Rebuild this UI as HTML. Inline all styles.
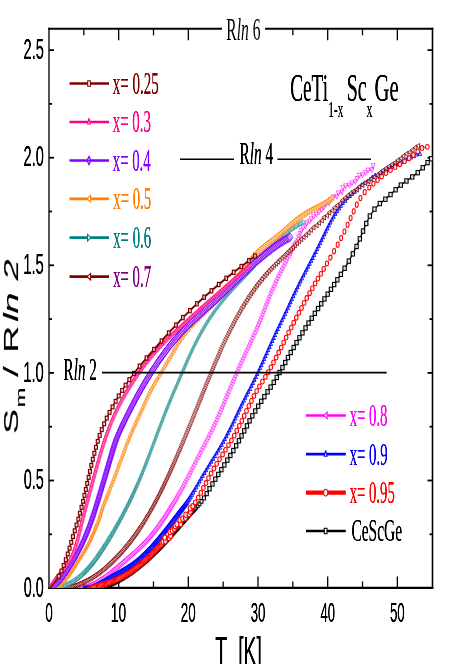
<!DOCTYPE html>
<html lang="en"><head><meta charset="utf-8"><title>Entropy of CeTi1-xScxGe</title><style>html,body{margin:0;padding:0;background:#fff;}body{width:450px;height:664px;overflow:hidden;}svg{display:block;}</style></head><body><svg width="450" height="664" viewBox="0 0 450 664"><rect x="0" y="0" width="450" height="664" fill="#fff"/><defs><filter id="bx" filterUnits="userSpaceOnUse" x="0" y="0" width="450" height="664" color-interpolation-filters="sRGB"><feGaussianBlur stdDeviation="0.3 0"/><feComponentTransfer><feFuncA type="linear" slope="1.45" intercept="-0.03"/></feComponentTransfer></filter></defs><defs><clipPath id="plotclip"><rect x="49.00" y="28.80" width="383.50" height="559.20"/></clipPath></defs>
<g id="frame"><line x1="49.00" y1="27.80" x2="49.00" y2="588.90" stroke="#2a2a2a" stroke-width="1.6"/><line x1="432.50" y1="27.80" x2="432.50" y2="588.90" stroke="#000" stroke-width="1.6"/><line x1="48.20" y1="587.90" x2="433.30" y2="587.90" stroke="#000" stroke-width="2.1"/><line x1="48.20" y1="28.80" x2="222.00" y2="28.80" stroke="#000" stroke-width="2"/><line x1="264.80" y1="28.80" x2="433.30" y2="28.80" stroke="#000" stroke-width="2"/><line x1="83.84" y1="587.90" x2="83.84" y2="581.40" stroke="#000" stroke-width="1.3"/><line x1="83.84" y1="28.80" x2="83.84" y2="35.30" stroke="#000" stroke-width="1.3"/><line x1="118.67" y1="587.90" x2="118.67" y2="576.40" stroke="#000" stroke-width="1.3"/><line x1="118.67" y1="28.80" x2="118.67" y2="40.30" stroke="#000" stroke-width="1.3"/><line x1="153.50" y1="587.90" x2="153.50" y2="581.40" stroke="#000" stroke-width="1.3"/><line x1="153.50" y1="28.80" x2="153.50" y2="35.30" stroke="#000" stroke-width="1.3"/><line x1="188.34" y1="587.90" x2="188.34" y2="576.40" stroke="#000" stroke-width="1.3"/><line x1="188.34" y1="28.80" x2="188.34" y2="40.30" stroke="#000" stroke-width="1.3"/><line x1="223.17" y1="587.90" x2="223.17" y2="581.40" stroke="#000" stroke-width="1.3"/><line x1="223.17" y1="28.80" x2="223.17" y2="35.30" stroke="#000" stroke-width="1.3"/><line x1="258.01" y1="587.90" x2="258.01" y2="576.40" stroke="#000" stroke-width="1.3"/><line x1="258.01" y1="28.80" x2="258.01" y2="40.30" stroke="#000" stroke-width="1.3"/><line x1="292.85" y1="587.90" x2="292.85" y2="581.40" stroke="#000" stroke-width="1.3"/><line x1="292.85" y1="28.80" x2="292.85" y2="35.30" stroke="#000" stroke-width="1.3"/><line x1="327.68" y1="587.90" x2="327.68" y2="576.40" stroke="#000" stroke-width="1.3"/><line x1="327.68" y1="28.80" x2="327.68" y2="40.30" stroke="#000" stroke-width="1.3"/><line x1="362.51" y1="587.90" x2="362.51" y2="581.40" stroke="#000" stroke-width="1.3"/><line x1="362.51" y1="28.80" x2="362.51" y2="35.30" stroke="#000" stroke-width="1.3"/><line x1="397.35" y1="587.90" x2="397.35" y2="576.40" stroke="#000" stroke-width="1.3"/><line x1="397.35" y1="28.80" x2="397.35" y2="40.30" stroke="#000" stroke-width="1.3"/><line x1="49.00" y1="534.30" x2="52.00" y2="534.30" stroke="#000" stroke-width="1.8"/><line x1="432.50" y1="534.30" x2="429.50" y2="534.30" stroke="#000" stroke-width="1.8"/><line x1="49.00" y1="480.50" x2="54.00" y2="480.50" stroke="#000" stroke-width="1.8"/><line x1="432.50" y1="480.50" x2="427.50" y2="480.50" stroke="#000" stroke-width="1.8"/><line x1="49.00" y1="426.70" x2="52.00" y2="426.70" stroke="#000" stroke-width="1.8"/><line x1="432.50" y1="426.70" x2="429.50" y2="426.70" stroke="#000" stroke-width="1.8"/><line x1="49.00" y1="372.90" x2="54.00" y2="372.90" stroke="#000" stroke-width="1.8"/><line x1="432.50" y1="372.90" x2="427.50" y2="372.90" stroke="#000" stroke-width="1.8"/><line x1="49.00" y1="319.10" x2="52.00" y2="319.10" stroke="#000" stroke-width="1.8"/><line x1="432.50" y1="319.10" x2="429.50" y2="319.10" stroke="#000" stroke-width="1.8"/><line x1="49.00" y1="265.30" x2="54.00" y2="265.30" stroke="#000" stroke-width="1.8"/><line x1="432.50" y1="265.30" x2="427.50" y2="265.30" stroke="#000" stroke-width="1.8"/><line x1="49.00" y1="211.50" x2="52.00" y2="211.50" stroke="#000" stroke-width="1.8"/><line x1="432.50" y1="211.50" x2="429.50" y2="211.50" stroke="#000" stroke-width="1.8"/><line x1="49.00" y1="157.70" x2="54.00" y2="157.70" stroke="#000" stroke-width="1.8"/><line x1="432.50" y1="157.70" x2="427.50" y2="157.70" stroke="#000" stroke-width="1.8"/><line x1="49.00" y1="103.90" x2="52.00" y2="103.90" stroke="#000" stroke-width="1.8"/><line x1="432.50" y1="103.90" x2="429.50" y2="103.90" stroke="#000" stroke-width="1.8"/><line x1="49.00" y1="50.10" x2="54.00" y2="50.10" stroke="#000" stroke-width="1.8"/><line x1="432.50" y1="50.10" x2="427.50" y2="50.10" stroke="#000" stroke-width="1.8"/></g>
<g id="curves" clip-path="url(#plotclip)"><g stroke="#000000" fill="none">
<path d="M100.0 588.3L102.9 587.5L105.7 586.5L108.5 585.5L111.3 584.4L114.1 583.2L116.8 581.8L119.4 580.4L122.0 578.9L124.6 577.3L127.1 575.7L129.6 574.1L132.0 572.3L134.5 570.6L136.8 568.8L139.2 566.9L141.5 565.0L143.8 563.1L146.1 561.1L148.3 559.1L150.5 557.1L152.7 555.0L154.9 552.9L157.0 550.8L159.1 548.7L161.2 546.5L163.3 544.4L165.3 542.2L167.4 540.0L169.4 537.7L171.4 535.5L173.4 533.3L175.3 531.0L177.3 528.7L179.3 526.5L181.2 524.2L183.2 521.9L185.2 519.7L187.2 517.4L189.2 515.2L191.2 513.0L193.2 510.8L195.2 508.6L197.7 505.9L199.4 503.9L201.5 501.3L203.9 498.0L206.7 493.6L209.5 488.8L212.4 484.0L215.3 479.2L218.3 474.4L221.3 469.7L224.4 464.9L227.4 460.2L230.4 455.4L233.3 450.6L236.1 445.7L238.9 440.8L241.6 435.8L244.2 430.8L246.9 425.8L249.6 420.8L252.4 415.9L255.2 411.0L258.2 406.2L261.3 401.4L264.4 396.6L267.5 391.9L270.6 387.1L273.7 382.3L276.7 377.5L279.6 372.5L282.4 367.6L285.2 362.6L288.0 357.6L290.8 352.6L293.6 347.6L296.5 342.6L299.5 337.7L302.5 332.8L305.5 327.9L308.6 323.1L311.7 318.2L314.9 313.4L318.0 308.6L321.2 303.8L324.5 299.0L327.7 294.2L330.9 289.4L334.1 284.6L337.4 279.7L340.8 274.4L344.7 268.2L348.9 261.1L352.8 253.8L356.5 246.4L359.9 238.8L363.0 231.2L366.2 223.5L369.9 216.0L374.5 209.1L379.8 203.6L385.3 199.2L390.6 194.6L395.6 189.8L400.8 185.0L406.4 180.9L412.2 177.0L417.7 172.6L422.8 167.8L427.5 162.6L431.0 158.7" stroke-width="1.35" stroke-linejoin="round"/>
<g fill="#fff" fill-opacity="0.85" stroke-width="1.00">
<rect x="98.7" y="586.6" width="2.7" height="3.3"/>
<rect x="100.1" y="586.3" width="2.7" height="3.3"/>
<rect x="101.5" y="585.8" width="2.7" height="3.3"/>
<rect x="103.0" y="585.4" width="2.7" height="3.3"/>
<rect x="104.4" y="584.9" width="2.7" height="3.3"/>
<rect x="105.8" y="584.4" width="2.7" height="3.3"/>
<rect x="107.2" y="583.9" width="2.7" height="3.3"/>
<rect x="108.6" y="583.3" width="2.7" height="3.3"/>
<rect x="110.0" y="582.7" width="2.7" height="3.3"/>
<rect x="111.4" y="582.1" width="2.7" height="3.3"/>
<rect x="112.7" y="581.5" width="2.7" height="3.3"/>
<rect x="114.1" y="580.9" width="2.7" height="3.3"/>
<rect x="115.4" y="580.2" width="2.7" height="3.3"/>
<rect x="116.7" y="579.5" width="2.7" height="3.3"/>
<rect x="118.0" y="578.7" width="2.7" height="3.3"/>
<rect x="119.3" y="578.0" width="2.7" height="3.3"/>
<rect x="120.6" y="577.2" width="2.7" height="3.3"/>
<rect x="121.9" y="576.5" width="2.7" height="3.3"/>
<rect x="123.2" y="575.7" width="2.7" height="3.3"/>
<rect x="124.5" y="574.9" width="2.7" height="3.3"/>
<rect x="125.7" y="574.1" width="2.7" height="3.3"/>
<rect x="127.0" y="573.3" width="2.7" height="3.3"/>
<rect x="128.2" y="572.4" width="2.7" height="3.3"/>
<rect x="129.5" y="571.6" width="2.7" height="3.3"/>
<rect x="130.7" y="570.7" width="2.7" height="3.3"/>
<rect x="131.9" y="569.8" width="2.7" height="3.3"/>
<rect x="133.1" y="568.9" width="2.7" height="3.3"/>
<rect x="134.3" y="568.0" width="2.7" height="3.3"/>
<rect x="135.5" y="567.1" width="2.7" height="3.3"/>
<rect x="136.7" y="566.2" width="2.7" height="3.3"/>
<rect x="137.8" y="565.2" width="2.7" height="3.3"/>
<rect x="139.0" y="564.3" width="2.7" height="3.3"/>
<rect x="140.2" y="563.3" width="2.7" height="3.3"/>
<rect x="141.3" y="562.4" width="2.7" height="3.3"/>
<rect x="142.5" y="561.4" width="2.7" height="3.3"/>
<rect x="143.6" y="560.4" width="2.7" height="3.3"/>
<rect x="144.7" y="559.4" width="2.7" height="3.3"/>
<rect x="145.9" y="558.5" width="2.7" height="3.3"/>
<rect x="147.0" y="557.4" width="2.7" height="3.3"/>
<rect x="148.1" y="556.4" width="2.7" height="3.3"/>
<rect x="149.2" y="555.4" width="2.7" height="3.3"/>
<rect x="150.3" y="554.4" width="2.7" height="3.3"/>
<rect x="151.4" y="553.4" width="2.7" height="3.3"/>
<rect x="152.4" y="552.3" width="2.7" height="3.3"/>
<rect x="153.5" y="551.3" width="2.7" height="3.3"/>
<rect x="154.6" y="550.2" width="2.7" height="3.3"/>
<rect x="155.7" y="549.2" width="2.7" height="3.3"/>
<rect x="156.7" y="548.1" width="2.7" height="3.3"/>
<rect x="157.8" y="547.0" width="2.7" height="3.3"/>
<rect x="158.8" y="546.0" width="2.7" height="3.3"/>
<rect x="159.9" y="544.9" width="2.7" height="3.3"/>
<rect x="160.9" y="543.8" width="2.7" height="3.3"/>
<rect x="161.9" y="542.7" width="2.7" height="3.3"/>
<rect x="163.0" y="541.6" width="2.7" height="3.3"/>
<rect x="164.0" y="540.5" width="2.7" height="3.3"/>
<rect x="165.0" y="539.4" width="2.7" height="3.3"/>
<rect x="166.0" y="538.3" width="2.7" height="3.3"/>
<rect x="167.0" y="537.2" width="2.7" height="3.3"/>
<rect x="168.0" y="536.1" width="2.7" height="3.3"/>
<rect x="169.0" y="535.0" width="2.7" height="3.3"/>
<rect x="170.0" y="533.9" width="2.7" height="3.3"/>
<rect x="171.0" y="532.7" width="2.7" height="3.3"/>
<rect x="172.0" y="531.6" width="2.7" height="3.3"/>
<rect x="173.0" y="530.5" width="2.7" height="3.3"/>
<rect x="174.0" y="529.3" width="2.7" height="3.3"/>
<rect x="175.0" y="528.2" width="2.7" height="3.3"/>
<rect x="176.0" y="527.1" width="2.7" height="3.3"/>
<rect x="176.9" y="526.0" width="2.7" height="3.3"/>
<rect x="177.9" y="524.8" width="2.7" height="3.3"/>
<rect x="178.9" y="523.7" width="2.7" height="3.3"/>
<rect x="179.9" y="522.6" width="2.7" height="3.3"/>
<rect x="180.9" y="521.4" width="2.7" height="3.3"/>
<rect x="181.9" y="520.3" width="2.7" height="3.3"/>
<rect x="182.8" y="519.2" width="2.7" height="3.3"/>
<rect x="183.8" y="518.0" width="2.7" height="3.3"/>
<rect x="184.8" y="516.9" width="2.7" height="3.3"/>
<rect x="185.8" y="515.8" width="2.7" height="3.3"/>
<rect x="186.8" y="514.7" width="2.7" height="3.3"/>
<rect x="187.8" y="513.6" width="2.7" height="3.3"/>
<rect x="188.8" y="512.4" width="2.7" height="3.3"/>
<rect x="189.8" y="511.3" width="2.7" height="3.3"/>
<rect x="190.9" y="510.2" width="2.7" height="3.3"/>
<rect x="191.9" y="509.1" width="2.7" height="3.3"/>
<rect x="192.9" y="508.0" width="2.7" height="3.3"/>
<rect x="193.9" y="506.9" width="2.7" height="3.3"/>
<rect x="194.9" y="505.7" width="2.8" height="3.4"/>
<rect x="196.3" y="504.1" width="2.8" height="3.5"/>
<rect x="198.0" y="502.1" width="2.9" height="3.6"/>
<rect x="200.0" y="499.5" width="3.0" height="3.7" stroke-width="1.04"/>
<rect x="202.4" y="496.0" width="3.1" height="3.9" stroke-width="1.06"/>
<rect x="205.1" y="491.6" width="3.2" height="4.1" stroke-width="1.08"/>
<rect x="207.9" y="486.6" width="3.3" height="4.3" stroke-width="1.10"/>
<rect x="210.8" y="481.8" width="3.3" height="4.3" stroke-width="1.10"/>
<rect x="213.7" y="477.0" width="3.3" height="4.3" stroke-width="1.10"/>
<rect x="216.6" y="472.3" width="3.3" height="4.3" stroke-width="1.10"/>
<rect x="219.7" y="467.5" width="3.3" height="4.3" stroke-width="1.10"/>
<rect x="222.7" y="462.8" width="3.3" height="4.3" stroke-width="1.10"/>
<rect x="225.7" y="458.0" width="3.3" height="4.3" stroke-width="1.10"/>
<rect x="228.7" y="453.3" width="3.3" height="4.3" stroke-width="1.10"/>
<rect x="231.7" y="448.4" width="3.3" height="4.3" stroke-width="1.10"/>
<rect x="234.5" y="443.6" width="3.3" height="4.3" stroke-width="1.10"/>
<rect x="237.3" y="438.6" width="3.3" height="4.3" stroke-width="1.10"/>
<rect x="239.9" y="433.7" width="3.3" height="4.3" stroke-width="1.10"/>
<rect x="242.6" y="428.7" width="3.3" height="4.3" stroke-width="1.10"/>
<rect x="245.3" y="423.7" width="3.3" height="4.3" stroke-width="1.10"/>
<rect x="247.9" y="418.7" width="3.3" height="4.3" stroke-width="1.10"/>
<rect x="250.7" y="413.7" width="3.3" height="4.3" stroke-width="1.10"/>
<rect x="253.6" y="408.9" width="3.3" height="4.3" stroke-width="1.10"/>
<rect x="256.5" y="404.0" width="3.3" height="4.3" stroke-width="1.10"/>
<rect x="259.6" y="399.2" width="3.3" height="4.3" stroke-width="1.10"/>
<rect x="262.7" y="394.5" width="3.3" height="4.3" stroke-width="1.10"/>
<rect x="265.9" y="389.7" width="3.3" height="4.3" stroke-width="1.10"/>
<rect x="269.0" y="385.0" width="3.3" height="4.3" stroke-width="1.10"/>
<rect x="272.1" y="380.2" width="3.3" height="4.3" stroke-width="1.10"/>
<rect x="275.1" y="375.3" width="3.3" height="4.3" stroke-width="1.10"/>
<rect x="277.9" y="370.4" width="3.3" height="4.3" stroke-width="1.10"/>
<rect x="280.8" y="365.4" width="3.3" height="4.3" stroke-width="1.10"/>
<rect x="283.6" y="360.4" width="3.3" height="4.3" stroke-width="1.10"/>
<rect x="286.3" y="355.4" width="3.3" height="4.3" stroke-width="1.10"/>
<rect x="289.1" y="350.4" width="3.3" height="4.3" stroke-width="1.10"/>
<rect x="292.0" y="345.4" width="3.3" height="4.3" stroke-width="1.10"/>
<rect x="294.9" y="340.5" width="3.3" height="4.3" stroke-width="1.10"/>
<rect x="297.8" y="335.6" width="3.3" height="4.3" stroke-width="1.10"/>
<rect x="300.8" y="330.7" width="3.3" height="4.3" stroke-width="1.10"/>
<rect x="303.9" y="325.8" width="3.3" height="4.3" stroke-width="1.10"/>
<rect x="306.9" y="320.9" width="3.3" height="4.3" stroke-width="1.10"/>
<rect x="310.1" y="316.1" width="3.3" height="4.3" stroke-width="1.10"/>
<rect x="313.2" y="311.2" width="3.3" height="4.3" stroke-width="1.10"/>
<rect x="316.4" y="306.4" width="3.3" height="4.3" stroke-width="1.10"/>
<rect x="319.6" y="301.6" width="3.3" height="4.3" stroke-width="1.10"/>
<rect x="322.8" y="296.8" width="3.3" height="4.3" stroke-width="1.10"/>
<rect x="326.0" y="292.0" width="3.3" height="4.3" stroke-width="1.10"/>
<rect x="329.3" y="287.2" width="3.3" height="4.3" stroke-width="1.10"/>
<rect x="332.5" y="282.4" width="3.3" height="4.3" stroke-width="1.10"/>
<rect x="335.7" y="277.6" width="3.3" height="4.3" stroke-width="1.10"/>
<rect x="339.2" y="272.2" width="3.3" height="4.3" stroke-width="1.10"/>
<rect x="343.0" y="266.1" width="3.3" height="4.3" stroke-width="1.10"/>
<rect x="347.2" y="259.0" width="3.3" height="4.3" stroke-width="1.10"/>
<rect x="351.2" y="251.7" width="3.3" height="4.3" stroke-width="1.10"/>
<rect x="354.9" y="244.3" width="3.3" height="4.3" stroke-width="1.10"/>
<rect x="358.2" y="236.7" width="3.3" height="4.3" stroke-width="1.10"/>
<rect x="361.4" y="229.0" width="3.3" height="4.3" stroke-width="1.10"/>
<rect x="364.6" y="221.3" width="3.3" height="4.3" stroke-width="1.10"/>
<rect x="368.2" y="213.9" width="3.3" height="4.3" stroke-width="1.10"/>
<rect x="372.8" y="207.0" width="3.3" height="4.3" stroke-width="1.10"/>
<rect x="378.2" y="201.4" width="3.3" height="4.3" stroke-width="1.10"/>
<rect x="383.7" y="197.1" width="3.3" height="4.3" stroke-width="1.10"/>
<rect x="388.9" y="192.4" width="3.3" height="4.3" stroke-width="1.10"/>
<rect x="394.0" y="187.6" width="3.3" height="4.3" stroke-width="1.10"/>
<rect x="399.2" y="182.9" width="3.3" height="4.3" stroke-width="1.10"/>
<rect x="404.8" y="178.8" width="3.3" height="4.3" stroke-width="1.10"/>
<rect x="410.6" y="174.8" width="3.3" height="4.3" stroke-width="1.10"/>
<rect x="416.1" y="170.5" width="3.3" height="4.3" stroke-width="1.10"/>
<rect x="421.1" y="165.6" width="3.3" height="4.3" stroke-width="1.10"/>
<rect x="425.9" y="160.5" width="3.3" height="4.3" stroke-width="1.10"/>
<rect x="429.4" y="156.6" width="3.3" height="4.3" stroke-width="1.10"/>
</g></g>
<g stroke="#ff00ff" fill="none">
<path d="M78.0 588.2L81.0 587.8L83.9 587.2L86.9 586.3L89.8 585.1L92.8 583.8L95.8 582.2L98.7 580.5L101.7 578.6L104.6 576.6L107.6 574.4L110.6 572.1L113.5 569.7L116.5 567.3L119.5 564.8L122.4 562.3L125.4 559.8L128.3 557.2L131.3 554.7L134.3 552.1L137.2 549.4L140.2 546.6L143.1 543.7L146.1 540.6L149.1 537.3L152.0 533.8" stroke-width="3.00" stroke-opacity="0.30" stroke-linejoin="round"/>
<path d="M152.0 533.8L155.0 530.1" stroke-width="2.80" stroke-opacity="0.30" stroke-linejoin="round"/>
<path d="M155.0 530.1L157.9 526.1" stroke-width="2.50" stroke-opacity="0.30" stroke-linejoin="round"/>
<path d="M157.9 526.1L160.9 521.9" stroke-width="2.21" stroke-opacity="0.30" stroke-linejoin="round"/>
<path d="M160.9 521.9L163.9 517.6" stroke-width="1.91" stroke-opacity="0.30" stroke-linejoin="round"/>
<path d="M163.9 517.6L166.8 513.0" stroke-width="1.61" stroke-opacity="0.30" stroke-linejoin="round"/>
<path d="M166.8 513.0L169.8 508.3" stroke-width="1.32" stroke-opacity="0.30" stroke-linejoin="round"/>
<path d="M169.8 508.3L172.7 503.5" stroke-width="1.02" stroke-opacity="0.30" stroke-linejoin="round"/>
<path d="M172.7 503.5L175.7 498.6" stroke-width="0.73" stroke-opacity="0.30" stroke-linejoin="round"/>
<path d="M175.7 498.6L178.7 493.5" stroke-width="0.43" stroke-opacity="0.30" stroke-linejoin="round"/>
<path d="M178.7 493.5L181.6 488.3" stroke-width="0.13" stroke-opacity="0.30" stroke-linejoin="round"/>
<path d="M78.0 588.2L81.0 587.8L83.9 587.2L86.8 586.3L89.6 585.2L92.3 584.0L95.0 582.7L97.6 581.2L100.1 579.6L102.6 577.9L105.1 576.2L107.5 574.5L109.9 572.6L112.3 570.8L114.6 568.9L116.9 567.0L119.2 565.0L121.5 563.1L123.8 561.2L126.0 559.2L128.3 557.2L130.6 555.3L132.9 553.3L135.1 551.3L137.3 549.3L139.5 547.3L141.7 545.2L143.8 543.0L145.9 540.9L147.9 538.7L149.9 536.4L151.8 534.1L153.7 531.8L155.5 529.4L157.3 527.0L159.0 524.6L160.8 522.1L162.5 519.6L164.1 517.1L165.8 514.6L167.4 512.1L169.0 509.6L170.6 507.0L172.2 504.3L174.0 501.5L175.8 498.4L177.7 495.1L178.7 493.4L179.7 491.6L180.8 489.7L181.9 487.8L183.0 485.8L184.1 483.8L185.2 481.6L186.4 479.4L187.6 477.2L188.8 474.8L190.0 472.4L191.2 469.9L192.5 467.4L193.7 464.9L195.0 462.4L196.3 459.9L197.5 457.4L198.8 454.9L200.1 452.4L201.3 449.9L202.7 447.4L204.0 444.9L205.3 442.5L206.6 440.0L207.9 437.5L209.1 435.0L210.4 432.5L211.6 430.0L212.8 427.5L214.0 424.9L215.2 422.4L216.3 419.8L217.5 417.3L218.6 414.7L219.7 412.1L220.8 409.6L221.9 407.0L223.0 404.4L224.1 401.8L225.2 399.2L226.3 396.7L227.3 394.1L228.4 391.5L229.5 388.9L230.6 386.3L231.7 383.7L232.7 381.2L233.8 378.6L235.0 376.0L236.1 373.4L237.2 370.9L238.3 368.3L239.4 365.8L240.6 363.2L241.7 360.7L242.9 358.1L244.1 355.6L245.2 353.0L246.4 350.5L247.6 347.9L248.8 345.4L250.0 342.9L251.1 340.3L252.3 337.8L253.4 335.2L254.6 332.6L255.7 330.1L256.8 327.5L257.9 324.9L258.9 322.3L260.0 319.8L261.0 317.2L262.1 314.5L263.1 311.9L264.1 309.3L265.1 306.7L266.2 304.1L267.2 301.5L268.2 298.9L269.3 296.3L270.3 293.7L271.4 291.1L272.5 288.6L273.6 286.0L274.8 283.4L275.9 280.9L277.1 278.4L278.3 275.8L279.6 273.3L280.8 270.8L282.0 268.3L283.3 265.8L284.6 263.3L285.8 260.8L286.9 258.2L288.6 255.9L289.9 253.4L291.1 250.9L292.3 248.4L293.5 245.9L294.4 243.2L296.4 241.0L297.7 238.6L298.5 235.7L300.3 233.4L301.2 230.5L303.0 228.0L305.6 226.2L306.6 223.0L309.6 221.5L311.4 218.8L313.6 216.4L316.4 214.4L318.9 212.1L321.5 209.9L323.8 207.4L325.8 204.6L329.0 203.0L330.5 199.7L333.1 197.4L336.9 196.6L338.4 193.1L342.1 192.2L342.8 187.8L345.7 186.0L349.5 185.3L352.0 183.0L355.3 181.8L357.2 178.6L359.2 175.5L362.8 174.8L365.5 172.7L368.0 170.3L371.9 169.9L373.1 165.7" stroke-width="0.90" stroke-linejoin="round"/>
<g fill="#fff" fill-opacity="0.6" stroke-width="0.70">
<path d="M79.6 585.7L76.0 588.2L79.6 590.7Z"/>
<path d="M81.1 585.5L77.5 588.0L81.1 590.5Z"/>
<path d="M82.6 585.3L79.0 587.8L82.6 590.3Z"/>
<path d="M84.0 585.0L80.4 587.5L84.0 590.0Z"/>
<path d="M85.5 584.7L81.9 587.2L85.5 589.7Z"/>
<path d="M87.0 584.3L83.4 586.8L87.0 589.3Z"/>
<path d="M88.4 583.8L84.8 586.3L88.4 588.8Z"/>
<path d="M89.8 583.3L86.2 585.8L89.8 588.3Z"/>
<path d="M91.2 582.7L87.6 585.2L91.2 587.7Z"/>
<path d="M92.6 582.2L89.0 584.7L92.6 587.2Z"/>
<path d="M93.9 581.5L90.3 584.0L93.9 586.5Z"/>
<path d="M95.3 580.9L91.7 583.4L95.3 585.9Z"/>
<path d="M96.6 580.2L93.0 582.7L96.6 585.2Z"/>
<path d="M97.9 579.4L94.3 581.9L97.9 584.4Z"/>
<path d="M99.2 578.7L95.6 581.2L99.2 583.7Z"/>
<path d="M100.5 577.9L96.9 580.4L100.5 582.9Z"/>
<path d="M101.7 577.1L98.1 579.6L101.7 582.1Z"/>
<path d="M103.0 576.3L99.4 578.8L103.0 581.3Z"/>
<path d="M104.2 575.4L100.6 577.9L104.2 580.4Z"/>
<path d="M105.5 574.6L101.9 577.1L105.5 579.6Z"/>
<path d="M106.7 573.7L103.1 576.2L106.7 578.7Z"/>
<path d="M107.9 572.8L104.3 575.3L107.9 577.8Z"/>
<path d="M109.1 572.0L105.5 574.5L109.1 577.0Z"/>
<path d="M110.3 571.0L106.7 573.5L110.3 576.0Z"/>
<path d="M111.5 570.1L107.9 572.6L111.5 575.1Z"/>
<path d="M112.7 569.2L109.1 571.7L112.7 574.2Z"/>
<path d="M113.9 568.3L110.3 570.8L113.9 573.3Z"/>
<path d="M115.0 567.3L111.4 569.8L115.0 572.3Z"/>
<path d="M116.2 566.4L112.6 568.9L116.2 571.4Z"/>
<path d="M117.3 565.4L113.7 567.9L117.3 570.4Z"/>
<path d="M118.5 564.5L114.9 567.0L118.5 569.5Z"/>
<path d="M119.7 563.5L116.1 566.0L119.7 568.5Z"/>
<path d="M120.8 562.5L117.2 565.0L120.8 567.5Z"/>
<path d="M122.0 561.6L118.4 564.1L122.0 566.6Z"/>
<path d="M123.1 560.6L119.5 563.1L123.1 565.6Z"/>
<path d="M124.2 559.6L120.6 562.1L124.2 564.6Z"/>
<path d="M125.4 558.7L121.8 561.2L125.4 563.7Z"/>
<path d="M126.5 557.7L122.9 560.2L126.5 562.7Z"/>
<path d="M127.6 556.7L124.0 559.2L127.6 561.7Z"/>
<path d="M128.8 555.7L125.2 558.2L128.8 560.7Z"/>
<path d="M129.9 554.7L126.3 557.2L129.9 559.7Z"/>
<path d="M131.1 553.8L127.5 556.3L131.1 558.8Z"/>
<path d="M132.2 552.8L128.6 555.3L132.2 557.8Z"/>
<path d="M133.3 551.8L129.7 554.3L133.3 556.8Z"/>
<path d="M134.5 550.8L130.9 553.3L134.5 555.8Z"/>
<path d="M135.6 549.8L132.0 552.3L135.6 554.8Z"/>
<path d="M136.7 548.8L133.1 551.3L136.7 553.8Z"/>
<path d="M137.8 547.8L134.2 550.3L137.8 552.8Z"/>
<path d="M138.9 546.8L135.3 549.3L138.9 551.8Z"/>
<path d="M140.0 545.8L136.4 548.3L140.0 550.8Z"/>
<path d="M141.1 544.8L137.5 547.3L141.1 549.8Z"/>
<path d="M142.2 543.7L138.6 546.2L142.2 548.7Z"/>
<path d="M143.3 542.7L139.7 545.2L143.3 547.7Z"/>
<path d="M144.3 541.6L140.7 544.1L144.3 546.6Z"/>
<path d="M145.4 540.5L141.8 543.0L145.4 545.5Z"/>
<path d="M146.4 539.5L142.8 542.0L146.4 544.5Z"/>
<path d="M147.5 538.4L143.9 540.9L147.5 543.4Z"/>
<path d="M148.5 537.3L144.9 539.8L148.5 542.3Z"/>
<path d="M149.5 536.2L145.9 538.7L149.5 541.2Z"/>
<path d="M150.5 535.0L146.9 537.5L150.5 540.0Z"/>
<path d="M151.5 533.9L147.9 536.4L151.5 538.9Z"/>
<path d="M152.4 532.8L148.8 535.3L152.4 537.8Z"/>
<path d="M153.4 531.6L149.8 534.1L153.4 536.6Z"/>
<path d="M154.3 530.4L150.7 532.9L154.3 535.4Z"/>
<path d="M155.3 529.3L151.7 531.8L155.3 534.3Z"/>
<path d="M156.2 528.1L152.6 530.6L156.2 533.1Z"/>
<path d="M157.1 526.9L153.5 529.4L157.1 531.9Z"/>
<path d="M158.0 525.7L154.4 528.2L158.0 530.7Z"/>
<path d="M158.9 524.5L155.3 527.0L158.9 529.5Z"/>
<path d="M159.8 523.3L156.2 525.8L159.8 528.3Z"/>
<path d="M160.6 522.1L157.0 524.6L160.6 527.1Z"/>
<path d="M161.5 520.8L157.9 523.3L161.5 525.8Z"/>
<path d="M162.4 519.6L158.8 522.1L162.4 524.6Z"/>
<path d="M163.2 518.4L159.6 520.9L163.2 523.4Z"/>
<path d="M164.1 517.1L160.5 519.6L164.1 522.1Z"/>
<path d="M164.9 515.9L161.3 518.4L164.9 520.9Z"/>
<path d="M165.7 514.7L162.1 517.1L165.7 519.6Z"/>
<path d="M166.6 513.4L163.0 515.9L166.6 518.4Z"/>
<path d="M167.4 512.1L163.8 514.6L167.4 517.1Z"/>
<path d="M168.2 510.9L164.6 513.4L168.2 515.8Z"/>
<path d="M169.0 509.6L165.4 512.1L169.0 514.6Z"/>
<path d="M169.8 508.4L166.2 510.8L169.8 513.3Z"/>
<path d="M170.6 507.1L167.0 509.6L170.6 512.0Z"/>
<path d="M171.4 505.8L167.8 508.3L171.4 510.8Z"/>
<path d="M172.2 504.6L168.6 507.0L172.2 509.5Z"/>
<path d="M173.0 503.3L169.4 505.7L173.0 508.2Z"/>
<path d="M173.8 501.9L170.2 504.3L173.8 506.8Z"/>
<path d="M174.7 500.5L171.1 502.9L174.7 505.4Z"/>
<path d="M175.6 499.0L172.0 501.5L175.6 503.9Z"/>
<path d="M176.5 497.5L172.9 500.0L176.5 502.4Z"/>
<path d="M177.4 496.0L173.8 498.4L177.4 500.9Z"/>
<path d="M178.3 494.4L174.7 496.8L178.3 499.2Z" stroke-width="0.67"/>
<path d="M179.3 492.7L175.7 495.1L179.3 497.6Z" stroke-width="0.66"/>
<path d="M180.3 491.0L176.7 493.4L180.3 495.8Z" stroke-width="0.66"/>
<path d="M181.3 489.2L177.7 491.6L181.3 494.0Z" stroke-width="0.65"/>
<path d="M182.4 487.3L178.8 489.7L182.4 492.2Z" stroke-width="0.65"/>
<path d="M183.5 485.4L179.9 487.8L183.5 490.2Z" stroke-width="0.64"/>
<path d="M184.6 483.4L181.0 485.8L184.6 488.2Z" stroke-width="0.64"/>
<path d="M185.7 481.4L182.1 483.8L185.7 486.2Z" stroke-width="0.63"/>
<path d="M186.8 479.2L183.2 481.6L186.8 484.0Z" stroke-width="0.62"/>
<path d="M188.0 477.0L184.4 479.4L188.0 481.8Z" stroke-width="0.62"/>
<path d="M189.2 474.8L185.6 477.2L189.2 479.6Z" stroke-width="0.61"/>
<path d="M190.4 472.4L186.8 474.8L190.4 477.2Z" stroke-width="0.61"/>
<path d="M191.6 470.0L188.0 472.4L191.6 474.8Z" stroke-width="0.60"/>
<path d="M192.8 467.5L189.2 469.9L192.8 472.3Z" stroke-width="0.60"/>
<path d="M194.1 465.0L190.5 467.4L194.1 469.8Z" stroke-width="0.60"/>
<path d="M195.3 462.5L191.7 464.9L195.3 467.3Z" stroke-width="0.60"/>
<path d="M196.6 460.0L193.0 462.4L196.6 464.8Z" stroke-width="0.60"/>
<path d="M197.9 457.5L194.3 459.9L197.9 462.3Z" stroke-width="0.60"/>
<path d="M199.1 455.0L195.5 457.4L199.1 459.8Z" stroke-width="0.60"/>
<path d="M200.4 452.5L196.8 454.9L200.4 457.3Z" stroke-width="0.60"/>
<path d="M201.7 450.0L198.1 452.4L201.7 454.8Z" stroke-width="0.60"/>
<path d="M202.9 447.5L199.3 449.9L202.9 452.3Z" stroke-width="0.60"/>
<path d="M204.3 445.0L200.7 447.4L204.3 449.8Z" stroke-width="0.60"/>
<path d="M205.6 442.5L202.0 444.9L205.6 447.3Z" stroke-width="0.60"/>
<path d="M206.9 440.1L203.3 442.5L206.9 444.9Z" stroke-width="0.60"/>
<path d="M208.2 437.6L204.6 440.0L208.2 442.4Z" stroke-width="0.60"/>
<path d="M209.5 435.1L205.9 437.5L209.5 439.9Z" stroke-width="0.60"/>
<path d="M210.7 432.6L207.1 435.0L210.7 437.4Z" stroke-width="0.60"/>
<path d="M212.0 430.1L208.4 432.5L212.0 434.9Z" stroke-width="0.60"/>
<path d="M213.2 427.6L209.6 430.0L213.2 432.4Z" stroke-width="0.60"/>
<path d="M214.4 425.1L210.8 427.5L214.4 429.9Z" stroke-width="0.60"/>
<path d="M215.6 422.5L212.0 424.9L215.6 427.3Z" stroke-width="0.60"/>
<path d="M216.8 420.0L213.2 422.4L216.8 424.8Z" stroke-width="0.60"/>
<path d="M217.9 417.4L214.3 419.8L217.9 422.2Z" stroke-width="0.60"/>
<path d="M219.1 414.9L215.5 417.3L219.1 419.7Z" stroke-width="0.60"/>
<path d="M220.2 412.3L216.6 414.7L220.2 417.1Z" stroke-width="0.60"/>
<path d="M221.3 409.7L217.7 412.1L221.3 414.5Z" stroke-width="0.60"/>
<path d="M222.4 407.2L218.8 409.6L222.4 412.0Z" stroke-width="0.60"/>
<path d="M223.5 404.6L219.9 407.0L223.5 409.4Z" stroke-width="0.60"/>
<path d="M224.6 402.0L221.0 404.4L224.6 406.8Z" stroke-width="0.60"/>
<path d="M225.7 399.4L222.1 401.8L225.7 404.2Z" stroke-width="0.60"/>
<path d="M226.8 396.8L223.2 399.2L226.8 401.6Z" stroke-width="0.60"/>
<path d="M227.9 394.3L224.3 396.7L227.9 399.1Z" stroke-width="0.60"/>
<path d="M228.9 391.7L225.3 394.1L228.9 396.5Z" stroke-width="0.60"/>
<path d="M230.0 389.1L226.4 391.5L230.0 393.9Z" stroke-width="0.60"/>
<path d="M231.1 386.5L227.5 388.9L231.1 391.3Z" stroke-width="0.60"/>
<path d="M232.2 383.9L228.6 386.3L232.2 388.7Z" stroke-width="0.60"/>
<path d="M233.3 381.3L229.7 383.7L233.3 386.1Z" stroke-width="0.60"/>
<path d="M234.3 378.8L230.7 381.2L234.3 383.6Z" stroke-width="0.60"/>
<path d="M235.4 376.2L231.8 378.6L235.4 381.0Z" stroke-width="0.60"/>
<path d="M236.6 373.6L233.0 376.0L236.6 378.4Z" stroke-width="0.60"/>
<path d="M237.7 371.0L234.1 373.4L237.7 375.8Z" stroke-width="0.60"/>
<path d="M238.8 368.5L235.2 370.9L238.8 373.3Z" stroke-width="0.60"/>
<path d="M239.9 365.9L236.3 368.3L239.9 370.7Z" stroke-width="0.60"/>
<path d="M241.0 363.4L237.4 365.8L241.0 368.2Z" stroke-width="0.60"/>
<path d="M242.2 360.8L238.6 363.2L242.2 365.6Z" stroke-width="0.60"/>
<path d="M243.3 358.3L239.7 360.7L243.3 363.1Z" stroke-width="0.60"/>
<path d="M244.5 355.7L240.9 358.1L244.5 360.5Z" stroke-width="0.60"/>
<path d="M245.7 353.2L242.1 355.6L245.7 358.0Z" stroke-width="0.60"/>
<path d="M246.8 350.6L243.2 353.0L246.8 355.4Z" stroke-width="0.60"/>
<path d="M248.0 348.1L244.4 350.5L248.0 352.9Z" stroke-width="0.60"/>
<path d="M249.2 345.5L245.6 347.9L249.2 350.3Z" stroke-width="0.60"/>
<path d="M250.4 343.0L246.8 345.4L250.4 347.8Z" stroke-width="0.60"/>
<path d="M251.6 340.5L248.0 342.9L251.6 345.3Z" stroke-width="0.60"/>
<path d="M252.7 337.9L249.1 340.3L252.7 342.7Z" stroke-width="0.60"/>
<path d="M253.9 335.4L250.3 337.8L253.9 340.2Z" stroke-width="0.60"/>
<path d="M255.0 332.8L251.4 335.2L255.0 337.6Z" stroke-width="0.60"/>
<path d="M256.2 330.2L252.6 332.6L256.2 335.0Z" stroke-width="0.60"/>
<path d="M257.3 327.7L253.7 330.1L257.3 332.5Z" stroke-width="0.60"/>
<path d="M258.4 325.1L254.8 327.5L258.4 329.9Z" stroke-width="0.60"/>
<path d="M259.5 322.5L255.9 324.9L259.5 327.3Z" stroke-width="0.60"/>
<path d="M260.5 319.9L256.9 322.3L260.5 324.7Z" stroke-width="0.60"/>
<path d="M261.6 317.4L258.0 319.8L261.6 322.2Z" stroke-width="0.60"/>
<path d="M262.6 314.8L259.0 317.2L262.6 319.6Z" stroke-width="0.60"/>
<path d="M263.7 312.1L260.1 314.5L263.7 316.9Z" stroke-width="0.60"/>
<path d="M264.7 309.5L261.1 311.9L264.7 314.3Z" stroke-width="0.60"/>
<path d="M265.7 306.9L262.1 309.3L265.7 311.7Z" stroke-width="0.60"/>
<path d="M266.7 304.3L263.1 306.7L266.7 309.1Z" stroke-width="0.60"/>
<path d="M267.8 301.7L264.2 304.1L267.8 306.5Z" stroke-width="0.60"/>
<path d="M268.8 299.1L265.2 301.5L268.8 303.9Z" stroke-width="0.60"/>
<path d="M269.8 296.5L266.2 298.9L269.8 301.3Z" stroke-width="0.60"/>
<path d="M270.9 293.9L267.3 296.3L270.9 298.7Z" stroke-width="0.60"/>
<path d="M271.9 291.3L268.3 293.7L271.9 296.1Z" stroke-width="0.60"/>
<path d="M273.0 288.7L269.4 291.1L273.0 293.5Z" stroke-width="0.60"/>
<path d="M274.1 286.2L270.5 288.6L274.1 291.0Z" stroke-width="0.60"/>
<path d="M275.2 283.6L271.6 286.0L275.2 288.4Z" stroke-width="0.60"/>
<path d="M276.4 281.0L272.8 283.4L276.4 285.8Z" stroke-width="0.60"/>
<path d="M277.5 278.5L273.9 280.9L277.5 283.3Z" stroke-width="0.60"/>
<path d="M278.7 276.0L275.1 278.4L278.7 280.8Z" stroke-width="0.60"/>
<path d="M279.9 273.4L276.3 275.8L279.9 278.2Z" stroke-width="0.60"/>
<path d="M281.2 270.9L277.6 273.3L281.2 275.7Z" stroke-width="0.60"/>
<path d="M282.4 268.4L278.8 270.8L282.4 273.2Z" stroke-width="0.60"/>
<path d="M283.6 265.9L280.0 268.3L283.6 270.7Z" stroke-width="0.60"/>
<path d="M284.9 263.4L281.3 265.8L284.9 268.2Z" stroke-width="0.60"/>
<path d="M286.2 260.9L282.6 263.3L286.2 265.7Z" stroke-width="0.60"/>
<path d="M287.4 258.4L283.8 260.8L287.4 263.2Z" stroke-width="0.60"/>
<path d="M288.5 255.8L284.9 258.2L288.5 260.6Z" stroke-width="0.60"/>
<path d="M290.2 253.5L286.6 255.9L290.2 258.3Z" stroke-width="0.60"/>
<path d="M291.5 251.0L287.9 253.4L291.5 255.8Z" stroke-width="0.60"/>
<path d="M292.7 248.5L289.1 250.9L292.7 253.3Z" stroke-width="0.60"/>
<path d="M294.0 246.0L290.3 248.4L294.0 250.8Z" stroke-width="0.60"/>
<path d="M295.1 243.4L291.5 245.9L295.1 248.3Z" stroke-width="0.60"/>
<path d="M296.0 240.7L292.4 243.2L296.0 245.6Z" stroke-width="0.60"/>
<path d="M298.0 238.5L294.3 241.0L298.0 243.5Z" stroke-width="0.60"/>
<path d="M299.4 236.0L295.7 238.6L299.4 241.1Z" stroke-width="0.60"/>
<path d="M300.2 233.2L296.5 235.7L300.2 238.2Z" stroke-width="0.60"/>
<path d="M298.2 231.3L302.3 231.3L300.3 235.9Z" stroke-width="0.60"/>
<path d="M299.2 228.4L303.3 228.4L301.2 233.1Z" stroke-width="0.60"/>
<path d="M300.9 226.0L305.1 226.0L303.0 230.6Z" stroke-width="0.60"/>
<path d="M303.5 224.1L307.7 224.1L305.6 228.8Z" stroke-width="0.60"/>
<path d="M304.5 220.9L308.7 220.9L306.6 225.7Z" stroke-width="0.60"/>
<path d="M307.5 219.3L311.7 219.3L309.6 224.2Z" stroke-width="0.60"/>
<path d="M309.3 216.7L313.5 216.7L311.4 221.5Z" stroke-width="0.60"/>
<path d="M311.5 214.2L315.7 214.2L313.6 219.1Z" stroke-width="0.60"/>
<path d="M314.3 212.3L318.5 212.3L316.4 217.1Z" stroke-width="0.60"/>
<path d="M316.8 210.0L321.0 210.0L318.9 214.8Z" stroke-width="0.60"/>
<path d="M319.4 207.8L323.6 207.8L321.5 212.6Z" stroke-width="0.60"/>
<path d="M321.7 205.3L325.9 205.3L323.8 210.1Z" stroke-width="0.60"/>
<path d="M323.7 202.4L327.9 202.4L325.8 207.3Z" stroke-width="0.60"/>
<path d="M326.9 200.8L331.1 200.8L329.0 205.7Z" stroke-width="0.60"/>
<path d="M328.4 197.5L332.6 197.5L330.5 202.4Z" stroke-width="0.60"/>
<path d="M331.0 195.2L335.2 195.2L333.1 200.1Z" stroke-width="0.60"/>
<path d="M334.8 194.4L339.0 194.4L336.9 199.3Z" stroke-width="0.60"/>
<path d="M336.3 190.9L340.5 190.9L338.4 195.8Z" stroke-width="0.60"/>
<path d="M340.0 190.1L344.2 190.1L342.1 194.9Z" stroke-width="0.60"/>
<path d="M340.7 185.6L344.9 185.6L342.8 190.5Z" stroke-width="0.60"/>
<path d="M343.6 183.8L347.8 183.8L345.7 188.7Z" stroke-width="0.60"/>
<path d="M347.4 183.1L351.6 183.1L349.5 188.0Z" stroke-width="0.60"/>
<path d="M349.9 180.8L354.1 180.8L352.0 185.7Z" stroke-width="0.60"/>
<path d="M353.2 179.7L357.4 179.7L355.3 184.5Z" stroke-width="0.60"/>
<path d="M355.1 176.5L359.3 176.5L357.2 181.3Z" stroke-width="0.60"/>
<path d="M357.1 173.3L361.3 173.3L359.2 178.2Z" stroke-width="0.60"/>
<path d="M360.7 172.6L364.9 172.6L362.8 177.5Z" stroke-width="0.60"/>
<path d="M363.4 170.5L367.6 170.5L365.5 175.4Z" stroke-width="0.60"/>
<path d="M365.9 168.1L370.1 168.1L368.0 173.0Z" stroke-width="0.60"/>
<path d="M369.8 167.7L374.0 167.7L371.9 172.6Z" stroke-width="0.60"/>
<path d="M371.0 163.6L375.2 163.6L373.1 168.4Z" stroke-width="0.60"/>
</g></g>
<g stroke="#0000ff" fill="none">
<path d="M84.0 588.3L87.4 588.0L90.7 587.4L94.1 586.2L97.5 584.7L100.9 582.9L104.2 581.0L107.6 579.0L111.0 577.0L114.3 575.2L117.7 573.3L121.1 571.4L124.5 569.5L127.8 567.5L131.2 565.2L134.6 562.8L137.9 560.1L141.3 557.1L144.7 553.9L148.0 550.5L151.4 546.9L154.8 543.1L158.2 539.1L161.5 535.1L164.9 530.9L168.3 526.6L171.6 522.2L175.0 517.8L178.4 513.4L181.8 508.9" stroke-width="4.00" stroke-opacity="0.70" stroke-linejoin="round"/>
<path d="M181.8 508.9L185.1 504.4" stroke-width="3.42" stroke-opacity="0.70" stroke-linejoin="round"/>
<path d="M185.1 504.4L188.5 499.6" stroke-width="2.29" stroke-opacity="0.70" stroke-linejoin="round"/>
<path d="M188.5 499.6L191.9 494.2" stroke-width="1.17" stroke-opacity="0.70" stroke-linejoin="round"/>
<path d="M84.0 588.3L86.4 588.2L88.8 587.8L91.1 587.3L93.4 586.5L95.6 585.6L97.8 584.6L99.9 583.4L102.0 582.3L104.1 581.1L106.1 579.9L108.2 578.6L110.3 577.4L112.4 576.3L114.5 575.1L116.6 573.9L118.7 572.8L120.8 571.6L122.8 570.4L124.9 569.2L127.0 568.0L129.0 566.7L131.0 565.4L132.9 564.0L134.9 562.5L136.8 561.1L138.6 559.5L140.4 557.9L142.2 556.3L143.9 554.6L145.6 553.0L147.3 551.3L149.0 549.5L150.6 547.8L152.2 546.0L153.8 544.2L155.4 542.4L156.9 540.6L158.5 538.7L160.0 536.9L161.6 535.0L163.1 533.2L164.6 531.3L166.1 529.4L167.5 527.5L169.0 525.6L170.5 523.7L171.9 521.8L173.4 519.9L174.9 518.0L176.3 516.1L177.8 514.2L179.2 512.3L180.7 510.4L182.1 508.5L183.5 506.5L185.0 504.6L186.4 502.5L188.3 499.9L190.4 496.6L191.6 494.6L193.0 492.3L194.5 489.9L196.1 487.1L197.8 484.3L199.4 481.4L201.0 478.6L202.7 475.7L204.4 472.9L206.1 470.1L207.8 467.3L209.6 464.4L211.3 461.6L213.1 458.8L214.8 456.0L216.5 453.2L218.2 450.4L219.9 447.6L221.6 444.7L223.2 441.8L224.8 439.0L226.4 436.1L227.9 433.1L229.4 430.2L230.9 427.2L232.4 424.3L233.8 421.3L235.2 418.3L236.6 415.3L238.0 412.4L239.4 409.4L240.9 406.4L242.3 403.4L243.8 400.5L245.3 397.6L246.8 394.6L248.3 391.7L249.9 388.8L251.4 385.8L252.9 382.9L254.3 379.9L255.8 377.0L257.2 374.0L258.6 371.0L260.0 368.0L261.4 365.0L262.7 362.0L264.1 359.0L265.4 356.0L266.8 353.0L268.1 350.0L269.5 346.9L270.8 343.9L272.2 340.9L273.6 337.9L274.9 334.9L276.3 331.9L277.7 329.0L279.2 326.0L280.6 323.0L282.0 320.0L283.5 317.1L284.9 314.1L286.3 311.1L287.7 308.1L289.1 305.1L290.4 302.1L291.8 299.1L293.2 296.1L294.6 293.1L296.0 290.2L297.5 287.2L299.0 284.2L300.4 281.3L301.9 278.3L303.5 275.4L305.0 272.5L306.5 269.6L308.0 266.6L309.6 263.7L311.1 260.8L312.6 257.9L314.1 254.9L315.6 252.0L317.1 249.0L318.6 246.1L320.0 243.1L321.5 240.1L322.9 237.2L324.4 234.2L325.8 231.3L327.3 228.3L328.8 225.4L330.3 222.5L331.9 219.5L333.5 216.7L335.2 213.8L337.1 211.1L339.0 208.4L340.9 205.7L342.7 202.9L345.1 200.7L347.0 197.9L349.8 196.0L352.1 193.7L354.7 191.6L356.9 189.1L359.4 187.0L361.8 184.7L364.5 182.8L367.5 181.3L370.1 179.2L372.5 176.9L375.3 175.2L378.5 174.1L381.3 172.4L384.2 170.8L387.0 169.0L390.0 167.7L392.9 166.1L395.6 164.1L398.9 163.4L401.7 161.6L404.7 160.1L407.6 158.6L410.6 157.2L413.5 155.6L416.5 154.2L419.8 153.6" stroke-width="1.30" stroke-linejoin="round"/>
<g fill="#fff" fill-opacity="0.3" stroke-width="0.90">
<path d="M81.9 590.4L84.0 585.7L86.1 590.4Z"/>
<path d="M83.1 590.3L85.2 585.7L87.3 590.3Z"/>
<path d="M84.3 590.2L86.4 585.6L88.5 590.2Z"/>
<path d="M85.5 590.1L87.6 585.4L89.7 590.1Z"/>
<path d="M86.7 589.9L88.8 585.2L90.9 589.9Z"/>
<path d="M87.9 589.7L90.0 585.0L92.1 589.7Z"/>
<path d="M89.0 589.4L91.1 584.7L93.2 589.4Z"/>
<path d="M90.2 589.1L92.3 584.4L94.4 589.1Z"/>
<path d="M91.3 588.6L93.4 583.9L95.5 588.6Z"/>
<path d="M92.4 588.1L94.5 583.5L96.6 588.1Z"/>
<path d="M93.5 587.6L95.6 583.0L97.7 587.6Z"/>
<path d="M94.6 587.1L96.7 582.5L98.8 587.1Z"/>
<path d="M95.7 586.6L97.8 582.0L99.9 586.6Z"/>
<path d="M96.7 586.1L98.8 581.4L100.9 586.1Z"/>
<path d="M97.8 585.5L99.9 580.8L102.0 585.5Z"/>
<path d="M98.8 584.9L100.9 580.3L103.0 584.9Z"/>
<path d="M99.9 584.3L102.0 579.7L104.1 584.3Z"/>
<path d="M100.9 583.8L103.0 579.1L105.1 583.8Z"/>
<path d="M102.0 583.2L104.1 578.5L106.2 583.2Z"/>
<path d="M103.0 582.6L105.1 577.9L107.2 582.6Z"/>
<path d="M104.0 581.9L106.1 577.3L108.2 581.9Z"/>
<path d="M105.1 581.3L107.2 576.7L109.3 581.3Z"/>
<path d="M106.1 580.7L108.2 576.0L110.3 580.7Z"/>
<path d="M107.1 580.1L109.2 575.4L111.3 580.1Z"/>
<path d="M108.2 579.5L110.3 574.8L112.4 579.5Z"/>
<path d="M109.2 578.9L111.3 574.2L113.4 578.9Z"/>
<path d="M110.3 578.3L112.4 573.7L114.5 578.3Z"/>
<path d="M111.3 577.8L113.4 573.1L115.5 577.8Z"/>
<path d="M112.4 577.2L114.5 572.5L116.6 577.2Z"/>
<path d="M113.4 576.6L115.5 571.9L117.6 576.6Z"/>
<path d="M114.5 576.0L116.6 571.3L118.7 576.0Z"/>
<path d="M115.5 575.4L117.6 570.8L119.7 575.4Z"/>
<path d="M116.6 574.9L118.7 570.2L120.8 574.9Z"/>
<path d="M117.6 574.3L119.7 569.6L121.8 574.3Z"/>
<path d="M118.7 573.7L120.8 569.0L122.9 573.7Z"/>
<path d="M119.7 573.1L121.8 568.4L123.9 573.1Z"/>
<path d="M120.7 572.5L122.8 567.8L124.9 572.5Z"/>
<path d="M121.8 571.9L123.9 567.2L126.0 571.9Z"/>
<path d="M122.8 571.3L124.9 566.6L127.0 571.3Z"/>
<path d="M123.8 570.7L125.9 566.0L128.0 570.7Z"/>
<path d="M124.9 570.1L127.0 565.4L129.1 570.1Z"/>
<path d="M125.9 569.4L128.0 564.7L130.1 569.4Z"/>
<path d="M126.9 568.8L129.0 564.1L131.1 568.8Z"/>
<path d="M127.9 568.1L130.0 563.4L132.1 568.1Z"/>
<path d="M128.9 567.4L131.0 562.8L133.1 567.4Z"/>
<path d="M129.9 566.7L132.0 562.1L134.1 566.7Z"/>
<path d="M130.8 566.0L132.9 561.4L135.0 566.0Z"/>
<path d="M131.8 565.3L133.9 560.7L136.0 565.3Z"/>
<path d="M132.8 564.6L134.9 559.9L137.0 564.6Z"/>
<path d="M133.7 563.9L135.8 559.2L137.9 563.9Z"/>
<path d="M134.7 563.1L136.8 558.5L138.9 563.1Z"/>
<path d="M135.6 562.4L137.7 557.7L139.8 562.4Z"/>
<path d="M136.5 561.6L138.6 556.9L140.7 561.6Z"/>
<path d="M137.4 560.8L139.5 556.1L141.6 560.8Z"/>
<path d="M138.3 560.0L140.4 555.3L142.5 560.0Z"/>
<path d="M139.2 559.2L141.3 554.5L143.4 559.2Z"/>
<path d="M140.1 558.4L142.2 553.7L144.3 558.4Z"/>
<path d="M140.9 557.6L143.0 552.9L145.1 557.6Z"/>
<path d="M141.8 556.7L143.9 552.0L146.0 556.7Z"/>
<path d="M142.7 555.9L144.8 551.2L146.9 555.9Z"/>
<path d="M143.5 555.1L145.6 550.4L147.7 555.1Z"/>
<path d="M144.4 554.2L146.5 549.5L148.6 554.2Z"/>
<path d="M145.2 553.3L147.3 548.7L149.4 553.3Z"/>
<path d="M146.0 552.5L148.1 547.8L150.2 552.5Z"/>
<path d="M146.9 551.6L149.0 546.9L151.1 551.6Z"/>
<path d="M147.7 550.7L149.8 546.0L151.9 550.7Z"/>
<path d="M148.5 549.8L150.6 545.2L152.7 549.8Z"/>
<path d="M149.3 549.0L151.4 544.3L153.5 549.0Z"/>
<path d="M150.1 548.1L152.2 543.4L154.3 548.1Z"/>
<path d="M150.9 547.2L153.0 542.5L155.1 547.2Z"/>
<path d="M151.7 546.3L153.8 541.6L155.9 546.3Z"/>
<path d="M152.5 545.4L154.6 540.7L156.7 545.4Z"/>
<path d="M153.3 544.5L155.4 539.8L157.5 544.5Z"/>
<path d="M154.1 543.6L156.2 538.9L158.3 543.6Z"/>
<path d="M154.8 542.6L156.9 538.0L159.0 542.6Z"/>
<path d="M155.6 541.7L157.7 537.0L159.8 541.7Z"/>
<path d="M156.4 540.8L158.5 536.1L160.6 540.8Z"/>
<path d="M157.2 539.9L159.3 535.2L161.4 539.9Z"/>
<path d="M157.9 539.0L160.0 534.3L162.1 539.0Z"/>
<path d="M158.7 538.0L160.8 533.4L162.9 538.0Z"/>
<path d="M159.5 537.1L161.6 532.4L163.7 537.1Z"/>
<path d="M160.2 536.2L162.3 531.5L164.4 536.2Z"/>
<path d="M161.0 535.2L163.1 530.6L165.2 535.2Z"/>
<path d="M161.7 534.3L163.8 529.6L165.9 534.3Z"/>
<path d="M162.5 533.4L164.6 528.7L166.7 533.4Z"/>
<path d="M163.2 532.4L165.3 527.7L167.4 532.4Z"/>
<path d="M164.0 531.5L166.1 526.8L168.2 531.5Z"/>
<path d="M164.7 530.5L166.8 525.9L168.9 530.5Z"/>
<path d="M165.4 529.6L167.5 524.9L169.6 529.6Z"/>
<path d="M166.2 528.7L168.3 524.0L170.4 528.7Z"/>
<path d="M166.9 527.7L169.0 523.0L171.1 527.7Z"/>
<path d="M167.6 526.8L169.7 522.1L171.8 526.8Z"/>
<path d="M168.4 525.8L170.5 521.1L172.6 525.8Z"/>
<path d="M169.1 524.9L171.2 520.2L173.3 524.9Z"/>
<path d="M169.8 523.9L171.9 519.2L174.0 523.9Z"/>
<path d="M170.6 523.0L172.7 518.3L174.8 523.0Z"/>
<path d="M171.3 522.0L173.4 517.3L175.5 522.0Z"/>
<path d="M172.0 521.1L174.1 516.4L176.2 521.1Z"/>
<path d="M172.8 520.1L174.9 515.4L177.0 520.1Z"/>
<path d="M173.5 519.1L175.6 514.5L177.7 519.1Z"/>
<path d="M174.2 518.2L176.3 513.5L178.4 518.2Z"/>
<path d="M175.0 517.2L177.1 512.6L179.2 517.2Z"/>
<path d="M175.7 516.3L177.8 511.6L179.9 516.3Z"/>
<path d="M176.4 515.3L178.5 510.6L180.6 515.3Z"/>
<path d="M177.1 514.4L179.2 509.7L181.3 514.4Z"/>
<path d="M177.8 513.4L179.9 508.7L182.0 513.4Z"/>
<path d="M178.6 512.4L180.7 507.8L182.8 512.4Z"/>
<path d="M179.3 511.5L181.4 506.9L183.5 511.5Z"/>
<path d="M180.0 510.5L182.1 505.9L184.2 510.5Z"/>
<path d="M180.8 509.5L182.8 505.0L184.9 509.5Z"/>
<path d="M181.5 508.5L183.5 504.0L185.6 508.5Z"/>
<path d="M182.2 507.5L184.3 503.1L186.3 507.5Z"/>
<path d="M183.0 506.6L185.0 502.1L187.0 506.6Z"/>
<path d="M183.7 505.6L185.7 501.2L187.7 505.6Z"/>
<path d="M184.5 504.5L186.4 500.1L188.4 504.5Z"/>
<path d="M185.4 503.2L187.3 498.9L189.3 503.2Z"/>
<path d="M186.3 501.8L188.3 497.6L190.2 501.8Z"/>
<path d="M187.4 500.2L189.3 496.0L191.2 500.2Z"/>
<path d="M188.5 498.4L190.4 494.3L192.3 498.4Z"/>
<path d="M189.8 496.4L191.6 492.3L193.5 496.4Z"/>
<path d="M191.1 494.1L193.0 490.1L194.8 494.1Z"/>
<path d="M192.7 491.6L194.5 487.7L196.3 491.6Z"/>
<path d="M194.3 488.8L196.1 485.0L197.9 488.8Z"/>
<path d="M196.0 485.9L197.8 482.2L199.5 485.9Z"/>
<path d="M197.7 483.0L199.4 479.4L201.1 483.0Z"/>
<path d="M199.3 480.2L201.0 476.6L202.7 480.2Z"/>
<path d="M201.0 477.3L202.7 473.7L204.4 477.3Z"/>
<path d="M202.7 474.5L204.4 470.9L206.1 474.5Z"/>
<path d="M204.4 471.7L206.1 468.1L207.8 471.7Z"/>
<path d="M206.1 468.9L207.8 465.3L209.5 468.9Z"/>
<path d="M207.9 466.0L209.6 462.4L211.3 466.0Z"/>
<path d="M209.6 463.2L211.3 459.6L213.0 463.2Z"/>
<path d="M211.4 460.4L213.1 456.8L214.8 460.4Z"/>
<path d="M213.1 457.6L214.8 454.0L216.5 457.6Z"/>
<path d="M214.8 454.8L216.5 451.2L218.2 454.8Z"/>
<path d="M216.5 452.0L218.2 448.4L219.9 452.0Z"/>
<path d="M218.2 449.2L219.9 445.6L221.6 449.2Z"/>
<path d="M219.9 446.3L221.6 442.7L223.3 446.3Z"/>
<path d="M221.5 443.4L223.2 439.8L224.9 443.4Z"/>
<path d="M223.1 440.6L224.8 437.0L226.5 440.6Z"/>
<path d="M224.7 437.7L226.4 434.1L228.1 437.7Z"/>
<path d="M226.2 434.7L227.9 431.1L229.6 434.7Z"/>
<path d="M227.7 431.8L229.4 428.2L231.1 431.8Z"/>
<path d="M229.2 428.8L230.9 425.2L232.6 428.8Z"/>
<path d="M230.7 425.9L232.4 422.3L234.1 425.9Z"/>
<path d="M232.1 422.9L233.8 419.3L235.5 422.9Z"/>
<path d="M233.5 419.9L235.2 416.3L236.9 419.9Z"/>
<path d="M234.9 416.9L236.6 413.3L238.3 416.9Z"/>
<path d="M236.3 414.0L238.0 410.4L239.7 414.0Z"/>
<path d="M237.7 411.0L239.4 407.4L241.1 411.0Z"/>
<path d="M239.2 408.0L240.9 404.4L242.6 408.0Z"/>
<path d="M240.6 405.0L242.3 401.4L244.0 405.0Z"/>
<path d="M242.1 402.1L243.8 398.5L245.5 402.1Z"/>
<path d="M243.6 399.2L245.3 395.6L247.0 399.2Z"/>
<path d="M245.1 396.2L246.8 392.6L248.5 396.2Z"/>
<path d="M246.6 393.3L248.3 389.7L250.0 393.3Z"/>
<path d="M248.2 390.4L249.9 386.8L251.6 390.4Z"/>
<path d="M249.7 387.4L251.4 383.8L253.1 387.4Z"/>
<path d="M251.2 384.5L252.9 380.9L254.6 384.5Z"/>
<path d="M252.6 381.5L254.3 377.9L256.0 381.5Z"/>
<path d="M254.1 378.6L255.8 375.0L257.5 378.6Z"/>
<path d="M255.5 375.6L257.2 372.0L258.9 375.6Z"/>
<path d="M256.9 372.6L258.6 369.0L260.3 372.6Z"/>
<path d="M258.3 369.6L260.0 366.0L261.7 369.6Z"/>
<path d="M259.7 366.6L261.4 363.0L263.1 366.6Z"/>
<path d="M261.0 363.6L262.7 360.0L264.4 363.6Z"/>
<path d="M262.4 360.6L264.1 357.0L265.8 360.6Z"/>
<path d="M263.7 357.6L265.4 354.0L267.1 357.6Z"/>
<path d="M265.1 354.6L266.8 351.0L268.5 354.6Z"/>
<path d="M266.4 351.6L268.1 348.0L269.8 351.6Z"/>
<path d="M267.8 348.5L269.5 344.9L271.2 348.5Z"/>
<path d="M269.1 345.5L270.8 341.9L272.5 345.5Z"/>
<path d="M270.5 342.5L272.2 338.9L273.9 342.5Z"/>
<path d="M271.9 339.5L273.6 335.9L275.3 339.5Z"/>
<path d="M273.2 336.5L274.9 332.9L276.6 336.5Z"/>
<path d="M274.6 333.5L276.3 329.9L278.0 333.5Z"/>
<path d="M276.0 330.6L277.7 327.0L279.4 330.6Z"/>
<path d="M277.5 327.6L279.2 324.0L280.9 327.6Z"/>
<path d="M278.9 324.6L280.6 321.0L282.3 324.6Z"/>
<path d="M280.3 321.6L282.0 318.0L283.7 321.6Z"/>
<path d="M281.8 318.7L283.5 315.1L285.2 318.7Z"/>
<path d="M283.2 315.7L284.9 312.1L286.6 315.7Z"/>
<path d="M284.6 312.7L286.3 309.1L288.0 312.7Z"/>
<path d="M286.0 309.7L287.7 306.1L289.4 309.7Z"/>
<path d="M287.4 306.7L289.1 303.1L290.8 306.7Z"/>
<path d="M288.7 303.7L290.4 300.1L292.1 303.7Z"/>
<path d="M290.1 300.7L291.8 297.1L293.5 300.7Z"/>
<path d="M291.5 297.7L293.2 294.1L294.9 297.7Z"/>
<path d="M292.9 294.7L294.6 291.1L296.3 294.7Z"/>
<path d="M294.3 291.8L296.0 288.2L297.7 291.8Z"/>
<path d="M295.8 288.8L297.5 285.2L299.2 288.8Z"/>
<path d="M297.3 285.8L299.0 282.2L300.7 285.8Z"/>
<path d="M298.7 282.9L300.4 279.3L302.1 282.9Z"/>
<path d="M300.2 279.9L301.9 276.3L303.6 279.9Z"/>
<path d="M301.8 277.0L303.5 273.4L305.2 277.0Z"/>
<path d="M303.3 274.1L305.0 270.5L306.7 274.1Z"/>
<path d="M304.8 271.2L306.5 267.6L308.2 271.2Z"/>
<path d="M306.3 268.2L308.0 264.6L309.7 268.2Z"/>
<path d="M307.9 265.3L309.6 261.7L311.3 265.3Z"/>
<path d="M309.4 262.4L311.1 258.8L312.8 262.4Z"/>
<path d="M310.9 259.5L312.6 255.9L314.3 259.5Z"/>
<path d="M312.4 256.5L314.1 252.9L315.8 256.5Z"/>
<path d="M313.9 253.6L315.6 250.0L317.3 253.6Z"/>
<path d="M315.4 250.6L317.1 247.0L318.8 250.6Z"/>
<path d="M316.9 247.7L318.6 244.1L320.3 247.7Z"/>
<path d="M318.3 244.7L320.0 241.1L321.7 244.7Z"/>
<path d="M319.8 241.7L321.5 238.1L323.2 241.7Z"/>
<path d="M321.2 238.8L322.9 235.2L324.6 238.8Z"/>
<path d="M322.7 235.8L324.4 232.2L326.1 235.8Z"/>
<path d="M324.1 232.9L325.8 229.3L327.5 232.9Z"/>
<path d="M325.6 229.9L327.3 226.3L329.0 229.9Z"/>
<path d="M327.1 227.0L328.8 223.4L330.5 227.0Z"/>
<path d="M328.6 224.1L330.3 220.5L332.0 224.1Z"/>
<path d="M330.2 221.1L331.9 217.5L333.6 221.1Z"/>
<path d="M331.8 218.3L333.5 214.7L335.2 218.3Z"/>
<path d="M333.5 215.4L335.2 211.8L336.9 215.4Z"/>
<path d="M335.4 212.7L337.1 209.1L338.8 212.7Z"/>
<path d="M337.3 210.0L339.0 206.4L340.7 210.0Z"/>
<path d="M339.2 207.3L340.9 203.7L342.6 207.3Z"/>
<path d="M341.0 204.5L342.7 200.9L344.4 204.5Z"/>
<path d="M343.4 202.3L345.1 198.7L346.8 202.3Z"/>
<path d="M345.3 199.5L347.0 195.9L348.7 199.5Z"/>
<path d="M348.1 197.6L349.8 194.0L351.5 197.6Z"/>
<path d="M350.4 195.3L352.1 191.7L353.8 195.3Z"/>
<path d="M353.0 193.2L354.7 189.6L356.4 193.2Z"/>
<path d="M355.2 190.7L356.9 187.1L358.6 190.7Z"/>
<path d="M357.7 188.6L359.4 185.0L361.1 188.6Z"/>
<path d="M360.1 186.3L361.8 182.7L363.5 186.3Z"/>
<path d="M362.8 184.4L364.5 180.8L366.2 184.4Z"/>
<path d="M365.8 182.9L367.5 179.3L369.2 182.9Z"/>
<path d="M368.4 180.8L370.1 177.2L371.8 180.8Z"/>
<path d="M370.7 178.5L372.5 174.9L374.2 178.5Z"/>
<path d="M373.5 176.8L375.3 173.1L377.0 176.8Z"/>
<path d="M376.7 175.8L378.5 172.0L380.3 175.8Z"/>
<path d="M379.5 174.1L381.3 170.2L383.1 174.1Z"/>
<path d="M382.4 172.6L384.2 168.6L386.1 172.6Z"/>
<path d="M385.1 170.8L387.0 166.7L388.8 170.8Z"/>
<path d="M388.1 169.6L390.0 165.4L391.9 169.6Z"/>
<path d="M391.0 168.0L392.9 163.8L394.8 168.0Z"/>
<path d="M393.7 166.0L395.6 161.8L397.5 166.0Z"/>
<path d="M397.0 165.2L398.9 161.1L400.8 165.2Z"/>
<path d="M399.8 163.4L401.7 159.3L403.6 163.4Z"/>
<path d="M402.8 161.9L404.7 157.8L406.6 161.9Z"/>
<path d="M405.7 160.4L407.6 156.3L409.5 160.4Z"/>
<path d="M408.7 159.0L410.6 154.9L412.5 159.0Z"/>
<path d="M411.6 157.5L413.5 153.3L415.4 157.5Z"/>
<path d="M414.6 156.0L416.5 151.9L418.4 156.0Z"/>
<path d="M417.9 155.4L419.8 151.3L421.7 155.4Z"/>
</g></g>
<g stroke="#ff0000" fill="none">
<path d="M90.0 588.3L93.4 587.4L96.8 586.4L100.2 585.4L103.6 584.3L107.0 583.2L110.3 582.1L113.7 580.8L117.1 579.4L120.5 577.8L123.9 576.1L127.3 574.1L130.7 571.9L134.1 569.4L137.5 566.8L140.9 564.0L144.3 561.0L147.6 558.0L151.0 554.7L154.4 551.3L157.8 547.8" stroke-width="3.60" stroke-opacity="0.70" stroke-linejoin="round"/>
<path d="M157.8 547.8L161.2 544.2" stroke-width="2.47" stroke-opacity="0.70" stroke-linejoin="round"/>
<path d="M161.2 544.2L164.6 540.5" stroke-width="1.12" stroke-opacity="0.70" stroke-linejoin="round"/>
<path d="M90.0 588.3L92.3 587.7L94.6 587.0L96.9 586.4L99.2 585.7L101.5 585.0L103.8 584.2L106.1 583.5L108.4 582.8L110.6 582.0L112.9 581.1L115.1 580.3L117.3 579.3L119.5 578.3L121.7 577.3L123.8 576.1L125.9 574.9L127.9 573.7L129.9 572.4L131.9 571.0L133.9 569.6L135.8 568.2L137.6 566.7L139.5 565.1L141.3 563.6L143.1 562.0L144.9 560.4L146.7 558.8L148.5 557.2L150.2 555.5L151.9 553.8L153.6 552.1L155.3 550.4L157.0 548.7L158.6 547.0L160.3 545.2L161.7 542.8L165.3 541.2L164.7 537.6L169.1 538.0L170.6 535.8L170.0 531.9L172.3 530.5L174.4 528.8L175.2 526.1L176.9 524.2L180.6 523.9L180.0 520.0L182.7 518.8L185.4 517.7L185.8 514.7L189.1 514.0L190.4 511.6L190.2 508.3L192.8 506.2L195.3 502.3L198.2 497.6L200.8 492.8L203.4 487.9L206.0 483.0L208.5 478.1L211.1 473.3L213.9 468.5L216.7 463.8L219.6 459.1L222.6 454.4L225.5 449.8L228.5 445.1L231.4 440.4L234.2 435.6L236.8 430.7L239.3 425.8L241.8 420.9L244.2 415.9L246.5 410.9L248.9 405.9L251.4 400.9L253.9 395.9L256.6 391.1L259.4 386.3L262.4 381.6L265.4 376.9L268.2 372.2L270.9 367.3L273.5 362.4L276.1 357.5L278.7 352.5L281.2 347.6L283.7 342.6L286.1 337.6L288.6 332.6L291.2 327.6L293.7 322.7L296.3 317.7L298.9 312.8L301.5 307.9L304.1 302.9L306.8 298.0L309.6 293.2L312.3 288.3L315.1 283.4L317.9 278.6L320.8 273.8L323.7 268.9" stroke-width="1.00" stroke-linejoin="round"/>
<path d="M323.7 268.9L326.9 263.5" stroke-width="0.83" stroke-linejoin="round"/>
<path d="M326.9 263.5L330.4 257.6" stroke-width="0.68" stroke-linejoin="round"/>
<path d="M330.4 257.6L334.1 251.2" stroke-width="0.51" stroke-linejoin="round"/>
<path d="M334.1 251.2L337.7 244.7L341.1 238.1L344.4 231.5L347.6 224.8L350.6 218.1L353.7 211.3L356.8 204.7L360.4 198.1L364.7 192.2L369.3 187.6" stroke-width="0.34" stroke-linejoin="round"/>
<path d="M369.3 187.6L373.4 183.8" stroke-width="0.47" stroke-linejoin="round"/>
<path d="M373.4 183.8L377.5 180.1" stroke-width="0.64" stroke-linejoin="round"/>
<path d="M377.5 180.1L381.6 176.4L385.9 173.1L390.5 170.0L395.1 167.1L399.9 164.2L404.5 161.3L409.1 158.2L413.4 154.9L417.7 151.4L422.0 148.0L427.3 146.8" stroke-width="0.80" stroke-linejoin="round"/>
<g fill="#fff" fill-opacity="0.85" stroke-width="1.05">
<ellipse cx="90.0" cy="588.3" rx="1.8" ry="2.4"/>
<ellipse cx="91.2" cy="588.0" rx="1.8" ry="2.4"/>
<ellipse cx="92.3" cy="587.7" rx="1.8" ry="2.4"/>
<ellipse cx="93.5" cy="587.4" rx="1.8" ry="2.4"/>
<ellipse cx="94.6" cy="587.0" rx="1.8" ry="2.4"/>
<ellipse cx="95.8" cy="586.7" rx="1.8" ry="2.4"/>
<ellipse cx="96.9" cy="586.4" rx="1.8" ry="2.4"/>
<ellipse cx="98.1" cy="586.0" rx="1.8" ry="2.4"/>
<ellipse cx="99.2" cy="585.7" rx="1.8" ry="2.4"/>
<ellipse cx="100.4" cy="585.3" rx="1.8" ry="2.4"/>
<ellipse cx="101.5" cy="585.0" rx="1.8" ry="2.4"/>
<ellipse cx="102.7" cy="584.6" rx="1.8" ry="2.4"/>
<ellipse cx="103.8" cy="584.2" rx="1.8" ry="2.4"/>
<ellipse cx="105.0" cy="583.9" rx="1.8" ry="2.4"/>
<ellipse cx="106.1" cy="583.5" rx="1.8" ry="2.4"/>
<ellipse cx="107.2" cy="583.1" rx="1.8" ry="2.4"/>
<ellipse cx="108.4" cy="582.8" rx="1.8" ry="2.4"/>
<ellipse cx="109.5" cy="582.4" rx="1.8" ry="2.4"/>
<ellipse cx="110.6" cy="582.0" rx="1.8" ry="2.4"/>
<ellipse cx="111.8" cy="581.5" rx="1.8" ry="2.4"/>
<ellipse cx="112.9" cy="581.1" rx="1.8" ry="2.4"/>
<ellipse cx="114.0" cy="580.7" rx="1.8" ry="2.4"/>
<ellipse cx="115.1" cy="580.3" rx="1.8" ry="2.4"/>
<ellipse cx="116.2" cy="579.8" rx="1.8" ry="2.4"/>
<ellipse cx="117.3" cy="579.3" rx="1.8" ry="2.4"/>
<ellipse cx="118.4" cy="578.8" rx="1.8" ry="2.4"/>
<ellipse cx="119.5" cy="578.3" rx="1.8" ry="2.4"/>
<ellipse cx="120.6" cy="577.8" rx="1.8" ry="2.4"/>
<ellipse cx="121.7" cy="577.3" rx="1.8" ry="2.4"/>
<ellipse cx="122.7" cy="576.7" rx="1.8" ry="2.4"/>
<ellipse cx="123.8" cy="576.1" rx="1.8" ry="2.4"/>
<ellipse cx="124.8" cy="575.5" rx="1.8" ry="2.4"/>
<ellipse cx="125.9" cy="574.9" rx="1.8" ry="2.4"/>
<ellipse cx="126.9" cy="574.3" rx="1.8" ry="2.4"/>
<ellipse cx="127.9" cy="573.7" rx="1.8" ry="2.4"/>
<ellipse cx="128.9" cy="573.0" rx="1.8" ry="2.4"/>
<ellipse cx="129.9" cy="572.4" rx="1.8" ry="2.4"/>
<ellipse cx="130.9" cy="571.7" rx="1.8" ry="2.4"/>
<ellipse cx="131.9" cy="571.0" rx="1.8" ry="2.4"/>
<ellipse cx="132.9" cy="570.3" rx="1.8" ry="2.4"/>
<ellipse cx="133.9" cy="569.6" rx="1.8" ry="2.4"/>
<ellipse cx="134.8" cy="568.9" rx="1.8" ry="2.4"/>
<ellipse cx="135.8" cy="568.2" rx="1.8" ry="2.4"/>
<ellipse cx="136.7" cy="567.4" rx="1.8" ry="2.4"/>
<ellipse cx="137.6" cy="566.7" rx="1.8" ry="2.4"/>
<ellipse cx="138.6" cy="565.9" rx="1.8" ry="2.4"/>
<ellipse cx="139.5" cy="565.1" rx="1.8" ry="2.4"/>
<ellipse cx="140.4" cy="564.4" rx="1.8" ry="2.4"/>
<ellipse cx="141.3" cy="563.6" rx="1.8" ry="2.4"/>
<ellipse cx="142.2" cy="562.8" rx="1.8" ry="2.4"/>
<ellipse cx="143.1" cy="562.0" rx="1.8" ry="2.4"/>
<ellipse cx="144.0" cy="561.2" rx="1.8" ry="2.4"/>
<ellipse cx="144.9" cy="560.4" rx="1.8" ry="2.4"/>
<ellipse cx="145.8" cy="559.6" rx="1.8" ry="2.4"/>
<ellipse cx="146.7" cy="558.8" rx="1.8" ry="2.4"/>
<ellipse cx="147.6" cy="558.0" rx="1.8" ry="2.4"/>
<ellipse cx="148.5" cy="557.2" rx="1.8" ry="2.4"/>
<ellipse cx="149.3" cy="556.4" rx="1.8" ry="2.4"/>
<ellipse cx="150.2" cy="555.5" rx="1.8" ry="2.4"/>
<ellipse cx="151.1" cy="554.7" rx="1.8" ry="2.4"/>
<ellipse cx="151.9" cy="553.8" rx="1.8" ry="2.4"/>
<ellipse cx="152.8" cy="553.0" rx="1.8" ry="2.4"/>
<ellipse cx="153.6" cy="552.1" rx="1.8" ry="2.4"/>
<ellipse cx="154.5" cy="551.3" rx="1.8" ry="2.4"/>
<ellipse cx="155.3" cy="550.4" rx="1.8" ry="2.4"/>
<ellipse cx="156.1" cy="549.6" rx="1.8" ry="2.4"/>
<ellipse cx="157.0" cy="548.7" rx="1.8" ry="2.4"/>
<ellipse cx="157.8" cy="547.8" rx="1.8" ry="2.4"/>
<ellipse cx="158.6" cy="547.0" rx="1.8" ry="2.4"/>
<ellipse cx="159.4" cy="546.1" rx="1.8" ry="2.4"/>
<ellipse cx="160.3" cy="545.2" rx="1.8" ry="2.4"/>
<ellipse cx="161.3" cy="544.5" rx="1.8" ry="2.5"/>
<ellipse cx="161.7" cy="542.8" rx="1.8" ry="2.5"/>
<ellipse cx="162.9" cy="541.7" rx="1.9" ry="2.6"/>
<ellipse cx="165.3" cy="541.2" rx="2.0" ry="2.7"/>
<ellipse cx="164.7" cy="537.6" rx="1.9" ry="2.7"/>
<ellipse cx="169.1" cy="538.0" rx="2.0" ry="2.8"/>
<ellipse cx="170.6" cy="535.8" rx="2.0" ry="2.8"/>
<ellipse cx="170.0" cy="531.9" rx="2.0" ry="2.8"/>
<ellipse cx="172.3" cy="530.5" rx="2.0" ry="2.8"/>
<ellipse cx="174.4" cy="528.8" rx="2.0" ry="2.8"/>
<ellipse cx="175.2" cy="526.1" rx="2.0" ry="2.8"/>
<ellipse cx="176.9" cy="524.2" rx="2.0" ry="2.8"/>
<ellipse cx="180.6" cy="523.9" rx="2.0" ry="2.8"/>
<ellipse cx="180.0" cy="520.0" rx="2.0" ry="2.8"/>
<ellipse cx="182.7" cy="518.8" rx="2.0" ry="2.8"/>
<ellipse cx="185.4" cy="517.7" rx="2.0" ry="2.8"/>
<ellipse cx="185.8" cy="514.7" rx="2.0" ry="2.8"/>
<ellipse cx="189.1" cy="514.0" rx="2.0" ry="2.8"/>
<ellipse cx="190.4" cy="511.6" rx="2.0" ry="2.8"/>
<ellipse cx="190.2" cy="508.3" rx="2.0" ry="2.8"/>
<ellipse cx="192.8" cy="506.2" rx="1.9" ry="2.6"/>
<ellipse cx="195.3" cy="502.3" rx="1.8" ry="2.4"/>
<ellipse cx="198.2" cy="497.6" rx="1.8" ry="2.4"/>
<ellipse cx="200.8" cy="492.8" rx="1.8" ry="2.4"/>
<ellipse cx="203.4" cy="487.9" rx="1.8" ry="2.4"/>
<ellipse cx="206.0" cy="483.0" rx="1.8" ry="2.4"/>
<ellipse cx="208.5" cy="478.1" rx="1.8" ry="2.4"/>
<ellipse cx="211.1" cy="473.3" rx="1.8" ry="2.4"/>
<ellipse cx="213.9" cy="468.5" rx="1.8" ry="2.4"/>
<ellipse cx="216.7" cy="463.8" rx="1.8" ry="2.4"/>
<ellipse cx="219.6" cy="459.1" rx="1.8" ry="2.4"/>
<ellipse cx="222.6" cy="454.4" rx="1.8" ry="2.4"/>
<ellipse cx="225.5" cy="449.8" rx="1.8" ry="2.4"/>
<ellipse cx="228.5" cy="445.1" rx="1.8" ry="2.4"/>
<ellipse cx="231.4" cy="440.4" rx="1.8" ry="2.4"/>
<ellipse cx="234.2" cy="435.6" rx="1.8" ry="2.4"/>
<ellipse cx="236.8" cy="430.7" rx="1.8" ry="2.4"/>
<ellipse cx="239.3" cy="425.8" rx="1.8" ry="2.4"/>
<ellipse cx="241.8" cy="420.9" rx="1.8" ry="2.4"/>
<ellipse cx="244.2" cy="415.9" rx="1.8" ry="2.4"/>
<ellipse cx="246.5" cy="410.9" rx="1.8" ry="2.4"/>
<ellipse cx="248.9" cy="405.9" rx="1.8" ry="2.4"/>
<ellipse cx="251.4" cy="400.9" rx="1.8" ry="2.4"/>
<ellipse cx="253.9" cy="395.9" rx="1.8" ry="2.4"/>
<ellipse cx="256.6" cy="391.1" rx="1.8" ry="2.4"/>
<ellipse cx="259.4" cy="386.3" rx="1.8" ry="2.4"/>
<ellipse cx="262.4" cy="381.6" rx="1.8" ry="2.4"/>
<ellipse cx="265.4" cy="376.9" rx="1.8" ry="2.4"/>
<ellipse cx="268.2" cy="372.2" rx="1.8" ry="2.4"/>
<ellipse cx="270.9" cy="367.3" rx="1.8" ry="2.4"/>
<ellipse cx="273.5" cy="362.4" rx="1.8" ry="2.4"/>
<ellipse cx="276.1" cy="357.5" rx="1.8" ry="2.4"/>
<ellipse cx="278.7" cy="352.5" rx="1.8" ry="2.4"/>
<ellipse cx="281.2" cy="347.6" rx="1.8" ry="2.4"/>
<ellipse cx="283.7" cy="342.6" rx="1.8" ry="2.4"/>
<ellipse cx="286.1" cy="337.6" rx="1.8" ry="2.4"/>
<ellipse cx="288.6" cy="332.6" rx="1.8" ry="2.4"/>
<ellipse cx="291.2" cy="327.6" rx="1.8" ry="2.4"/>
<ellipse cx="293.7" cy="322.7" rx="1.8" ry="2.4"/>
<ellipse cx="296.3" cy="317.7" rx="1.8" ry="2.4"/>
<ellipse cx="298.9" cy="312.8" rx="1.8" ry="2.4"/>
<ellipse cx="301.5" cy="307.9" rx="1.8" ry="2.4"/>
<ellipse cx="304.1" cy="302.9" rx="1.8" ry="2.4"/>
<ellipse cx="306.8" cy="298.0" rx="1.8" ry="2.4"/>
<ellipse cx="309.6" cy="293.2" rx="1.8" ry="2.4"/>
<ellipse cx="312.3" cy="288.3" rx="1.8" ry="2.4"/>
<ellipse cx="315.1" cy="283.4" rx="1.8" ry="2.4"/>
<ellipse cx="317.9" cy="278.6" rx="1.8" ry="2.4"/>
<ellipse cx="320.8" cy="273.8" rx="1.7" ry="2.4"/>
<ellipse cx="323.7" cy="268.9" rx="1.7" ry="2.4"/>
<ellipse cx="326.9" cy="263.5" rx="1.6" ry="2.5"/>
<ellipse cx="330.4" cy="257.6" rx="1.6" ry="2.5"/>
<ellipse cx="334.1" cy="251.2" rx="1.5" ry="2.6"/>
<ellipse cx="337.7" cy="244.7" rx="1.5" ry="2.6"/>
<ellipse cx="341.1" cy="238.1" rx="1.5" ry="2.6"/>
<ellipse cx="344.4" cy="231.5" rx="1.5" ry="2.6"/>
<ellipse cx="347.6" cy="224.8" rx="1.5" ry="2.6"/>
<ellipse cx="350.6" cy="218.1" rx="1.5" ry="2.6"/>
<ellipse cx="353.7" cy="211.3" rx="1.5" ry="2.6"/>
<ellipse cx="356.8" cy="204.7" rx="1.5" ry="2.6"/>
<ellipse cx="360.4" cy="198.1" rx="1.5" ry="2.6"/>
<ellipse cx="364.7" cy="192.2" rx="1.5" ry="2.6"/>
<ellipse cx="369.3" cy="187.6" rx="1.6" ry="2.5"/>
<ellipse cx="373.4" cy="183.8" rx="1.6" ry="2.5"/>
<ellipse cx="377.5" cy="180.1" rx="1.7" ry="2.4"/>
<ellipse cx="381.6" cy="176.4" rx="1.8" ry="2.4"/>
<ellipse cx="385.9" cy="173.1" rx="1.8" ry="2.4"/>
<ellipse cx="390.5" cy="170.0" rx="1.8" ry="2.4"/>
<ellipse cx="395.1" cy="167.1" rx="1.8" ry="2.4"/>
<ellipse cx="399.9" cy="164.2" rx="1.8" ry="2.4"/>
<ellipse cx="404.5" cy="161.3" rx="1.8" ry="2.4"/>
<ellipse cx="409.1" cy="158.2" rx="1.8" ry="2.4"/>
<ellipse cx="413.4" cy="154.9" rx="1.8" ry="2.4"/>
<ellipse cx="417.7" cy="151.4" rx="1.8" ry="2.4"/>
<ellipse cx="422.0" cy="148.0" rx="1.8" ry="2.4"/>
<ellipse cx="427.3" cy="146.8" rx="1.8" ry="2.4"/>
</g></g>
<g stroke="#800000" fill="none">
<path d="M64.0 588.2L67.5 587.5L71.1 586.6L74.6 585.6L78.2 584.3L81.7 582.8L85.2 581.1L88.8 579.2L92.3 577.1L95.9 574.8L99.4 572.3L102.9 569.5L106.5 566.5L110.0 563.2L113.6 559.8L117.1 556.2L120.7 552.4L124.2 548.4L127.7 544.1L131.3 539.6L134.8 534.8" stroke-width="3.40" stroke-opacity="0.60" stroke-linejoin="round"/>
<path d="M134.8 534.8L138.4 529.8" stroke-width="3.21" stroke-opacity="0.60" stroke-linejoin="round"/>
<path d="M138.4 529.8L141.9 524.5" stroke-width="3.07" stroke-opacity="0.60" stroke-linejoin="round"/>
<path d="M141.9 524.5L145.4 518.9" stroke-width="2.92" stroke-opacity="0.60" stroke-linejoin="round"/>
<path d="M145.4 518.9L149.0 512.9" stroke-width="2.78" stroke-opacity="0.60" stroke-linejoin="round"/>
<path d="M149.0 512.9L152.5 506.6" stroke-width="2.64" stroke-opacity="0.60" stroke-linejoin="round"/>
<path d="M152.5 506.6L156.1 500.1" stroke-width="2.38" stroke-opacity="0.60" stroke-linejoin="round"/>
<path d="M156.1 500.1L159.6 493.1" stroke-width="2.07" stroke-opacity="0.60" stroke-linejoin="round"/>
<path d="M159.6 493.1L163.1 485.9" stroke-width="1.77" stroke-opacity="0.60" stroke-linejoin="round"/>
<path d="M163.1 485.9L166.7 478.4" stroke-width="1.46" stroke-opacity="0.60" stroke-linejoin="round"/>
<path d="M166.7 478.4L170.2 470.6" stroke-width="1.15" stroke-opacity="0.60" stroke-linejoin="round"/>
<path d="M170.2 470.6L173.8 462.6" stroke-width="0.85" stroke-opacity="0.60" stroke-linejoin="round"/>
<path d="M173.8 462.6L177.3 454.5" stroke-width="0.54" stroke-opacity="0.60" stroke-linejoin="round"/>
<path d="M177.3 454.5L180.8 446.2" stroke-width="0.23" stroke-opacity="0.60" stroke-linejoin="round"/>
<path d="M64.0 588.2L67.1 587.6L70.3 586.8L73.3 586.0L76.4 585.0L79.3 583.8L82.3 582.5L85.2 581.1L88.0 579.6L90.8 578.1L93.5 576.4L96.2 574.6L98.8 572.8L101.3 570.8L103.8 568.8L106.2 566.7L108.6 564.6L110.9 562.4L113.2 560.2L115.5 557.9L117.7 555.6L119.9 553.2L122.0 550.8L124.1 548.4L126.2 546.0L128.2 543.5L130.2 541.0L132.1 538.5L134.0 535.9L135.9 533.3L137.8 530.7L139.6 528.0L141.3 525.4L143.1 522.7L144.8 520.0L146.4 517.2L148.1 514.5L149.7 511.7L151.2 508.9L152.8 506.1L154.3 503.3L155.8 500.5L157.3 497.7L158.8 494.8L160.2 491.9L161.6 489.1L163.0 486.2L164.4 483.3L165.7 480.4L167.1 477.5L168.4 474.6L169.8 471.7L171.1 468.8L172.4 465.8L173.7 462.7L175.1 459.6L176.5 456.4L177.9 453.2L179.3 449.8L180.7 446.4L182.2 443.0L183.7 439.5L185.2 435.8L186.7 432.2L187.4 430.3L188.2 428.4L189.0 426.5L189.8 424.6L190.6 422.7L191.4 420.7L192.2 418.8L192.9 416.8L193.7 414.9L194.5 412.9L195.3 410.9L196.1 409.0L196.9 407.0L197.7 405.1L198.5 403.1L199.3 401.1L200.1 399.2L200.8 397.2L201.6 395.2L202.4 393.2L203.2 391.3L204.0 389.3L204.8 387.3L205.6 385.3L206.4 383.3L207.2 381.3L208.0 379.4L208.8 377.4L209.7 375.4L210.5 373.4L211.3 371.4L212.1 369.4L212.9 367.4L213.8 365.4L214.6 363.4L215.5 361.5L216.3 359.5L217.2 357.5L218.0 355.5L218.9 353.5L219.7 351.5L220.6 349.5L221.5 347.5L222.4 345.5L223.3 343.6L224.2 341.6L225.1 339.6L226.1 337.6L227.0 335.6L228.0 333.7L228.9 331.7L229.9 329.7L230.9 327.8L231.9 325.8L233.0 323.7L234.0 321.7L235.1 319.6L236.3 317.5L237.5 315.4L238.7 313.2L240.0 311.0L241.3 308.7L242.6 306.5L243.9 304.2L245.3 302.0L246.7 299.8L248.1 297.6L249.5 295.5L251.0 293.3L252.5 291.2L254.0 289.1L255.5 286.9L257.0 284.9L258.6 282.8L260.2 280.8L261.9 278.7L263.5 276.7L265.2 274.8L266.9 272.8L268.7 270.9L270.5 269.0L272.3 267.1L274.1 265.3L276.0 263.5L277.8 261.6L279.7 259.8L281.6 258.0L283.5 256.2L285.3 254.4L287.2 252.6L289.1 250.8L290.9 249.0L292.9 247.2L294.8 245.3L296.9 243.3L299.0 241.3L301.2 239.2L303.5 237.0L306.0 234.8L308.5 232.6L310.8 229.9L313.4 227.4L316.5 225.4L319.0 222.9L321.7 220.5L323.8 217.4L327.0 215.5L329.2 212.6L332.2 210.6L334.5 207.7L337.2 205.5L340.1 203.3L342.3 200.3L345.2 198.1L347.7 195.5L350.5 193.3L353.4 191.2L356.7 189.6L359.1 186.7L362.3 185.0L365.2 182.9L368.4 181.2L371.1 178.8L374.3 177.0L377.4 175.1L380.0 172.5L382.8 170.4L385.9 168.5L388.9 166.4L391.9 164.5L395.0 162.6L397.7 160.2L400.8 158.4L403.4 155.9L406.4 153.9L409.6 152.2L412.4 149.8L415.2 147.5L418.0 146.0" stroke-width="0.90" stroke-linejoin="round"/>
<g fill="#fff" fill-opacity="0.6" stroke-width="0.75">
<path d="M65.6 585.7L62.0 588.2L65.6 590.7Z"/>
<path d="M67.2 585.4L63.6 587.9L67.2 590.4Z"/>
<path d="M68.7 585.1L65.1 587.6L68.7 590.1Z"/>
<path d="M70.3 584.7L66.7 587.2L70.3 589.7Z"/>
<path d="M71.9 584.3L68.3 586.8L71.9 589.3Z"/>
<path d="M73.4 583.9L69.8 586.4L73.4 588.9Z"/>
<path d="M74.9 583.5L71.3 586.0L74.9 588.5Z"/>
<path d="M76.5 583.0L72.9 585.5L76.5 588.0Z"/>
<path d="M78.0 582.5L74.4 585.0L78.0 587.5Z"/>
<path d="M79.5 581.9L75.9 584.4L79.5 586.9Z"/>
<path d="M80.9 581.3L77.3 583.8L80.9 586.3Z"/>
<path d="M82.4 580.7L78.8 583.2L82.4 585.7Z"/>
<path d="M83.9 580.0L80.3 582.5L83.9 585.0Z"/>
<path d="M85.3 579.3L81.7 581.8L85.3 584.3Z"/>
<path d="M86.8 578.6L83.2 581.1L86.8 583.6Z"/>
<path d="M88.2 577.9L84.6 580.4L88.2 582.9Z"/>
<path d="M89.6 577.1L86.0 579.6L89.6 582.1Z"/>
<path d="M91.0 576.4L87.4 578.9L91.0 581.4Z"/>
<path d="M92.4 575.6L88.8 578.1L92.4 580.6Z"/>
<path d="M93.7 574.7L90.1 577.2L93.7 579.7Z"/>
<path d="M95.1 573.9L91.5 576.4L95.1 578.9Z"/>
<path d="M96.4 573.0L92.8 575.5L96.4 578.0Z"/>
<path d="M97.8 572.1L94.2 574.6L97.8 577.1Z"/>
<path d="M99.1 571.2L95.5 573.7L99.1 576.2Z"/>
<path d="M100.4 570.3L96.8 572.8L100.4 575.3Z"/>
<path d="M101.7 569.3L98.1 571.8L101.7 574.3Z"/>
<path d="M102.9 568.3L99.3 570.8L102.9 573.3Z"/>
<path d="M104.2 567.3L100.6 569.8L104.2 572.3Z"/>
<path d="M105.4 566.3L101.8 568.8L105.4 571.3Z"/>
<path d="M106.6 565.3L103.0 567.8L106.6 570.3Z"/>
<path d="M107.8 564.2L104.2 566.7L107.8 569.2Z"/>
<path d="M109.0 563.1L105.4 565.6L109.0 568.1Z"/>
<path d="M110.2 562.1L106.6 564.6L110.2 567.1Z"/>
<path d="M111.4 561.0L107.8 563.5L111.4 566.0Z"/>
<path d="M112.5 559.9L108.9 562.4L112.5 564.9Z"/>
<path d="M113.7 558.8L110.1 561.3L113.7 563.8Z"/>
<path d="M114.8 557.7L111.2 560.2L114.8 562.7Z"/>
<path d="M116.0 556.5L112.4 559.0L116.0 561.5Z"/>
<path d="M117.1 555.4L113.5 557.9L117.1 560.4Z"/>
<path d="M118.2 554.2L114.6 556.7L118.2 559.2Z"/>
<path d="M119.3 553.1L115.7 555.6L119.3 558.1Z"/>
<path d="M120.4 551.9L116.8 554.4L120.4 556.9Z"/>
<path d="M121.5 550.7L117.9 553.2L121.5 555.7Z"/>
<path d="M122.6 549.5L119.0 552.0L122.6 554.5Z"/>
<path d="M123.6 548.3L120.0 550.8L123.6 553.3Z"/>
<path d="M124.7 547.1L121.1 549.6L124.7 552.1Z"/>
<path d="M125.7 545.9L122.1 548.4L125.7 550.9Z"/>
<path d="M126.8 544.7L123.2 547.2L126.8 549.7Z"/>
<path d="M127.8 543.5L124.2 546.0L127.8 548.5Z"/>
<path d="M128.8 542.3L125.2 544.8L128.8 547.3Z"/>
<path d="M129.8 541.0L126.2 543.5L129.8 546.0Z"/>
<path d="M130.8 539.8L127.2 542.3L130.8 544.8Z"/>
<path d="M131.8 538.5L128.2 541.0L131.8 543.5Z"/>
<path d="M132.8 537.3L129.2 539.7L132.8 542.2Z"/>
<path d="M133.7 536.0L130.2 538.5L133.7 540.9Z"/>
<path d="M134.7 534.7L131.1 537.2L134.7 539.6Z"/>
<path d="M135.6 533.5L132.1 535.9L135.6 538.3Z"/>
<path d="M136.5 532.2L133.1 534.6L136.5 537.0Z"/>
<path d="M137.5 530.9L134.0 533.3L137.5 535.7Z"/>
<path d="M138.4 529.6L135.0 532.0L138.4 534.4Z"/>
<path d="M139.3 528.3L135.9 530.7L139.3 533.0Z"/>
<path d="M140.2 527.0L136.8 529.4L140.2 531.7Z"/>
<path d="M141.1 525.7L137.7 528.0L141.1 530.3Z"/>
<path d="M141.9 524.4L138.6 526.7L141.9 529.0Z"/>
<path d="M142.8 523.1L139.5 525.4L142.8 527.6Z"/>
<path d="M143.6 521.8L140.4 524.0L143.6 526.3Z"/>
<path d="M144.5 520.4L141.3 522.7L144.5 524.9Z"/>
<path d="M145.3 519.1L142.1 521.3L145.3 523.5Z"/>
<path d="M146.2 517.8L143.0 520.0L146.2 522.2Z"/>
<path d="M147.0 516.4L143.8 518.6L147.0 520.8Z"/>
<path d="M147.8 515.1L144.7 517.2L147.8 519.4Z"/>
<path d="M148.6 513.7L145.5 515.9L148.6 518.0Z"/>
<path d="M149.4 512.3L146.3 514.5L149.4 516.6Z"/>
<path d="M150.2 511.0L147.2 513.1L150.2 515.2Z"/>
<path d="M151.0 509.6L148.0 511.7L151.0 513.8Z"/>
<path d="M151.8 508.2L148.8 510.3L151.8 512.4Z"/>
<path d="M152.6 506.8L149.5 508.9L152.6 511.0Z"/>
<path d="M153.4 505.4L150.3 507.5L153.4 509.6Z"/>
<path d="M154.2 504.0L151.1 506.1L154.2 508.2Z"/>
<path d="M154.9 502.6L151.9 504.7L154.9 506.8Z"/>
<path d="M155.7 501.2L152.6 503.3L155.7 505.4Z"/>
<path d="M156.5 499.8L153.4 501.9L156.5 504.0Z"/>
<path d="M157.2 498.4L154.1 500.5L157.2 502.6Z"/>
<path d="M157.9 497.0L154.9 499.1L157.9 501.2Z"/>
<path d="M158.7 495.6L155.6 497.7L158.7 499.8Z"/>
<path d="M159.4 494.1L156.3 496.2L159.4 498.3Z"/>
<path d="M160.1 492.7L157.1 494.8L160.1 496.9Z"/>
<path d="M160.8 491.3L157.8 493.4L160.8 495.5Z"/>
<path d="M161.6 489.8L158.5 491.9L161.6 494.0Z"/>
<path d="M162.3 488.4L159.2 490.5L162.3 492.6Z"/>
<path d="M163.0 487.0L159.9 489.1L163.0 491.2Z"/>
<path d="M163.7 485.5L160.6 487.6L163.7 489.7Z"/>
<path d="M164.4 484.1L161.3 486.2L164.4 488.3Z"/>
<path d="M165.1 482.7L162.0 484.8L165.1 486.9Z"/>
<path d="M165.7 481.2L162.7 483.3L165.7 485.4Z"/>
<path d="M166.4 479.8L163.4 481.9L166.4 484.0Z" stroke-width="0.72"/>
<path d="M167.1 478.3L164.0 480.4L167.1 482.5Z" stroke-width="0.72"/>
<path d="M167.8 476.8L164.7 479.0L167.8 481.1Z" stroke-width="0.71"/>
<path d="M168.5 475.4L165.4 477.5L168.5 479.6Z" stroke-width="0.71"/>
<path d="M169.1 473.9L166.0 476.1L169.1 478.2Z" stroke-width="0.70"/>
<path d="M169.8 472.5L166.7 474.6L169.8 476.7Z" stroke-width="0.70"/>
<path d="M170.5 471.0L167.4 473.1L170.5 475.3Z" stroke-width="0.70"/>
<path d="M171.2 469.5L168.0 471.7L171.2 473.8Z" stroke-width="0.69"/>
<path d="M171.8 468.1L168.7 470.2L171.8 472.4Z" stroke-width="0.69"/>
<path d="M172.5 466.6L169.3 468.8L172.5 470.9Z" stroke-width="0.68"/>
<path d="M173.1 465.1L170.0 467.3L173.1 469.4Z" stroke-width="0.68"/>
<path d="M173.8 463.6L170.6 465.8L173.8 467.9Z" stroke-width="0.68"/>
<path d="M174.5 462.1L171.3 464.3L174.5 466.4Z" stroke-width="0.67"/>
<path d="M175.2 460.5L171.9 462.7L175.2 464.9Z" stroke-width="0.67"/>
<path d="M175.9 459.0L172.6 461.2L175.9 463.4Z" stroke-width="0.66"/>
<path d="M176.5 457.4L173.3 459.6L176.5 461.8Z" stroke-width="0.66"/>
<path d="M177.2 455.8L174.0 458.0L177.2 460.2Z" stroke-width="0.66"/>
<path d="M177.9 454.2L174.7 456.4L177.9 458.6Z" stroke-width="0.65"/>
<path d="M178.6 452.6L175.4 454.8L178.6 457.0Z" stroke-width="0.65"/>
<path d="M179.3 450.9L176.0 453.2L179.3 455.4Z" stroke-width="0.64"/>
<path d="M180.0 449.3L176.7 451.5L180.0 453.7Z" stroke-width="0.64"/>
<path d="M180.8 447.6L177.4 449.8L180.8 452.1Z" stroke-width="0.63"/>
<path d="M181.5 445.9L178.2 448.1L181.5 450.4Z" stroke-width="0.63"/>
<path d="M182.2 444.2L178.9 446.4L182.2 448.7Z" stroke-width="0.63"/>
<path d="M182.9 442.5L179.6 444.7L182.9 447.0Z" stroke-width="0.62"/>
<path d="M183.7 440.7L180.3 443.0L183.7 445.3Z" stroke-width="0.62"/>
<path d="M184.4 438.9L181.0 441.2L184.4 443.5Z" stroke-width="0.61"/>
<path d="M185.2 437.2L181.8 439.5L185.2 441.7Z" stroke-width="0.61"/>
<path d="M185.9 435.4L182.5 437.7L185.9 440.0Z" stroke-width="0.60"/>
<path d="M186.7 433.5L183.3 435.8L186.7 438.1Z" stroke-width="0.60"/>
<path d="M187.4 431.7L184.0 434.0L187.4 436.3Z" stroke-width="0.60"/>
<path d="M188.2 429.9L184.8 432.2L188.2 434.5Z" stroke-width="0.60"/>
<path d="M189.0 428.0L185.5 430.3L189.0 432.6Z" stroke-width="0.60"/>
<path d="M189.7 426.1L186.3 428.4L189.7 430.7Z" stroke-width="0.60"/>
<path d="M190.5 424.2L187.1 426.5L190.5 428.8Z" stroke-width="0.60"/>
<path d="M191.3 422.3L187.9 424.6L191.3 426.9Z" stroke-width="0.60"/>
<path d="M192.1 420.4L188.7 422.7L192.1 425.0Z" stroke-width="0.60"/>
<path d="M192.9 418.4L189.5 420.7L192.9 423.0Z" stroke-width="0.60"/>
<path d="M193.7 416.5L190.3 418.8L193.7 421.1Z" stroke-width="0.60"/>
<path d="M194.5 414.5L191.0 416.8L194.5 419.1Z" stroke-width="0.60"/>
<path d="M195.3 412.6L191.8 414.9L195.3 417.2Z" stroke-width="0.60"/>
<path d="M196.0 410.6L192.6 412.9L196.0 415.2Z" stroke-width="0.60"/>
<path d="M196.8 408.6L193.4 410.9L196.8 413.2Z" stroke-width="0.60"/>
<path d="M197.6 406.7L194.2 409.0L197.6 411.3Z" stroke-width="0.60"/>
<path d="M198.4 404.7L195.0 407.0L198.4 409.3Z" stroke-width="0.60"/>
<path d="M199.2 402.8L195.8 405.1L199.2 407.4Z" stroke-width="0.60"/>
<path d="M200.0 400.8L196.6 403.1L200.0 405.4Z" stroke-width="0.60"/>
<path d="M200.8 398.8L197.4 401.1L200.8 403.4Z" stroke-width="0.60"/>
<path d="M201.6 396.9L198.2 399.2L201.6 401.5Z" stroke-width="0.60"/>
<path d="M202.4 394.9L198.9 397.2L202.4 399.5Z" stroke-width="0.60"/>
<path d="M203.2 392.9L199.7 395.2L203.2 397.5Z" stroke-width="0.60"/>
<path d="M203.9 390.9L200.5 393.2L203.9 395.5Z" stroke-width="0.60"/>
<path d="M204.7 389.0L201.3 391.3L204.7 393.6Z" stroke-width="0.60"/>
<path d="M205.5 387.0L202.1 389.3L205.5 391.6Z" stroke-width="0.60"/>
<path d="M206.3 385.0L202.9 387.3L206.3 389.6Z" stroke-width="0.60"/>
<path d="M207.1 383.0L203.7 385.3L207.1 387.6Z" stroke-width="0.60"/>
<path d="M207.9 381.0L204.5 383.3L207.9 385.6Z" stroke-width="0.60"/>
<path d="M208.7 379.0L205.3 381.3L208.7 383.6Z" stroke-width="0.60"/>
<path d="M209.5 377.1L206.1 379.4L209.5 381.7Z" stroke-width="0.60"/>
<path d="M210.4 375.1L206.9 377.4L210.4 379.7Z" stroke-width="0.60"/>
<path d="M211.2 373.1L207.8 375.4L211.2 377.7Z" stroke-width="0.60"/>
<path d="M212.0 371.1L208.6 373.4L212.0 375.7Z" stroke-width="0.60"/>
<path d="M212.8 369.1L209.4 371.4L212.8 373.7Z" stroke-width="0.60"/>
<path d="M213.6 367.1L210.2 369.4L213.6 371.7Z" stroke-width="0.60"/>
<path d="M214.5 365.1L211.0 367.4L214.5 369.7Z" stroke-width="0.60"/>
<path d="M215.3 363.1L211.9 365.4L215.3 367.7Z" stroke-width="0.60"/>
<path d="M216.1 361.1L212.7 363.4L216.1 365.7Z" stroke-width="0.60"/>
<path d="M217.0 359.2L213.6 361.5L217.0 363.8Z" stroke-width="0.60"/>
<path d="M217.8 357.2L214.4 359.5L217.8 361.8Z" stroke-width="0.60"/>
<path d="M218.7 355.2L215.3 357.5L218.7 359.8Z" stroke-width="0.60"/>
<path d="M219.5 353.2L216.1 355.5L219.5 357.8Z" stroke-width="0.60"/>
<path d="M220.4 351.2L217.0 353.5L220.4 355.8Z" stroke-width="0.60"/>
<path d="M221.3 349.2L217.8 351.5L221.3 353.8Z" stroke-width="0.60"/>
<path d="M222.1 347.2L218.7 349.5L222.1 351.8Z" stroke-width="0.60"/>
<path d="M223.0 345.2L219.6 347.5L223.0 349.8Z" stroke-width="0.60"/>
<path d="M223.9 343.2L220.5 345.5L223.9 347.8Z" stroke-width="0.60"/>
<path d="M224.8 341.3L221.4 343.6L224.8 345.9Z" stroke-width="0.60"/>
<path d="M225.7 339.3L222.3 341.6L225.7 343.9Z" stroke-width="0.60"/>
<path d="M226.7 337.3L223.2 339.6L226.7 341.9Z" stroke-width="0.60"/>
<path d="M227.6 335.3L224.2 337.6L227.6 339.9Z" stroke-width="0.60"/>
<path d="M228.5 333.3L225.1 335.6L228.5 337.9Z" stroke-width="0.60"/>
<path d="M229.5 331.4L226.1 333.7L229.5 336.0Z" stroke-width="0.60"/>
<path d="M230.5 329.4L227.0 331.7L230.5 334.0Z" stroke-width="0.60"/>
<path d="M231.4 327.4L228.0 329.7L231.4 332.0Z" stroke-width="0.60"/>
<path d="M232.4 325.4L229.0 327.8L232.4 330.1Z" stroke-width="0.61"/>
<path d="M233.4 323.4L230.0 325.8L233.4 328.1Z" stroke-width="0.62"/>
<path d="M234.5 321.4L231.0 323.7L234.5 326.1Z" stroke-width="0.63"/>
<path d="M235.6 319.3L232.1 321.7L235.6 324.0Z" stroke-width="0.64"/>
<path d="M236.7 317.2L233.2 319.6L236.7 322.0Z" stroke-width="0.65"/>
<path d="M237.9 315.1L234.4 317.5L237.9 319.9Z" stroke-width="0.66"/>
<path d="M239.0 312.9L235.6 315.4L239.0 317.8Z" stroke-width="0.67"/>
<path d="M240.3 310.7L236.8 313.2L240.3 315.6Z" stroke-width="0.69"/>
<path d="M241.5 308.5L238.0 311.0L241.5 313.4Z" stroke-width="0.70"/>
<path d="M242.8 306.2L239.3 308.7L242.8 311.2Z" stroke-width="0.71"/>
<path d="M244.2 304.0L240.6 306.5L244.2 309.0Z"/>
<path d="M245.5 301.7L242.0 304.2L245.5 306.7Z"/>
<path d="M246.9 299.5L243.3 302.0L246.9 304.6Z"/>
<path d="M248.3 297.3L244.7 299.8L248.3 302.4Z"/>
<path d="M249.7 295.1L246.1 297.6L249.7 300.2Z" stroke-width="0.78"/>
<path d="M251.1 292.9L247.5 295.5L251.1 298.1Z" stroke-width="0.80"/>
<path d="M252.6 290.7L249.0 293.3L252.6 295.9Z" stroke-width="0.80"/>
<path d="M254.1 288.6L250.5 291.2L254.1 293.8Z" stroke-width="0.80"/>
<path d="M255.6 286.5L252.0 289.1L255.6 291.7Z" stroke-width="0.80"/>
<path d="M257.1 284.3L253.5 286.9L257.1 289.5Z" stroke-width="0.80"/>
<path d="M258.6 282.3L255.0 284.9L258.6 287.5Z" stroke-width="0.80"/>
<path d="M260.2 280.2L256.6 282.8L260.2 285.4Z" stroke-width="0.80"/>
<path d="M261.8 278.2L258.2 280.8L261.8 283.4Z" stroke-width="0.80"/>
<path d="M263.5 276.1L259.9 278.7L263.5 281.3Z" stroke-width="0.80"/>
<path d="M265.1 274.1L261.5 276.7L265.1 279.3Z" stroke-width="0.80"/>
<path d="M266.8 272.2L263.2 274.8L266.8 277.4Z" stroke-width="0.80"/>
<path d="M268.5 270.2L264.9 272.8L268.5 275.4Z" stroke-width="0.80"/>
<path d="M270.3 268.3L266.7 270.9L270.3 273.5Z" stroke-width="0.80"/>
<path d="M272.1 266.4L268.5 269.0L272.1 271.6Z" stroke-width="0.80"/>
<path d="M273.9 264.5L270.3 267.1L273.9 269.7Z" stroke-width="0.80"/>
<path d="M275.7 262.7L272.1 265.3L275.7 267.9Z" stroke-width="0.80"/>
<path d="M277.6 260.9L274.0 263.5L277.6 266.1Z" stroke-width="0.80"/>
<path d="M279.4 259.0L275.8 261.6L279.4 264.2Z" stroke-width="0.80"/>
<path d="M281.3 257.2L277.7 259.8L281.3 262.4Z" stroke-width="0.80"/>
<path d="M283.2 255.4L279.6 258.0L283.2 260.6Z" stroke-width="0.80"/>
<path d="M285.1 253.6L281.5 256.2L285.1 258.8Z" stroke-width="0.80"/>
<path d="M286.9 251.8L283.3 254.4L286.9 257.0Z" stroke-width="0.80"/>
<path d="M288.8 250.0L285.2 252.6L288.8 255.2Z" stroke-width="0.80"/>
<path d="M290.7 248.2L287.1 250.8L290.7 253.4Z" stroke-width="0.80"/>
<path d="M292.5 246.4L288.9 249.0L292.5 251.6Z" stroke-width="0.80"/>
<path d="M294.5 244.6L290.9 247.2L294.5 249.8Z" stroke-width="0.80"/>
<path d="M296.4 242.7L292.8 245.3L296.4 247.9Z" stroke-width="0.80"/>
<path d="M298.5 240.7L294.9 243.3L298.5 245.9Z" stroke-width="0.80"/>
<path d="M300.6 238.7L297.0 241.3L300.6 243.9Z" stroke-width="0.80"/>
<path d="M302.8 236.6L299.2 239.2L302.8 241.8Z" stroke-width="0.80"/>
<path d="M305.1 234.4L301.5 237.0L305.1 239.6Z" stroke-width="0.80"/>
<path d="M307.6 232.2L304.0 234.8L307.6 237.4Z" stroke-width="0.80"/>
<path d="M310.1 230.0L306.5 232.6L310.1 235.2Z" stroke-width="0.80"/>
<path d="M312.4 227.3L308.8 229.9L312.4 232.5Z" stroke-width="0.80"/>
<path d="M315.0 224.8L311.4 227.4L315.0 230.0Z" stroke-width="0.80"/>
<path d="M318.1 222.8L314.5 225.4L318.1 228.0Z" stroke-width="0.80"/>
<path d="M320.6 220.3L317.0 222.9L320.6 225.5Z" stroke-width="0.80"/>
<path d="M323.3 217.9L319.7 220.5L323.3 223.1Z" stroke-width="0.80"/>
<path d="M325.4 214.8L321.8 217.4L325.4 220.0Z" stroke-width="0.80"/>
<path d="M328.6 212.9L325.0 215.5L328.6 218.1Z" stroke-width="0.80"/>
<path d="M330.8 210.0L327.2 212.6L330.8 215.2Z" stroke-width="0.80"/>
<path d="M333.8 208.0L330.2 210.6L333.8 213.2Z" stroke-width="0.80"/>
<path d="M336.1 205.1L332.5 207.7L336.1 210.3Z" stroke-width="0.80"/>
<path d="M338.8 202.9L335.2 205.5L338.8 208.1Z" stroke-width="0.80"/>
<path d="M341.7 200.7L338.1 203.3L341.7 205.9Z" stroke-width="0.80"/>
<path d="M343.9 197.7L340.3 200.3L343.9 202.9Z" stroke-width="0.80"/>
<path d="M346.8 195.5L343.2 198.1L346.8 200.7Z" stroke-width="0.80"/>
<path d="M349.3 192.9L345.7 195.5L349.3 198.1Z" stroke-width="0.80"/>
<path d="M352.1 190.7L348.5 193.3L352.1 195.9Z" stroke-width="0.80"/>
<path d="M355.0 188.6L351.4 191.2L355.0 193.8Z" stroke-width="0.80"/>
<path d="M358.3 187.0L354.7 189.6L358.3 192.2Z" stroke-width="0.80"/>
<path d="M360.7 184.1L357.1 186.7L360.7 189.3Z" stroke-width="0.80"/>
<path d="M363.9 182.4L360.3 185.0L363.9 187.6Z" stroke-width="0.80"/>
<path d="M366.8 180.3L363.2 182.9L366.8 185.5Z" stroke-width="0.80"/>
<path d="M370.0 178.6L366.4 181.2L370.0 183.8Z" stroke-width="0.80"/>
<path d="M372.7 176.2L369.1 178.8L372.7 181.4Z" stroke-width="0.80"/>
<path d="M375.9 174.4L372.3 177.0L375.9 179.6Z" stroke-width="0.80"/>
<path d="M379.0 172.5L375.4 175.1L379.0 177.7Z" stroke-width="0.80"/>
<path d="M381.6 169.9L378.0 172.5L381.6 175.1Z" stroke-width="0.80"/>
<path d="M384.4 167.8L380.8 170.4L384.4 173.0Z" stroke-width="0.80"/>
<path d="M387.5 165.9L383.9 168.5L387.5 171.1Z" stroke-width="0.80"/>
<path d="M390.5 163.8L386.9 166.4L390.5 169.0Z" stroke-width="0.80"/>
<path d="M393.5 161.9L389.9 164.5L393.5 167.1Z" stroke-width="0.80"/>
<path d="M396.6 160.0L393.0 162.6L396.6 165.2Z" stroke-width="0.80"/>
<path d="M399.3 157.6L395.7 160.2L399.3 162.8Z" stroke-width="0.80"/>
<path d="M402.4 155.8L398.8 158.4L402.4 161.0Z" stroke-width="0.80"/>
<path d="M405.0 153.3L401.4 155.9L405.0 158.5Z" stroke-width="0.80"/>
<path d="M408.0 151.3L404.4 153.9L408.0 156.5Z" stroke-width="0.80"/>
<path d="M411.2 149.6L407.6 152.2L411.2 154.8Z" stroke-width="0.80"/>
<path d="M414.0 147.2L410.4 149.8L414.0 152.4Z" stroke-width="0.80"/>
<path d="M416.8 144.9L413.2 147.5L416.8 150.1Z" stroke-width="0.80"/>
<path d="M419.6 143.4L416.0 146.0L419.6 148.6Z" stroke-width="0.80"/>
</g></g>
<g stroke="#008080" fill="none">
<path d="M52.0 588.2L54.5 588.1L57.0 587.8L59.6 587.4L62.1 586.9L64.6 586.1L67.1 585.1L69.6 584.0L72.2 582.6L74.7 581.1L77.2 579.4L79.7 577.4L82.2 575.3L84.8 572.9L87.3 570.3L89.8 567.5L92.3 564.4L94.9 561.2L97.4 557.8L99.9 554.2L102.4 550.4" stroke-width="3.40" stroke-opacity="0.50" stroke-linejoin="round"/>
<path d="M102.4 550.4L104.9 546.5" stroke-width="3.25" stroke-opacity="0.50" stroke-linejoin="round"/>
<path d="M104.9 546.5L107.5 542.5" stroke-width="3.09" stroke-opacity="0.50" stroke-linejoin="round"/>
<path d="M107.5 542.5L110.0 538.4" stroke-width="2.93" stroke-opacity="0.50" stroke-linejoin="round"/>
<path d="M110.0 538.4L112.5 534.1" stroke-width="2.77" stroke-opacity="0.50" stroke-linejoin="round"/>
<path d="M112.5 534.1L115.0 529.8" stroke-width="2.61" stroke-opacity="0.50" stroke-linejoin="round"/>
<path d="M115.0 529.8L117.5 525.4" stroke-width="2.46" stroke-opacity="0.50" stroke-linejoin="round"/>
<path d="M117.5 525.4L120.1 520.8" stroke-width="2.30" stroke-opacity="0.50" stroke-linejoin="round"/>
<path d="M120.1 520.8L122.6 516.1" stroke-width="2.14" stroke-opacity="0.50" stroke-linejoin="round"/>
<path d="M122.6 516.1L125.1 511.3" stroke-width="1.98" stroke-opacity="0.50" stroke-linejoin="round"/>
<path d="M125.1 511.3L127.6 506.3" stroke-width="1.82" stroke-opacity="0.50" stroke-linejoin="round"/>
<path d="M127.6 506.3L130.1 501.2" stroke-width="1.66" stroke-opacity="0.50" stroke-linejoin="round"/>
<path d="M130.1 501.2L132.7 495.9" stroke-width="1.51" stroke-opacity="0.50" stroke-linejoin="round"/>
<path d="M132.7 495.9L135.2 490.4" stroke-width="1.35" stroke-opacity="0.50" stroke-linejoin="round"/>
<path d="M135.2 490.4L137.7 484.7" stroke-width="1.19" stroke-opacity="0.50" stroke-linejoin="round"/>
<path d="M137.7 484.7L140.2 478.8" stroke-width="0.98" stroke-opacity="0.50" stroke-linejoin="round"/>
<path d="M140.2 478.8L142.7 472.7" stroke-width="0.78" stroke-opacity="0.50" stroke-linejoin="round"/>
<path d="M142.7 472.7L145.3 466.4" stroke-width="0.58" stroke-opacity="0.50" stroke-linejoin="round"/>
<path d="M145.3 466.4L147.8 459.9" stroke-width="0.38" stroke-opacity="0.50" stroke-linejoin="round"/>
<path d="M147.8 459.9L150.3 453.3" stroke-width="0.18" stroke-opacity="0.50" stroke-linejoin="round"/>
<path d="M271.3 247.1L273.8 244.5" stroke-width="0.19" stroke-opacity="0.50" stroke-linejoin="round"/>
<path d="M273.8 244.5L276.3 242.1" stroke-width="0.56" stroke-opacity="0.50" stroke-linejoin="round"/>
<path d="M276.3 242.1L278.9 239.7" stroke-width="0.93" stroke-opacity="0.50" stroke-linejoin="round"/>
<path d="M278.9 239.7L281.4 237.5" stroke-width="1.30" stroke-opacity="0.50" stroke-linejoin="round"/>
<path d="M281.4 237.5L283.9 235.5" stroke-width="1.67" stroke-opacity="0.50" stroke-linejoin="round"/>
<path d="M283.9 235.5L286.4 233.5" stroke-width="2.04" stroke-opacity="0.50" stroke-linejoin="round"/>
<path d="M286.4 233.5L288.9 231.7L291.5 229.9L294.0 228.2L296.5 226.6L299.0 225.0L301.5 223.5" stroke-width="2.20" stroke-opacity="0.50" stroke-linejoin="round"/>
<path d="M52.0 588.2L55.0 588.0L58.0 587.6L60.9 587.1L63.8 586.4L66.6 585.3L69.4 584.1L72.0 582.7L74.6 581.2L77.1 579.5L79.5 577.6L81.7 575.7L84.0 573.7L86.1 571.6L88.1 569.4L90.1 567.1L92.0 564.8L93.9 562.5L95.7 560.1L97.5 557.6L99.2 555.2L100.9 552.7L102.5 550.2L104.2 547.7L105.8 545.2L107.4 542.6L108.9 540.1L110.5 537.5L112.0 534.9L113.6 532.3L115.1 529.7L116.6 527.1L118.0 524.5L119.5 521.9L120.9 519.3L122.3 516.6L123.7 514.0L125.1 511.3L126.5 508.6L127.8 505.9L129.1 503.3L130.4 500.6L131.7 497.8L133.0 495.1L134.3 492.4L135.5 489.7L136.7 486.9L137.9 484.2L139.1 481.4L140.3 478.7L141.4 475.9L142.6 473.1L143.7 470.3L144.8 467.6L145.9 464.8L147.0 462.0L148.1 459.2L149.1 456.4L150.2 453.6L151.3 450.7L152.3 447.9L153.4 445.1L154.4 442.3L155.5 439.5L156.5 436.7L157.5 433.9L158.6 431.1L159.6 428.3L160.7 425.5L161.8 422.7L162.9 419.9L163.9 417.1L165.0 414.3L166.1 411.5L167.2 408.7L168.4 405.9L169.5 403.1L170.7 400.4L171.8 397.6L173.0 394.8L174.2 392.1L175.4 389.3L176.5 386.6L177.7 383.8L178.9 381.0L180.1 378.3L181.3 375.5L182.5 372.8L183.7 370.0L184.9 367.3L186.1 364.5L187.3 361.8L188.5 359.0L189.7 356.3L191.0 353.6L192.2 350.9L193.5 348.1L194.8 345.4L196.2 342.8L197.5 340.1L198.9 337.4L200.3 334.8L201.8 332.2L203.3 329.5L204.8 327.0L206.3 324.4L207.9 321.8L209.5 319.3L211.2 316.8L212.9 314.3L214.6 311.9L216.4 309.5L218.2 307.1L220.0 304.7L221.9 302.3L223.8 300.0L225.7 297.7L227.7 295.5L229.7 293.2L231.7 291.0L233.7 288.8L235.7 286.6L237.8 284.4L239.9 282.2L242.0 280.1L244.0 277.9L246.1 275.7L248.1 273.5L250.2 271.3L252.2 269.1L254.2 266.9L256.2 264.6L258.1 262.3L260.1 260.0L262.0 257.7L263.9 255.5L265.9 253.2L267.9 250.9L269.9 248.7L271.9 246.5L274.0 244.3L276.1 242.2L278.3 240.2L280.6 238.2L282.9 236.3L285.2 234.4L287.6 232.6L290.1 230.9L292.5 229.2L295.0 227.5L297.6 225.9L300.1 224.3L302.7 222.8L304.0 222.0" stroke-width="0.70" stroke-linejoin="round"/>
<g fill="#fff" fill-opacity="0.55" stroke-width="0.60">
<path d="M50.4 585.7L54.0 588.2L50.4 590.7Z"/>
<path d="M51.9 585.7L55.5 588.2L51.9 590.7Z"/>
<path d="M53.4 585.5L57.0 588.0L53.4 590.5Z"/>
<path d="M54.9 585.4L58.5 587.9L54.9 590.4Z"/>
<path d="M56.4 585.1L60.0 587.6L56.4 590.1Z"/>
<path d="M57.8 584.9L61.4 587.4L57.8 589.9Z"/>
<path d="M59.3 584.6L62.9 587.1L59.3 589.6Z"/>
<path d="M60.8 584.3L64.4 586.8L60.8 589.3Z"/>
<path d="M62.2 583.9L65.8 586.4L62.2 588.9Z"/>
<path d="M63.6 583.4L67.2 585.9L63.6 588.4Z"/>
<path d="M65.0 582.8L68.6 585.3L65.0 587.8Z"/>
<path d="M66.4 582.2L70.0 584.7L66.4 587.2Z"/>
<path d="M67.8 581.6L71.4 584.1L67.8 586.6Z"/>
<path d="M69.1 580.9L72.7 583.4L69.1 585.9Z"/>
<path d="M70.4 580.2L74.0 582.7L70.4 585.2Z"/>
<path d="M71.7 579.5L75.3 582.0L71.7 584.5Z"/>
<path d="M73.0 578.7L76.6 581.2L73.0 583.7Z"/>
<path d="M74.2 577.8L77.8 580.3L74.2 582.8Z"/>
<path d="M75.5 577.0L79.1 579.5L75.5 582.0Z"/>
<path d="M76.7 576.1L80.3 578.6L76.7 581.1Z"/>
<path d="M77.9 575.1L81.5 577.6L77.9 580.1Z"/>
<path d="M79.0 574.2L82.6 576.7L79.0 579.2Z"/>
<path d="M80.1 573.2L83.7 575.7L80.1 578.2Z"/>
<path d="M81.3 572.2L84.9 574.7L81.3 577.2Z"/>
<path d="M82.4 571.2L86.0 573.7L82.4 576.2Z"/>
<path d="M83.4 570.1L87.0 572.6L83.4 575.1Z"/>
<path d="M84.5 569.1L88.1 571.6L84.5 574.1Z"/>
<path d="M85.5 568.0L89.1 570.5L85.5 573.0Z"/>
<path d="M86.5 566.9L90.1 569.4L86.5 571.9Z"/>
<path d="M87.5 565.8L91.1 568.3L87.5 570.8Z"/>
<path d="M88.5 564.6L92.1 567.1L88.5 569.6Z"/>
<path d="M89.5 563.5L93.1 566.0L89.5 568.5Z"/>
<path d="M90.4 562.3L94.0 564.8L90.4 567.3Z"/>
<path d="M91.4 561.1L95.0 563.6L91.4 566.1Z"/>
<path d="M92.3 560.0L95.9 562.5L92.3 565.0Z"/>
<path d="M93.2 558.8L96.8 561.3L93.2 563.8Z"/>
<path d="M94.1 557.6L97.7 560.1L94.1 562.6Z"/>
<path d="M95.0 556.4L98.6 558.9L95.0 561.4Z"/>
<path d="M95.9 555.1L99.5 557.6L95.9 560.1Z"/>
<path d="M96.7 553.9L100.3 556.4L96.7 558.9Z"/>
<path d="M97.6 552.7L101.2 555.2L97.6 557.7Z"/>
<path d="M98.4 551.5L102.0 554.0L98.4 556.5Z"/>
<path d="M99.3 550.2L102.9 552.7L99.3 555.2Z"/>
<path d="M100.1 549.0L103.7 551.5L100.1 553.9Z"/>
<path d="M101.0 547.8L104.5 550.2L101.0 552.7Z"/>
<path d="M101.8 546.5L105.3 549.0L101.8 551.4Z"/>
<path d="M102.6 545.3L106.1 547.7L102.6 550.1Z"/>
<path d="M103.4 544.0L106.9 546.4L103.4 548.8Z"/>
<path d="M104.2 542.8L107.7 545.2L104.2 547.6Z"/>
<path d="M105.1 541.5L108.5 543.9L105.1 546.3Z"/>
<path d="M105.9 540.2L109.3 542.6L105.9 545.0Z"/>
<path d="M106.7 539.0L110.1 541.3L106.7 543.7Z"/>
<path d="M107.4 537.7L110.8 540.1L107.4 542.4Z"/>
<path d="M108.2 536.4L111.6 538.8L108.2 541.1Z"/>
<path d="M109.0 535.2L112.4 537.5L109.0 539.8Z"/>
<path d="M109.8 533.9L113.1 536.2L109.8 538.5Z"/>
<path d="M110.6 532.6L113.9 534.9L110.6 537.2Z"/>
<path d="M111.3 531.3L114.6 533.6L111.3 535.9Z"/>
<path d="M112.1 530.1L115.4 532.3L112.1 534.6Z"/>
<path d="M112.9 528.8L116.1 531.0L112.9 533.3Z"/>
<path d="M113.6 527.5L116.9 529.7L113.6 532.0Z"/>
<path d="M114.4 526.2L117.6 528.4L114.4 530.7Z"/>
<path d="M115.1 524.9L118.3 527.1L115.1 529.4Z"/>
<path d="M115.9 523.6L119.1 525.8L115.9 528.0Z"/>
<path d="M116.6 522.3L119.8 524.5L116.6 526.7Z"/>
<path d="M117.3 521.0L120.5 523.2L117.3 525.4Z"/>
<path d="M118.1 519.7L121.2 521.9L118.1 524.1Z"/>
<path d="M118.8 518.4L121.9 520.6L118.8 522.7Z"/>
<path d="M119.5 517.1L122.6 519.3L119.5 521.4Z"/>
<path d="M120.3 515.8L123.3 517.9L120.3 520.1Z"/>
<path d="M121.0 514.5L124.0 516.6L121.0 518.7Z"/>
<path d="M121.7 513.2L124.7 515.3L121.7 517.4Z"/>
<path d="M122.4 511.9L125.4 514.0L122.4 516.1Z"/>
<path d="M123.1 510.5L126.1 512.6L123.1 514.7Z"/>
<path d="M123.8 509.2L126.8 511.3L123.8 513.4Z"/>
<path d="M124.5 507.9L127.4 510.0L124.5 512.0Z"/>
<path d="M125.1 506.6L128.1 508.6L125.1 510.7Z"/>
<path d="M125.8 505.2L128.8 507.3L125.8 509.3Z"/>
<path d="M126.5 503.9L129.4 505.9L126.5 508.0Z"/>
<path d="M127.2 502.6L130.1 504.6L127.2 506.6Z"/>
<path d="M127.8 501.2L130.7 503.3L127.8 505.3Z"/>
<path d="M128.5 499.9L131.4 501.9L128.5 503.9Z"/>
<path d="M129.2 498.6L132.0 500.6L129.2 502.6Z"/>
<path d="M129.8 497.2L132.7 499.2L129.8 501.2Z"/>
<path d="M130.5 495.9L133.3 497.8L130.5 499.8Z"/>
<path d="M131.1 494.5L134.0 496.5L131.1 498.5Z"/>
<path d="M131.7 493.2L134.6 495.1L131.7 497.1Z"/>
<path d="M132.4 491.8L135.2 493.8L132.4 495.7Z"/>
<path d="M133.0 490.4L135.8 492.4L133.0 494.4Z"/>
<path d="M133.6 489.1L136.4 491.0L133.6 493.0Z"/>
<path d="M134.3 487.7L137.1 489.7L134.3 491.6Z"/>
<path d="M134.9 486.4L137.7 488.3L134.9 490.2Z" stroke-width="0.57"/>
<path d="M135.5 485.0L138.3 486.9L135.5 488.9Z" stroke-width="0.57"/>
<path d="M136.1 483.6L138.9 485.6L136.1 487.5Z" stroke-width="0.56"/>
<path d="M136.7 482.3L139.5 484.2L136.7 486.1Z" stroke-width="0.56"/>
<path d="M137.3 480.9L140.1 482.8L137.3 484.7Z" stroke-width="0.56"/>
<path d="M137.9 479.5L140.6 481.4L137.9 483.3Z" stroke-width="0.55"/>
<path d="M138.5 478.1L141.2 480.0L138.5 482.0Z" stroke-width="0.55"/>
<path d="M139.1 476.8L141.8 478.7L139.1 480.6Z" stroke-width="0.55"/>
<path d="M139.7 475.4L142.4 477.3L139.7 479.2Z" stroke-width="0.55"/>
<path d="M140.2 474.0L143.0 475.9L140.2 477.8Z" stroke-width="0.54"/>
<path d="M140.8 472.6L143.5 474.5L140.8 476.4Z" stroke-width="0.54"/>
<path d="M141.4 471.2L144.1 473.1L141.4 475.0Z" stroke-width="0.54"/>
<path d="M141.9 469.9L144.6 471.7L141.9 473.6Z" stroke-width="0.53"/>
<path d="M142.5 468.5L145.2 470.3L142.5 472.2Z" stroke-width="0.53"/>
<path d="M143.1 467.1L145.8 468.9L143.1 470.8Z" stroke-width="0.53"/>
<path d="M143.6 465.7L146.3 467.6L143.6 469.4Z" stroke-width="0.53"/>
<path d="M144.2 464.3L146.9 466.2L144.2 468.0Z" stroke-width="0.52"/>
<path d="M144.7 462.9L147.4 464.8L144.7 466.6Z" stroke-width="0.52"/>
<path d="M145.3 461.5L147.9 463.4L145.3 465.2Z" stroke-width="0.52"/>
<path d="M145.8 460.1L148.5 462.0L145.8 463.8Z" stroke-width="0.52"/>
<path d="M146.4 458.7L149.0 460.6L146.4 462.4Z" stroke-width="0.51"/>
<path d="M146.9 457.3L149.5 459.2L146.9 461.0Z" stroke-width="0.51"/>
<path d="M147.4 455.9L150.1 457.8L147.4 459.6Z" stroke-width="0.51"/>
<path d="M148.0 454.6L150.6 456.4L148.0 458.2Z" stroke-width="0.50"/>
<path d="M148.5 453.2L151.1 455.0L148.5 456.8Z" stroke-width="0.50"/>
<path d="M149.0 451.8L151.7 453.6L149.0 455.4Z" stroke-width="0.50"/>
<path d="M149.6 450.4L152.2 452.2L149.6 454.0Z" stroke-width="0.50"/>
<path d="M150.1 448.9L152.7 450.7L150.1 452.5Z" stroke-width="0.50"/>
<path d="M150.6 447.5L153.2 449.3L150.6 451.1Z" stroke-width="0.50"/>
<path d="M151.2 446.1L153.8 447.9L151.2 449.7Z" stroke-width="0.50"/>
<path d="M151.7 444.7L154.3 446.5L151.7 448.3Z" stroke-width="0.50"/>
<path d="M152.2 443.3L154.8 445.1L152.2 446.9Z" stroke-width="0.50"/>
<path d="M152.7 441.9L155.3 443.7L152.7 445.5Z" stroke-width="0.50"/>
<path d="M153.2 440.5L155.9 442.3L153.2 444.1Z" stroke-width="0.50"/>
<path d="M153.8 439.1L156.4 440.9L153.8 442.7Z" stroke-width="0.50"/>
<path d="M154.3 437.7L156.9 439.5L154.3 441.3Z" stroke-width="0.50"/>
<path d="M154.8 436.3L157.4 438.1L154.8 439.9Z" stroke-width="0.50"/>
<path d="M155.3 434.9L158.0 436.7L155.3 438.5Z" stroke-width="0.50"/>
<path d="M155.9 433.5L158.5 435.3L155.9 437.1Z" stroke-width="0.50"/>
<path d="M156.4 432.1L159.0 433.9L156.4 435.7Z" stroke-width="0.50"/>
<path d="M156.9 430.7L159.5 432.5L156.9 434.3Z" stroke-width="0.50"/>
<path d="M157.4 429.3L160.0 431.1L157.4 432.9Z" stroke-width="0.50"/>
<path d="M158.0 427.9L160.6 429.7L158.0 431.5Z" stroke-width="0.50"/>
<path d="M158.5 426.5L161.1 428.3L158.5 430.1Z" stroke-width="0.50"/>
<path d="M159.0 425.1L161.6 426.9L159.0 428.7Z" stroke-width="0.50"/>
<path d="M159.6 423.7L162.2 425.5L159.6 427.3Z" stroke-width="0.50"/>
<path d="M160.1 422.3L162.7 424.1L160.1 425.9Z" stroke-width="0.50"/>
<path d="M160.6 420.9L163.2 422.7L160.6 424.5Z" stroke-width="0.50"/>
<path d="M161.2 419.5L163.8 421.3L161.2 423.1Z" stroke-width="0.50"/>
<path d="M161.7 418.1L164.3 419.9L161.7 421.7Z" stroke-width="0.50"/>
<path d="M162.2 416.7L164.8 418.5L162.2 420.3Z" stroke-width="0.50"/>
<path d="M162.8 415.3L165.4 417.1L162.8 418.9Z" stroke-width="0.50"/>
<path d="M163.3 413.9L165.9 415.7L163.3 417.5Z" stroke-width="0.50"/>
<path d="M163.9 412.5L166.5 414.3L163.9 416.1Z" stroke-width="0.50"/>
<path d="M164.4 411.1L167.0 412.9L164.4 414.7Z" stroke-width="0.50"/>
<path d="M165.0 409.7L167.6 411.5L165.0 413.3Z" stroke-width="0.50"/>
<path d="M165.5 408.3L168.1 410.1L165.5 411.9Z" stroke-width="0.50"/>
<path d="M166.1 406.9L168.7 408.7L166.1 410.5Z" stroke-width="0.50"/>
<path d="M166.6 405.5L169.3 407.3L166.6 409.1Z" stroke-width="0.50"/>
<path d="M167.2 404.1L169.8 405.9L167.2 407.7Z" stroke-width="0.50"/>
<path d="M167.8 402.7L170.4 404.5L167.8 406.3Z" stroke-width="0.50"/>
<path d="M168.4 401.3L171.0 403.1L168.4 404.9Z" stroke-width="0.50"/>
<path d="M168.9 399.9L171.5 401.7L168.9 403.5Z" stroke-width="0.50"/>
<path d="M169.5 398.6L172.1 400.4L169.5 402.2Z" stroke-width="0.50"/>
<path d="M170.1 397.2L172.7 399.0L170.1 400.8Z" stroke-width="0.50"/>
<path d="M170.7 395.8L173.3 397.6L170.7 399.4Z" stroke-width="0.50"/>
<path d="M171.2 394.4L173.9 396.2L171.2 398.0Z" stroke-width="0.50"/>
<path d="M171.8 393.0L174.4 394.8L171.8 396.6Z" stroke-width="0.50"/>
<path d="M172.4 391.6L175.0 393.4L172.4 395.2Z" stroke-width="0.50"/>
<path d="M173.0 390.3L175.6 392.1L173.0 393.9Z" stroke-width="0.50"/>
<path d="M173.6 388.9L176.2 390.7L173.6 392.5Z" stroke-width="0.50"/>
<path d="M174.2 387.5L176.8 389.3L174.2 391.1Z" stroke-width="0.50"/>
<path d="M174.8 386.1L177.4 387.9L174.8 389.7Z" stroke-width="0.50"/>
<path d="M175.4 384.8L178.0 386.6L175.4 388.4Z" stroke-width="0.50"/>
<path d="M176.0 383.4L178.6 385.2L176.0 387.0Z" stroke-width="0.50"/>
<path d="M176.6 382.0L179.2 383.8L176.6 385.6Z" stroke-width="0.50"/>
<path d="M177.2 380.6L179.8 382.4L177.2 384.2Z" stroke-width="0.50"/>
<path d="M177.8 379.2L180.4 381.0L177.8 382.8Z" stroke-width="0.50"/>
<path d="M178.3 377.9L181.0 379.7L178.3 381.5Z" stroke-width="0.50"/>
<path d="M178.9 376.5L181.6 378.3L178.9 380.1Z" stroke-width="0.50"/>
<path d="M179.5 375.1L182.1 376.9L179.5 378.7Z" stroke-width="0.50"/>
<path d="M180.1 373.7L182.7 375.5L180.1 377.3Z" stroke-width="0.50"/>
<path d="M180.7 372.4L183.3 374.2L180.7 376.0Z" stroke-width="0.50"/>
<path d="M181.3 371.0L183.9 372.8L181.3 374.6Z" stroke-width="0.50"/>
<path d="M181.9 369.6L184.5 371.4L181.9 373.2Z" stroke-width="0.50"/>
<path d="M182.5 368.2L185.1 370.0L182.5 371.8Z" stroke-width="0.50"/>
<path d="M183.1 366.9L185.7 368.7L183.1 370.5Z" stroke-width="0.50"/>
<path d="M183.7 365.5L186.3 367.3L183.7 369.1Z" stroke-width="0.50"/>
<path d="M184.3 364.1L186.9 365.9L184.3 367.7Z" stroke-width="0.50"/>
<path d="M184.9 362.7L187.5 364.5L184.9 366.3Z" stroke-width="0.50"/>
<path d="M185.5 361.4L188.1 363.2L185.5 365.0Z" stroke-width="0.50"/>
<path d="M186.1 360.0L188.7 361.8L186.1 363.6Z" stroke-width="0.50"/>
<path d="M186.7 358.6L189.3 360.4L186.7 362.2Z" stroke-width="0.50"/>
<path d="M187.3 357.2L189.9 359.0L187.3 360.8Z" stroke-width="0.50"/>
<path d="M187.9 355.9L190.6 357.7L187.9 359.5Z" stroke-width="0.50"/>
<path d="M188.6 354.5L191.2 356.3L188.6 358.1Z" stroke-width="0.50"/>
<path d="M189.2 353.1L191.8 354.9L189.2 356.7Z" stroke-width="0.50"/>
<path d="M189.8 351.8L192.4 353.6L189.8 355.4Z" stroke-width="0.50"/>
<path d="M190.4 350.4L193.1 352.2L190.4 354.0Z" stroke-width="0.50"/>
<path d="M191.1 349.1L193.7 350.9L191.1 352.7Z" stroke-width="0.50"/>
<path d="M191.7 347.7L194.3 349.5L191.7 351.3Z" stroke-width="0.50"/>
<path d="M192.4 346.3L195.0 348.1L192.4 349.9Z" stroke-width="0.50"/>
<path d="M193.0 345.0L195.6 346.8L193.0 348.6Z" stroke-width="0.50"/>
<path d="M193.7 343.6L196.3 345.4L193.7 347.2Z" stroke-width="0.50"/>
<path d="M194.3 342.3L196.9 344.1L194.3 345.9Z" stroke-width="0.50"/>
<path d="M195.0 341.0L197.6 342.8L195.0 344.6Z" stroke-width="0.50"/>
<path d="M195.7 339.6L198.3 341.4L195.7 343.2Z" stroke-width="0.50"/>
<path d="M196.4 338.3L199.0 340.1L196.4 341.9Z" stroke-width="0.50"/>
<path d="M197.0 336.9L199.7 338.7L197.0 340.5Z" stroke-width="0.50"/>
<path d="M197.7 335.6L200.4 337.4L197.7 339.2Z" stroke-width="0.50"/>
<path d="M198.4 334.3L201.1 336.1L198.4 337.9Z" stroke-width="0.50"/>
<path d="M199.2 333.0L201.8 334.8L199.2 336.6Z" stroke-width="0.50"/>
<path d="M199.9 331.7L202.5 333.5L199.9 335.3Z" stroke-width="0.50"/>
<path d="M200.6 330.4L203.2 332.2L200.6 334.0Z" stroke-width="0.50"/>
<path d="M201.3 329.0L204.0 330.8L201.3 332.6Z" stroke-width="0.50"/>
<path d="M202.1 327.7L204.7 329.5L202.1 331.3Z" stroke-width="0.50"/>
<path d="M202.9 326.5L205.5 328.3L202.9 330.1Z" stroke-width="0.50"/>
<path d="M203.6 325.2L206.2 327.0L203.6 328.8Z" stroke-width="0.50"/>
<path d="M204.4 323.9L207.0 325.7L204.4 327.5Z" stroke-width="0.50"/>
<path d="M205.2 322.6L207.8 324.4L205.2 326.2Z" stroke-width="0.50"/>
<path d="M206.0 321.3L208.6 323.1L206.0 324.9Z" stroke-width="0.50"/>
<path d="M206.7 320.0L209.4 321.8L206.7 323.6Z" stroke-width="0.50"/>
<path d="M207.6 318.8L210.2 320.6L207.6 322.4Z" stroke-width="0.50"/>
<path d="M208.4 317.5L211.0 319.3L208.4 321.1Z" stroke-width="0.50"/>
<path d="M209.2 316.3L211.8 318.1L209.2 319.9Z" stroke-width="0.50"/>
<path d="M210.0 315.0L212.6 316.8L210.0 318.6Z" stroke-width="0.50"/>
<path d="M210.9 313.8L213.5 315.6L210.9 317.4Z" stroke-width="0.50"/>
<path d="M211.7 312.5L214.3 314.3L211.7 316.1Z" stroke-width="0.50"/>
<path d="M212.6 311.3L215.2 313.1L212.6 314.9Z" stroke-width="0.50"/>
<path d="M213.5 310.1L216.1 311.9L213.5 313.7Z" stroke-width="0.50"/>
<path d="M214.3 308.9L216.9 310.7L214.3 312.5Z" stroke-width="0.50"/>
<path d="M215.2 307.7L217.8 309.5L215.2 311.3Z" stroke-width="0.50"/>
<path d="M216.1 306.5L218.7 308.3L216.1 310.1Z" stroke-width="0.50"/>
<path d="M217.0 305.3L219.6 307.1L217.0 308.9Z" stroke-width="0.50"/>
<path d="M217.9 304.1L220.5 305.9L217.9 307.7Z" stroke-width="0.50"/>
<path d="M218.8 302.9L221.5 304.7L218.8 306.5Z" stroke-width="0.50"/>
<path d="M219.8 301.7L222.4 303.5L219.8 305.3Z" stroke-width="0.50"/>
<path d="M220.7 300.5L223.3 302.3L220.7 304.1Z" stroke-width="0.50"/>
<path d="M221.7 299.4L224.3 301.2L221.7 303.0Z" stroke-width="0.50"/>
<path d="M222.6 298.2L225.2 300.0L222.6 301.8Z" stroke-width="0.50"/>
<path d="M223.6 297.1L226.2 298.9L223.6 300.7Z" stroke-width="0.50"/>
<path d="M224.5 295.9L227.2 297.7L224.5 299.5Z" stroke-width="0.50"/>
<path d="M225.5 294.8L228.1 296.6L225.5 298.4Z" stroke-width="0.50"/>
<path d="M226.5 293.7L229.1 295.5L226.5 297.3Z" stroke-width="0.50"/>
<path d="M227.5 292.5L230.1 294.3L227.5 296.1Z" stroke-width="0.50"/>
<path d="M228.5 291.4L231.1 293.2L228.5 295.0Z" stroke-width="0.50"/>
<path d="M229.5 290.3L232.1 292.1L229.5 293.9Z" stroke-width="0.50"/>
<path d="M230.5 289.2L233.1 291.0L230.5 292.8Z" stroke-width="0.50"/>
<path d="M231.5 288.1L234.1 289.9L231.5 291.7Z" stroke-width="0.50"/>
<path d="M232.5 287.0L235.2 288.8L232.5 290.6Z" stroke-width="0.50"/>
<path d="M233.6 285.9L236.2 287.7L233.6 289.5Z" stroke-width="0.50"/>
<path d="M234.6 284.8L237.2 286.6L234.6 288.4Z" stroke-width="0.50"/>
<path d="M235.6 283.7L238.2 285.5L235.6 287.3Z" stroke-width="0.50"/>
<path d="M236.6 282.6L239.2 284.4L236.6 286.2Z" stroke-width="0.50"/>
<path d="M237.7 281.5L240.3 283.3L237.7 285.1Z" stroke-width="0.50"/>
<path d="M238.7 280.4L241.3 282.2L238.7 284.0Z" stroke-width="0.50"/>
<path d="M239.8 279.3L242.4 281.1L239.8 282.9Z" stroke-width="0.50"/>
<path d="M240.8 278.3L243.4 280.1L240.8 281.9Z" stroke-width="0.50"/>
<path d="M241.8 277.2L244.4 279.0L241.8 280.8Z" stroke-width="0.50"/>
<path d="M242.9 276.1L245.5 277.9L242.9 279.7Z" stroke-width="0.50"/>
<path d="M243.9 275.0L246.5 276.8L243.9 278.6Z" stroke-width="0.50"/>
<path d="M244.9 273.9L247.5 275.7L244.9 277.5Z" stroke-width="0.50"/>
<path d="M245.9 272.8L248.5 274.6L245.9 276.4Z" stroke-width="0.50"/>
<path d="M247.0 271.7L249.6 273.5L247.0 275.3Z" stroke-width="0.50"/>
<path d="M248.0 270.6L250.6 272.4L248.0 274.2Z" stroke-width="0.50"/>
<path d="M249.0 269.5L251.6 271.3L249.0 273.1Z" stroke-width="0.50"/>
<path d="M250.0 268.4L252.6 270.2L250.0 272.0Z" stroke-width="0.50"/>
<path d="M251.0 267.3L253.6 269.1L251.0 270.9Z" stroke-width="0.50"/>
<path d="M252.0 266.2L254.6 268.0L252.0 269.8Z" stroke-width="0.50"/>
<path d="M253.0 265.1L255.6 266.9L253.0 268.7Z" stroke-width="0.50"/>
<path d="M254.0 263.9L256.6 265.7L254.0 267.5Z" stroke-width="0.50"/>
<path d="M255.0 262.8L257.6 264.6L255.0 266.4Z" stroke-width="0.50"/>
<path d="M256.0 261.7L258.6 263.5L256.0 265.3Z" stroke-width="0.50"/>
<path d="M257.0 260.5L259.6 262.3L257.0 264.1Z" stroke-width="0.50"/>
<path d="M257.9 259.4L260.5 261.2L257.9 263.0Z" stroke-width="0.50"/>
<path d="M258.9 258.2L261.5 260.0L258.9 261.8Z" stroke-width="0.50"/>
<path d="M259.9 257.1L262.5 258.9L259.9 260.7Z" stroke-width="0.50"/>
<path d="M260.8 255.9L263.4 257.7L260.8 259.5Z" stroke-width="0.50"/>
<path d="M261.8 254.8L264.4 256.6L261.8 258.4Z" stroke-width="0.50"/>
<path d="M262.8 253.7L265.4 255.5L262.8 257.3Z" stroke-width="0.50"/>
<path d="M263.8 252.5L266.4 254.3L263.8 256.1Z" stroke-width="0.50"/>
<path d="M264.8 251.4L267.4 253.2L264.8 255.0Z" stroke-width="0.50"/>
<path d="M265.7 250.3L268.3 252.1L265.7 253.9Z" stroke-width="0.50"/>
<path d="M266.7 249.1L269.3 250.9L266.7 252.7Z" stroke-width="0.50"/>
<path d="M267.7 248.0L270.3 249.8L267.7 251.6Z" stroke-width="0.50"/>
<path d="M268.7 246.9L271.3 248.7L268.7 250.5Z" stroke-width="0.50"/>
<path d="M269.7 245.8L272.4 247.6L269.7 249.4Z" stroke-width="0.50"/>
<path d="M270.7 244.6L273.4 246.5L270.7 248.4Z" stroke-width="0.50"/>
<path d="M271.7 243.5L274.5 245.4L271.7 247.3Z" stroke-width="0.50"/>
<path d="M272.7 242.4L275.6 244.3L272.7 246.3Z" stroke-width="0.50"/>
<path d="M273.8 241.3L276.7 243.3L273.8 245.3Z" stroke-width="0.50"/>
<path d="M274.8 240.2L277.8 242.2L274.8 244.3Z" stroke-width="0.50"/>
<path d="M275.9 239.1L279.0 241.2L275.9 243.4Z" stroke-width="0.50"/>
<path d="M276.9 238.0L280.1 240.2L276.9 242.4Z" stroke-width="0.50"/>
<path d="M278.0 237.0L281.3 239.2L278.0 241.4Z" stroke-width="0.50"/>
<path d="M279.1 235.9L282.4 238.2L279.1 240.5Z" stroke-width="0.50"/>
<path d="M280.2 234.9L283.6 237.2L280.2 239.6Z" stroke-width="0.50"/>
<path d="M281.4 233.9L284.8 236.3L281.4 238.7Z" stroke-width="0.50"/>
<path d="M282.5 232.9L286.0 235.4L282.5 237.8Z" stroke-width="0.50"/>
<path d="M283.6 231.9L287.2 234.4L283.6 236.9Z" stroke-width="0.50"/>
<path d="M284.8 231.0L288.4 233.5L284.8 236.0Z" stroke-width="0.50"/>
<path d="M286.0 230.1L289.6 232.6L286.0 235.1Z" stroke-width="0.50"/>
<path d="M287.2 229.2L290.8 231.7L287.2 234.2Z" stroke-width="0.50"/>
<path d="M288.5 228.4L292.1 230.9L288.5 233.4Z" stroke-width="0.50"/>
<path d="M289.7 227.5L293.3 230.0L289.7 232.5Z" stroke-width="0.50"/>
<path d="M290.9 226.7L294.5 229.2L290.9 231.7Z" stroke-width="0.50"/>
<path d="M292.2 225.8L295.8 228.3L292.2 230.8Z" stroke-width="0.50"/>
<path d="M293.4 225.0L297.0 227.5L293.4 230.0Z" stroke-width="0.50"/>
<path d="M294.7 224.2L298.3 226.7L294.7 229.2Z" stroke-width="0.50"/>
<path d="M296.0 223.4L299.6 225.9L296.0 228.4Z" stroke-width="0.50"/>
<path d="M297.3 222.6L300.9 225.1L297.3 227.6Z" stroke-width="0.50"/>
<path d="M298.5 221.8L302.1 224.3L298.5 226.8Z" stroke-width="0.50"/>
<path d="M299.8 221.1L303.4 223.6L299.8 226.1Z" stroke-width="0.50"/>
<path d="M301.1 220.3L304.7 222.8L301.1 225.3Z" stroke-width="0.50"/>
<path d="M302.4 219.5L306.0 222.0L302.4 224.5Z" stroke-width="0.50"/>
</g></g>
<g stroke="#ff8000" fill="none">
<path d="M54.0 588.2L56.8 587.2L59.6 585.6L62.3 583.3L65.1 580.2L67.9 576.7L70.7 572.7L73.5 568.5L76.2 564.0L79.0 559.5L81.8 555.0L84.6 550.3L87.4 545.4L90.1 539.9L92.9 533.6" stroke-width="2.00" stroke-opacity="0.45" stroke-linejoin="round"/>
<path d="M92.9 533.6L95.7 527.1" stroke-width="1.67" stroke-opacity="0.45" stroke-linejoin="round"/>
<path d="M95.7 527.1L98.5 520.2" stroke-width="1.37" stroke-opacity="0.45" stroke-linejoin="round"/>
<path d="M98.5 520.2L101.3 511.2" stroke-width="1.06" stroke-opacity="0.45" stroke-linejoin="round"/>
<path d="M101.3 511.2L104.1 503.3" stroke-width="0.75" stroke-opacity="0.45" stroke-linejoin="round"/>
<path d="M104.1 503.3L106.8 496.2" stroke-width="0.44" stroke-opacity="0.45" stroke-linejoin="round"/>
<path d="M106.8 496.2L109.6 489.2" stroke-width="0.13" stroke-opacity="0.45" stroke-linejoin="round"/>
<path d="M245.9 264.9L248.6 261.4" stroke-width="0.13" stroke-opacity="0.45" stroke-linejoin="round"/>
<path d="M248.6 261.4L251.4 258.1" stroke-width="0.56" stroke-opacity="0.45" stroke-linejoin="round"/>
<path d="M251.4 258.1L254.2 254.9" stroke-width="0.98" stroke-opacity="0.45" stroke-linejoin="round"/>
<path d="M254.2 254.9L257.0 252.0" stroke-width="1.41" stroke-opacity="0.45" stroke-linejoin="round"/>
<path d="M257.0 252.0L259.8 249.4" stroke-width="1.83" stroke-opacity="0.45" stroke-linejoin="round"/>
<path d="M259.8 249.4L262.6 247.0" stroke-width="2.26" stroke-opacity="0.45" stroke-linejoin="round"/>
<path d="M262.6 247.0L265.3 244.7L268.1 242.5L270.9 240.4L273.7 238.4L276.5 236.2L279.2 234.1L282.0 231.7L284.8 229.3L287.6 226.9L290.4 224.4L293.1 222.0L295.9 219.7L298.7 217.4L301.5 215.5L304.3 213.7L307.0 212.0L309.8 210.5L312.6 209.0L315.4 207.6L318.2 206.2L320.9 204.7L323.7 203.1L326.5 201.4L329.3 199.5" stroke-width="2.60" stroke-opacity="0.45" stroke-linejoin="round"/>
<path d="M54.0 588.2L56.3 587.5L58.4 586.3L60.4 585.0L62.2 583.4L63.8 581.7L65.4 579.9L66.9 578.0L68.3 576.1L69.7 574.1L71.1 572.1L72.4 570.1L73.7 568.1L75.0 566.1L76.2 564.0L77.5 562.0L78.7 559.9L80.0 557.9L81.3 555.8L82.5 553.8L83.7 551.7L85.0 549.7L86.2 547.6L87.3 545.5L88.4 543.4L89.5 541.2L90.5 539.0L91.5 536.9L92.5 534.7L93.4 532.5L94.4 530.2L95.3 528.0L96.3 525.7L97.3 523.3L98.3 520.6L99.3 517.8L100.3 514.7L101.2 511.5L102.2 508.2L103.5 504.7L105.0 501.0L105.7 499.1L106.5 497.1L107.3 495.1L108.1 493.0L109.0 490.8L109.9 488.5L110.8 486.2L111.7 483.9L112.6 481.6L113.5 479.2L114.4 476.9L115.2 474.6L116.1 472.2L117.0 469.9L117.8 467.5L118.7 465.2L119.5 462.8L120.4 460.5L121.3 458.1L122.2 455.8L123.0 453.4L123.9 451.1L124.8 448.8L125.7 446.4L126.6 444.1L127.5 441.8L128.4 439.5L129.4 437.1L130.3 434.8L131.3 432.5L132.3 430.2L133.3 427.9L134.3 425.7L135.3 423.4L136.4 421.1L137.4 418.8L138.5 416.6L139.5 414.3L140.6 412.0L141.6 409.8L142.7 407.5L143.7 405.2L144.7 402.9L145.7 400.6L146.7 398.3L147.7 396.1L148.8 393.8L149.9 391.6L151.1 389.4L152.3 387.2L153.5 385.0L154.7 382.8L156.0 380.6L157.3 378.5L158.6 376.4L159.9 374.2L161.2 372.1L162.5 369.9L163.7 367.8L165.0 365.6L166.2 363.4L167.5 361.3L168.7 359.1L170.0 357.0L171.2 354.8L172.5 352.6L173.7 350.5L175.0 348.3L176.3 346.2L177.7 344.1L179.0 342.0L180.4 339.9L181.8 337.9L183.3 335.8L184.8 333.8L186.4 331.9L188.0 330.0L189.6 328.1L191.3 326.2L193.0 324.4L194.7 322.5L196.4 320.7L198.2 319.0L199.9 317.2L201.7 315.4L203.5 313.7L205.3 311.9L207.1 310.2L208.8 308.4L210.6 306.6L212.3 304.9L214.1 303.1L215.8 301.3L217.6 299.5L219.3 297.6L221.0 295.8L222.6 294.0L224.3 292.1L225.9 290.2L227.5 288.3L229.1 286.3L230.6 284.3L232.1 282.3L233.6 280.4L235.2 278.4L236.7 276.4L238.2 274.4L239.8 272.5L241.4 270.5L242.9 268.6L244.4 266.7L245.9 264.8L247.4 263.0L248.8 261.2L250.3 259.4L251.7 257.7L253.2 256.1L254.7 254.5L256.1 252.9L257.6 251.4L259.1 250.0L260.6 248.7L263.7 246.1L266.8 243.6L270.0 241.1L273.2 238.8L276.3 236.3L279.5 233.9L282.5 231.3L285.6 228.7L288.6 226.0L290.0 224.7L293.1 222.0L296.1 219.5L299.3 217.0L302.6 214.7L306.0 212.6L309.5 210.7L313.0 208.8L316.6 207.0L320.1 205.1L323.6 203.2L327.0 201.1L330.3 198.8L331.9 197.6" stroke-width="0.80" stroke-linejoin="round"/>
<g fill="#fff" fill-opacity="0.5" stroke-width="0.75">
<path d="M55.0 586.5L52.7 588.2L55.0 589.9Z"/>
<path d="M56.2 586.2L53.9 587.9L56.2 589.6Z"/>
<path d="M57.3 585.8L55.0 587.5L57.3 589.2Z"/>
<path d="M58.4 585.2L56.0 586.9L58.4 588.6Z"/>
<path d="M59.4 584.6L57.1 586.3L59.4 588.0Z"/>
<path d="M60.4 584.0L58.1 585.7L60.4 587.4Z"/>
<path d="M61.4 583.3L59.1 585.0L61.4 586.7Z"/>
<path d="M62.4 582.6L60.0 584.3L62.4 586.0Z"/>
<path d="M63.2 581.7L60.9 583.4L63.2 585.1Z"/>
<path d="M64.1 580.9L61.7 582.6L64.1 584.3Z"/>
<path d="M64.9 580.0L62.5 581.7L64.9 583.4Z"/>
<path d="M65.7 579.1L63.3 580.8L65.7 582.5Z"/>
<path d="M66.5 578.2L64.1 579.9L66.5 581.6Z"/>
<path d="M67.2 577.2L64.9 578.9L67.2 580.6Z"/>
<path d="M67.9 576.3L65.6 578.0L67.9 579.7Z"/>
<path d="M68.7 575.3L66.3 577.0L68.7 578.7Z"/>
<path d="M69.4 574.4L67.0 576.1L69.4 577.8Z"/>
<path d="M70.1 573.4L67.7 575.1L70.1 576.8Z"/>
<path d="M70.8 572.4L68.4 574.1L70.8 575.8Z"/>
<path d="M71.4 571.4L69.1 573.1L71.4 574.8Z"/>
<path d="M72.1 570.4L69.8 572.1L72.1 573.8Z"/>
<path d="M72.8 569.4L70.4 571.1L72.8 572.8Z"/>
<path d="M73.4 568.4L71.1 570.1L73.4 571.8Z"/>
<path d="M74.1 567.4L71.8 569.1L74.1 570.8Z"/>
<path d="M74.7 566.4L72.4 568.1L74.7 569.8Z"/>
<path d="M75.4 565.4L73.0 567.1L75.4 568.8Z"/>
<path d="M76.0 564.4L73.7 566.1L76.0 567.8Z"/>
<path d="M76.6 563.3L74.3 565.0L76.6 566.7Z"/>
<path d="M77.3 562.3L74.9 564.0L77.3 565.7Z"/>
<path d="M77.9 561.3L75.6 563.0L77.9 564.7Z"/>
<path d="M78.5 560.3L76.2 562.0L78.5 563.7Z"/>
<path d="M79.2 559.3L76.8 561.0L79.2 562.7Z"/>
<path d="M79.8 558.2L77.4 559.9L79.8 561.6Z"/>
<path d="M80.4 557.2L78.1 558.9L80.4 560.6Z"/>
<path d="M81.0 556.2L78.7 557.9L81.0 559.6Z"/>
<path d="M81.7 555.2L79.3 556.9L81.7 558.6Z"/>
<path d="M82.3 554.1L79.9 555.8L82.3 557.6Z"/>
<path d="M82.9 553.1L80.6 554.8L82.9 556.6Z"/>
<path d="M83.6 552.1L81.2 553.8L83.6 555.5Z"/>
<path d="M84.2 551.0L81.8 552.8L84.2 554.5Z"/>
<path d="M84.8 550.0L82.4 551.7L84.8 553.5Z"/>
<path d="M85.4 549.0L83.0 550.7L85.4 552.5Z"/>
<path d="M86.1 547.9L83.6 549.7L86.1 551.4Z"/>
<path d="M86.7 546.9L84.2 548.6L86.7 550.4Z"/>
<path d="M87.3 545.8L84.8 547.6L87.3 549.4Z"/>
<path d="M87.9 544.8L85.3 546.5L87.9 548.3Z"/>
<path d="M88.4 543.7L85.9 545.5L88.4 547.3Z"/>
<path d="M89.0 542.6L86.5 544.4L89.0 546.2Z"/>
<path d="M89.5 541.5L87.0 543.4L89.5 545.2Z"/>
<path d="M90.1 540.5L87.5 542.3L90.1 544.1Z"/>
<path d="M90.6 539.4L88.1 541.2L90.6 543.0Z"/>
<path d="M91.2 538.3L88.6 540.1L91.2 542.0Z"/>
<path d="M91.7 537.2L89.1 539.0L91.7 540.9Z"/>
<path d="M92.2 536.1L89.6 538.0L92.2 539.8Z"/>
<path d="M92.7 535.0L90.1 536.9L92.7 538.7Z"/>
<path d="M93.2 533.9L90.5 535.8L93.2 537.6Z"/>
<path d="M93.6 532.8L91.0 534.7L93.6 536.5Z"/>
<path d="M94.1 531.7L91.5 533.6L94.1 535.4Z"/>
<path d="M94.6 530.6L91.9 532.5L94.6 534.3Z"/>
<path d="M95.1 529.5L92.4 531.4L95.1 533.2Z"/>
<path d="M95.6 528.4L92.9 530.2L95.6 532.1Z"/>
<path d="M96.0 527.2L93.3 529.1L96.0 531.0Z"/>
<path d="M96.5 526.1L93.8 528.0L96.5 529.9Z"/>
<path d="M97.0 525.0L94.3 526.9L97.0 528.8Z"/>
<path d="M97.5 523.8L94.7 525.7L97.5 527.7Z"/>
<path d="M98.0 522.6L95.2 524.5L98.0 526.4Z"/>
<path d="M98.5 521.3L95.7 523.3L98.5 525.2Z"/>
<path d="M99.0 520.0L96.3 522.0L99.0 523.9Z"/>
<path d="M99.6 518.7L96.8 520.6L99.6 522.6Z"/>
<path d="M100.1 517.3L97.3 519.2L100.1 521.2Z"/>
<path d="M100.6 515.8L97.8 517.8L100.6 519.7Z"/>
<path d="M101.1 514.3L98.2 516.3L101.1 518.2Z"/>
<path d="M101.5 512.8L98.7 514.7L101.5 516.7Z"/>
<path d="M102.0 511.2L99.1 513.1L102.0 515.1Z"/>
<path d="M102.4 509.5L99.6 511.5L102.4 513.5Z"/>
<path d="M103.0 507.9L100.1 509.8L103.0 511.8Z"/>
<path d="M103.5 506.2L100.7 508.2L103.5 510.2Z"/>
<path d="M104.1 504.4L101.3 506.4L104.1 508.4Z"/>
<path d="M104.8 502.7L101.9 504.7L104.8 506.7Z"/>
<path d="M105.5 500.8L102.6 502.9L105.5 504.9Z"/>
<path d="M106.3 499.0L103.3 501.0L106.3 503.0Z"/>
<path d="M107.0 497.0L104.1 499.1L107.0 501.1Z"/>
<path d="M107.8 495.0L104.8 497.1L107.8 499.2Z"/>
<path d="M108.6 493.0L105.6 495.1L108.6 497.1Z"/>
<path d="M109.4 490.9L106.4 493.0L109.4 495.0Z"/>
<path d="M110.3 488.7L107.3 490.8L110.3 492.9Z"/>
<path d="M111.2 486.4L108.2 488.5L111.2 490.6Z"/>
<path d="M112.1 484.1L109.1 486.2L112.1 488.3Z"/>
<path d="M113.1 481.8L110.0 483.9L113.1 486.0Z"/>
<path d="M114.0 479.5L110.9 481.6L114.0 483.7Z"/>
<path d="M114.8 477.1L111.8 479.2L114.8 481.3Z"/>
<path d="M115.7 474.8L112.7 476.9L115.7 479.0Z"/>
<path d="M116.6 472.5L113.5 474.6L116.6 476.7Z"/>
<path d="M117.5 470.1L114.4 472.2L117.5 474.3Z"/>
<path d="M118.3 467.8L115.3 469.9L118.3 472.0Z"/>
<path d="M119.2 465.4L116.1 467.5L119.2 469.6Z"/>
<path d="M120.0 463.1L117.0 465.2L120.0 467.3Z"/>
<path d="M120.9 460.7L117.8 462.8L120.9 464.9Z"/>
<path d="M121.8 458.4L118.7 460.5L121.8 462.6Z"/>
<path d="M122.6 456.0L119.6 458.1L122.6 460.2Z"/>
<path d="M123.5 453.7L120.5 455.8L123.5 457.9Z"/>
<path d="M124.4 451.3L121.3 453.4L124.4 455.5Z"/>
<path d="M125.3 449.0L122.2 451.1L125.3 453.2Z"/>
<path d="M126.1 446.7L123.1 448.8L126.1 450.9Z"/>
<path d="M127.0 444.3L124.0 446.4L127.0 448.5Z"/>
<path d="M127.9 442.0L124.9 444.1L127.9 446.2Z"/>
<path d="M128.9 439.7L125.8 441.8L128.9 443.9Z"/>
<path d="M129.8 437.4L126.7 439.5L129.8 441.6Z"/>
<path d="M130.7 435.0L127.7 437.1L130.7 439.2Z"/>
<path d="M131.7 432.7L128.6 434.8L131.7 436.9Z"/>
<path d="M132.6 430.4L129.6 432.5L132.6 434.6Z"/>
<path d="M133.6 428.1L130.6 430.2L133.6 432.3Z"/>
<path d="M134.6 425.8L131.6 427.9L134.6 430.0Z"/>
<path d="M135.7 423.6L132.6 425.7L135.7 427.8Z"/>
<path d="M136.7 421.3L133.6 423.4L136.7 425.5Z"/>
<path d="M137.7 419.0L134.7 421.1L137.7 423.2Z"/>
<path d="M138.8 416.7L135.7 418.8L138.8 420.9Z"/>
<path d="M139.8 414.5L136.8 416.6L139.8 418.7Z"/>
<path d="M140.9 412.2L137.8 414.3L140.9 416.4Z"/>
<path d="M141.9 409.9L138.9 412.0L141.9 414.1Z"/>
<path d="M143.0 407.7L139.9 409.8L143.0 411.9Z"/>
<path d="M144.0 405.4L141.0 407.5L144.0 409.6Z"/>
<path d="M145.0 403.1L142.0 405.2L145.0 407.3Z"/>
<path d="M146.0 400.8L143.0 402.9L146.0 405.0Z"/>
<path d="M147.1 398.5L144.0 400.6L147.1 402.7Z"/>
<path d="M148.1 396.2L145.0 398.3L148.1 400.4Z"/>
<path d="M149.1 394.0L146.0 396.1L149.1 398.2Z"/>
<path d="M150.2 391.7L147.1 393.8L150.2 395.9Z"/>
<path d="M151.3 389.5L148.2 391.6L151.3 393.7Z"/>
<path d="M152.4 387.3L149.4 389.4L152.4 391.5Z"/>
<path d="M153.6 385.1L150.6 387.2L153.6 389.3Z"/>
<path d="M154.9 382.9L151.8 385.0L154.9 387.1Z"/>
<path d="M156.1 380.7L153.0 382.8L156.1 384.9Z"/>
<path d="M157.3 378.5L154.3 380.6L157.3 382.7Z"/>
<path d="M158.6 376.4L155.6 378.5L158.6 380.6Z"/>
<path d="M160.0 374.3L156.9 376.4L160.0 378.5Z"/>
<path d="M161.3 372.1L158.2 374.2L161.3 376.3Z"/>
<path d="M162.5 370.0L159.5 372.1L162.5 374.2Z"/>
<path d="M163.8 367.8L160.8 369.9L163.8 372.0Z"/>
<path d="M165.1 365.7L162.0 367.8L165.1 369.9Z"/>
<path d="M166.3 363.5L163.3 365.6L166.3 367.7Z"/>
<path d="M167.6 361.3L164.5 363.4L167.6 365.5Z"/>
<path d="M168.8 359.2L165.8 361.3L168.8 363.4Z"/>
<path d="M170.1 357.0L167.0 359.1L170.1 361.2Z"/>
<path d="M171.3 354.9L168.3 357.0L171.3 359.1Z"/>
<path d="M172.6 352.7L169.5 354.8L172.6 356.9Z"/>
<path d="M173.8 350.5L170.8 352.6L173.8 354.7Z"/>
<path d="M175.1 348.4L172.0 350.5L175.1 352.6Z"/>
<path d="M176.4 346.2L173.3 348.3L176.4 350.4Z"/>
<path d="M177.7 344.1L174.6 346.2L177.7 348.3Z"/>
<path d="M179.0 342.0L176.0 344.1L179.0 346.2Z"/>
<path d="M180.4 339.9L177.3 342.0L180.4 344.1Z"/>
<path d="M181.8 337.8L178.7 339.9L181.8 342.0Z"/>
<path d="M183.2 335.8L180.1 337.9L183.2 340.0Z"/>
<path d="M184.7 333.7L181.6 335.8L184.7 337.9Z"/>
<path d="M186.2 331.7L183.1 333.8L186.2 335.9Z"/>
<path d="M187.7 329.8L184.7 331.9L187.7 334.0Z"/>
<path d="M189.3 327.9L186.3 330.0L189.3 332.1Z"/>
<path d="M191.0 326.0L187.9 328.1L191.0 330.2Z"/>
<path d="M192.6 324.1L189.6 326.2L192.6 328.3Z"/>
<path d="M194.3 322.3L191.3 324.4L194.3 326.5Z"/>
<path d="M196.0 320.4L193.0 322.5L196.0 324.6Z"/>
<path d="M197.8 318.6L194.7 320.7L197.8 322.8Z"/>
<path d="M199.5 316.9L196.5 319.0L199.5 321.1Z"/>
<path d="M201.3 315.1L198.2 317.2L201.3 319.3Z"/>
<path d="M203.1 313.3L200.0 315.4L203.1 317.5Z"/>
<path d="M204.9 311.6L201.8 313.7L204.9 315.8Z"/>
<path d="M206.7 309.8L203.6 311.9L206.7 314.0Z"/>
<path d="M208.4 308.1L205.4 310.2L208.4 312.3Z"/>
<path d="M210.2 306.3L207.1 308.4L210.2 310.5Z"/>
<path d="M212.0 304.5L208.9 306.6L212.0 308.7Z"/>
<path d="M213.7 302.8L210.6 304.9L213.7 307.0Z"/>
<path d="M215.5 301.0L212.4 303.1L215.5 305.2Z"/>
<path d="M217.2 299.2L214.1 301.3L217.2 303.4Z"/>
<path d="M218.9 297.4L215.9 299.5L218.9 301.6Z"/>
<path d="M220.6 295.5L217.6 297.6L220.6 299.7Z"/>
<path d="M222.3 293.7L219.3 295.8L222.3 297.9Z"/>
<path d="M224.0 291.9L220.9 294.0L224.0 296.1Z"/>
<path d="M225.7 290.0L222.6 292.1L225.7 294.2Z"/>
<path d="M227.3 288.1L224.2 290.2L227.3 292.3Z"/>
<path d="M228.9 286.2L225.8 288.3L228.9 290.4Z"/>
<path d="M230.4 284.2L227.4 286.3L230.4 288.4Z"/>
<path d="M232.0 282.2L228.9 284.3L232.0 286.4Z"/>
<path d="M233.5 280.2L230.4 282.3L233.5 284.4Z"/>
<path d="M235.0 278.3L231.9 280.4L235.0 282.5Z"/>
<path d="M236.5 276.3L233.5 278.4L236.5 280.5Z"/>
<path d="M238.1 274.2L234.9 276.4L238.1 278.5Z"/>
<path d="M239.7 272.2L236.4 274.4L239.7 276.6Z"/>
<path d="M241.2 270.2L237.9 272.5L241.2 274.7Z"/>
<path d="M242.9 268.2L239.5 270.5L242.9 272.8Z"/>
<path d="M244.4 266.2L241.0 268.6L244.4 271.0Z"/>
<path d="M246.0 264.3L242.4 266.7L246.0 269.1Z"/>
<path d="M247.5 262.3L243.9 264.8L247.5 267.3Z"/>
<path d="M249.0 260.4L245.3 263.0L249.0 265.5Z"/>
<path d="M250.5 258.6L246.7 261.2L250.5 263.8Z"/>
<path d="M252.0 256.8L248.2 259.4L252.0 262.1Z"/>
<path d="M253.5 255.0L249.6 257.7L253.5 260.4Z"/>
<path d="M255.0 253.3L251.0 256.1L255.0 258.8Z"/>
<path d="M256.5 251.7L252.4 254.5L256.5 257.3Z"/>
<path d="M258.0 250.1L253.8 252.9L258.0 255.8Z"/>
<path d="M259.5 248.5L255.3 251.4L259.5 254.3Z"/>
<path d="M261.0 247.0L256.7 250.0L261.0 253.0Z"/>
<path d="M262.5 245.7L258.2 248.7L262.5 251.7Z"/>
<path d="M264.0 244.4L259.7 247.4L264.0 250.4Z"/>
<path d="M265.6 243.1L261.3 246.1L265.6 249.1Z"/>
<path d="M267.1 241.8L262.8 244.8L267.1 247.8Z"/>
<path d="M268.7 240.6L264.4 243.6L268.7 246.6Z"/>
<path d="M270.3 239.3L266.0 242.3L270.3 245.3Z"/>
<path d="M271.9 238.1L267.6 241.1L271.9 244.1Z"/>
<path d="M273.5 237.0L269.2 240.0L273.5 243.0Z"/>
<path d="M275.1 235.8L270.8 238.8L275.1 241.8Z"/>
<path d="M276.7 234.6L272.4 237.6L276.7 240.6Z"/>
<path d="M278.3 233.3L273.9 236.3L278.3 239.3Z"/>
<path d="M279.8 232.1L275.5 235.1L279.8 238.1Z"/>
<path d="M281.4 230.9L277.1 233.9L281.4 236.9Z"/>
<path d="M282.9 229.6L278.6 232.6L282.9 235.6Z"/>
<path d="M284.5 228.3L280.1 231.3L284.5 234.3Z"/>
<path d="M286.0 227.0L281.7 230.0L286.0 233.0Z"/>
<path d="M287.5 225.7L283.2 228.7L287.5 231.7Z"/>
<path d="M289.0 224.3L284.7 227.3L289.0 230.3Z"/>
<path d="M290.5 223.0L286.2 226.0L290.5 229.0Z"/>
<path d="M292.0 221.7L287.6 224.7L292.0 227.7Z"/>
<path d="M293.5 220.3L289.1 223.3L293.5 226.3Z"/>
<path d="M295.0 219.0L290.7 222.0L295.0 225.0Z"/>
<path d="M296.5 217.8L292.2 220.8L296.5 223.8Z"/>
<path d="M298.1 216.5L293.7 219.5L298.1 222.5Z"/>
<path d="M299.6 215.2L295.3 218.2L299.6 221.2Z"/>
<path d="M301.2 214.0L296.9 217.0L301.2 220.0Z"/>
<path d="M302.8 212.9L298.5 215.9L302.8 218.9Z"/>
<path d="M304.5 211.7L300.2 214.7L304.5 217.7Z"/>
<path d="M306.2 210.7L301.9 213.7L306.2 216.7Z"/>
<path d="M307.9 209.6L303.6 212.6L307.9 215.6Z"/>
<path d="M309.6 208.6L305.3 211.6L309.6 214.6Z"/>
<path d="M311.4 207.7L307.1 210.7L311.4 213.7Z"/>
<path d="M313.1 206.7L308.8 209.7L313.1 212.7Z"/>
<path d="M314.9 205.8L310.6 208.8L314.9 211.8Z"/>
<path d="M316.7 204.9L312.4 207.9L316.7 210.9Z"/>
<path d="M318.5 204.0L314.2 207.0L318.5 210.0Z"/>
<path d="M320.3 203.1L315.9 206.1L320.3 209.1Z"/>
<path d="M322.0 202.1L317.7 205.1L322.0 208.1Z"/>
<path d="M323.8 201.2L319.4 204.2L323.8 207.2Z"/>
<path d="M325.5 200.2L321.2 203.2L325.5 206.2Z"/>
<path d="M327.2 199.1L322.9 202.1L327.2 205.1Z"/>
<path d="M328.9 198.1L324.6 201.1L328.9 204.1Z"/>
<path d="M330.6 197.0L326.3 200.0L330.6 203.0Z"/>
<path d="M332.2 195.8L327.9 198.8L332.2 201.8Z"/>
<path d="M333.8 194.6L329.5 197.6L333.8 200.6Z"/>
</g></g>
<g stroke="#8000ff" fill="none">
<path d="M50.0 588.2L52.4 587.2L54.8 585.6L57.2 583.6L59.6 581.0L62.0 578.1L64.4 574.9L66.8 571.3L69.2 567.6L71.6 563.6L74.0 559.4L76.4 555.1L78.8 550.6L81.2 545.7" stroke-width="4.20" stroke-opacity="0.75" stroke-linejoin="round"/>
<path d="M81.2 545.7L83.6 540.5L86.0 535.0L88.4 529.0L90.8 522.5L93.2 515.5L95.6 508.1L98.0 500.3L100.4 492.3L102.8 484.2L105.2 476.1L107.6 467.8L110.0 459.6L112.4 451.5" stroke-width="4.08" stroke-opacity="0.73" stroke-linejoin="round"/>
<path d="M112.4 451.5L114.8 443.6L117.2 437.1" stroke-width="4.10" stroke-opacity="0.67" stroke-linejoin="round"/>
<path d="M117.2 437.1L119.6 431.4L122.0 426.2" stroke-width="4.14" stroke-opacity="0.62" stroke-linejoin="round"/>
<path d="M122.0 426.2L124.4 421.1L126.8 416.3" stroke-width="4.18" stroke-opacity="0.56" stroke-linejoin="round"/>
<path d="M126.8 416.3L129.2 411.5L131.6 406.9" stroke-width="4.21" stroke-opacity="0.50" stroke-linejoin="round"/>
<path d="M131.6 406.9L134.0 402.2L136.4 397.7" stroke-width="4.25" stroke-opacity="0.45" stroke-linejoin="round"/>
<path d="M136.4 397.7L138.8 393.4L141.2 389.1" stroke-width="4.29" stroke-opacity="0.39" stroke-linejoin="round"/>
<path d="M141.2 389.1L143.6 384.9L146.0 380.8L148.4 376.9L150.8 373.0L153.2 369.2L155.6 365.6L158.0 362.0" stroke-width="4.33" stroke-opacity="0.35" stroke-linejoin="round"/>
<path d="M158.0 362.0L160.4 358.6L162.8 355.2L165.2 352.0L167.6 348.8L170.0 345.7L172.4 342.8L174.8 339.9" stroke-width="4.46" stroke-opacity="0.35" stroke-linejoin="round"/>
<path d="M174.8 339.9L177.2 337.1L179.6 334.4L182.0 331.8L184.4 329.3L186.8 326.9L189.2 324.5L191.6 322.1" stroke-width="4.59" stroke-opacity="0.35" stroke-linejoin="round"/>
<path d="M191.6 322.1L194.0 319.9L196.4 317.6L198.8 315.4L201.2 313.2L203.6 311.0L206.0 308.8L208.4 306.7" stroke-width="4.71" stroke-opacity="0.35" stroke-linejoin="round"/>
<path d="M208.4 306.7L210.8 304.5L213.2 302.3L215.6 300.1L218.0 297.9L220.4 295.6L222.8 293.3L225.2 291.0" stroke-width="4.84" stroke-opacity="0.35" stroke-linejoin="round"/>
<path d="M225.2 291.0L227.6 288.7L230.0 286.4L232.4 284.1L234.8 281.8L237.2 279.5L239.6 277.2L242.0 274.9L244.4 272.6" stroke-width="4.96" stroke-opacity="0.35" stroke-linejoin="round"/>
<path d="M244.4 272.6L246.8 270.4L249.2 268.1" stroke-width="5.00" stroke-opacity="0.39" stroke-linejoin="round"/>
<path d="M249.2 268.1L251.7 265.9L254.1 263.7" stroke-width="5.00" stroke-opacity="0.44" stroke-linejoin="round"/>
<path d="M254.1 263.7L256.5 261.6L258.9 259.5" stroke-width="5.00" stroke-opacity="0.49" stroke-linejoin="round"/>
<path d="M258.9 259.5L261.3 257.4L263.7 255.4" stroke-width="5.00" stroke-opacity="0.54" stroke-linejoin="round"/>
<path d="M263.7 255.4L266.1 253.4L268.5 251.5L270.9 249.7L273.3 247.9L275.7 246.1L278.1 244.4L280.5 242.9L282.9 241.3L285.3 239.9L287.7 238.6" stroke-width="5.00" stroke-opacity="0.59" stroke-linejoin="round"/>
<path d="M50.0 588.2L52.7 587.0L55.2 585.3L57.5 583.3L59.5 581.1L61.4 578.8L63.3 576.4L65.0 574.0L66.7 571.5L68.3 569.0L69.9 566.4L70.9 564.7L72.5 562.1L74.0 559.5L75.4 556.9L76.9 554.3L77.8 552.5L79.2 549.9L80.5 547.2L81.8 544.5L83.1 541.7L84.3 539.0L85.5 536.3L86.2 534.4L87.4 531.6L88.1 529.8L89.2 527.0L90.2 524.2L91.2 521.3L91.9 519.4L92.9 516.6L93.8 513.8L94.4 511.8L95.3 509.0L95.9 507.1L96.5 505.2L97.1 503.3L97.7 501.3L98.6 498.5L99.4 495.6L100.0 493.7L100.9 490.8L101.4 488.9L102.3 486.0L103.1 483.1L103.7 481.2L104.6 478.3L105.4 475.5L106.2 472.6L106.8 470.7L107.3 468.7L107.9 466.8L108.7 463.9L109.6 461.1L110.4 458.2L111.0 456.3L111.6 454.3L112.2 452.3L112.7 450.3L113.3 448.3L114.0 446.3L114.6 444.3L115.3 442.3L116.0 440.2L116.8 438.2L117.6 436.1L118.5 434.1L119.4 432.0L120.3 429.9L121.3 427.8L122.3 425.7L123.3 423.5L124.3 421.4L125.4 419.2L126.5 417.0L127.6 414.7L128.7 412.5L129.9 410.2L131.1 407.9L132.3 405.5L133.6 403.1L134.8 400.7L136.1 398.3L137.4 395.9L138.8 393.4L140.2 390.9L141.7 388.3L143.1 385.8L144.6 383.2L146.2 380.5L147.8 377.9L149.5 375.2L151.1 372.5L152.9 369.8L154.6 367.1L156.4 364.5L158.2 361.8L160.0 359.2L161.9 356.6L163.7 354.0L165.6 351.4L167.6 348.9L169.5 346.3L171.5 343.8L173.6 341.4L175.7 338.9L177.8 336.5L179.9 334.1L182.1 331.8L184.3 329.5L186.5 327.2L188.8 324.9L191.1 322.7L193.4 320.5L195.7 318.3L198.1 316.1L200.4 314.0L202.8 311.8L205.2 309.6L207.5 307.5L209.9 305.4L212.3 303.2L214.6 301.0L217.0 298.9L219.3 296.7L221.6 294.5L224.0 292.3L226.3 290.1L228.6 287.8L230.9 285.6L233.2 283.4L235.5 281.2L237.8 279.0L240.1 276.7L242.4 274.5L244.7 272.3L247.1 270.1L249.4 268.0L251.8 265.8L254.1 263.6L256.5 261.5L258.9 259.4L261.4 257.3L263.8 255.3L266.3 253.2L268.8 251.3L271.3 249.3L273.9 247.4L276.5 245.5L279.1 243.7L281.8 242.0L284.6 240.3L287.3 238.7L290.0 237.3" stroke-width="1.10" stroke-linejoin="round"/>
<g fill="#fff" fill-opacity="0.2" stroke-width="0.80">
<path d="M47.5 588.2L50.0 585.4L52.5 588.2L50.0 591.0Z"/>
<path d="M48.5 587.9L50.9 585.1L53.4 587.9L50.9 590.7Z"/>
<path d="M49.4 587.4L51.9 584.6L54.3 587.4L51.9 590.2Z"/>
<path d="M50.3 587.0L52.7 584.2L55.2 587.0L52.7 589.8Z"/>
<path d="M51.1 586.5L53.6 583.7L56.0 586.5L53.6 589.3Z"/>
<path d="M52.0 585.9L54.4 583.1L56.9 585.9L54.4 588.7Z"/>
<path d="M52.8 585.3L55.2 582.5L57.6 585.3L55.2 588.1Z"/>
<path d="M53.5 584.6L56.0 581.8L58.4 584.6L56.0 587.4Z"/>
<path d="M54.3 584.0L56.7 581.2L59.2 584.0L56.7 586.8Z"/>
<path d="M55.0 583.3L57.5 580.5L59.9 583.3L57.5 586.1Z"/>
<path d="M55.7 582.6L58.2 579.8L60.6 582.6L58.2 585.4Z"/>
<path d="M56.4 581.9L58.9 579.1L61.3 581.9L58.9 584.7Z"/>
<path d="M57.1 581.1L59.5 578.3L62.0 581.1L59.5 583.9Z"/>
<path d="M57.7 580.4L60.2 577.6L62.6 580.4L60.2 583.2Z"/>
<path d="M58.4 579.6L60.8 576.8L63.3 579.6L60.8 582.4Z"/>
<path d="M59.0 578.8L61.4 576.0L63.9 578.8L61.4 581.6Z"/>
<path d="M59.6 578.0L62.1 575.2L64.5 578.0L62.1 580.8Z"/>
<path d="M60.2 577.2L62.7 574.4L65.1 577.2L62.7 580.0Z"/>
<path d="M60.8 576.4L63.3 573.6L65.7 576.4L63.3 579.2Z"/>
<path d="M61.4 575.6L63.9 572.8L66.3 575.6L63.9 578.4Z"/>
<path d="M62.0 574.8L64.4 572.0L66.9 574.8L64.4 577.6Z"/>
<path d="M62.6 574.0L65.0 571.2L67.5 574.0L65.0 576.8Z"/>
<path d="M63.1 573.2L65.6 570.4L68.0 573.2L65.6 576.0Z"/>
<path d="M63.7 572.3L66.1 569.5L68.6 572.3L66.1 575.1Z"/>
<path d="M64.3 571.5L66.7 568.7L69.1 571.5L66.7 574.3Z"/>
<path d="M64.8 570.7L67.2 567.9L69.7 570.7L67.2 573.5Z"/>
<path d="M65.3 569.8L67.8 567.0L70.2 569.8L67.8 572.6Z"/>
<path d="M65.9 569.0L68.3 566.2L70.7 569.0L68.3 571.8Z"/>
<path d="M66.4 568.1L68.8 565.3L71.3 568.1L68.8 570.9Z"/>
<path d="M66.9 567.3L69.4 564.5L71.8 567.3L69.4 570.1Z"/>
<path d="M67.5 566.4L69.9 563.6L72.3 566.4L69.9 569.2Z"/>
<path d="M68.0 565.6L70.4 562.8L72.8 565.6L70.4 568.4Z"/>
<path d="M68.5 564.7L70.9 561.9L73.4 564.7L70.9 567.5Z"/>
<path d="M69.0 563.9L71.4 561.1L73.9 563.9L71.4 566.7Z"/>
<path d="M69.5 563.0L71.9 560.2L74.4 563.0L71.9 565.8Z"/>
<path d="M70.0 562.1L72.5 559.3L74.9 562.1L72.5 564.9Z"/>
<path d="M70.5 561.3L73.0 558.5L75.4 561.3L73.0 564.1Z"/>
<path d="M71.0 560.4L73.5 557.6L75.9 560.4L73.5 563.2Z"/>
<path d="M71.5 559.5L74.0 556.7L76.4 559.5L74.0 562.3Z"/>
<path d="M72.0 558.7L74.4 555.9L76.9 558.7L74.4 561.5Z"/>
<path d="M72.5 557.8L74.9 555.0L77.4 557.8L74.9 560.6Z"/>
<path d="M73.0 556.9L75.4 554.1L77.8 556.9L75.4 559.7Z"/>
<path d="M73.5 556.1L75.9 553.3L78.3 556.1L75.9 558.9Z"/>
<path d="M74.0 555.2L76.4 552.4L78.8 555.2L76.4 558.0Z"/>
<path d="M74.4 554.3L76.9 551.5L79.3 554.3L76.9 557.1Z"/>
<path d="M74.9 553.4L77.3 550.6L79.7 553.4L77.3 556.2Z"/>
<path d="M75.4 552.5L77.8 549.7L80.2 552.5L77.8 555.3Z"/>
<path d="M75.8 551.6L78.2 548.8L80.7 551.6L78.2 554.4Z"/>
<path d="M76.3 550.7L78.7 547.9L81.1 550.7L78.7 553.5Z"/>
<path d="M76.7 549.9L79.2 547.1L81.6 549.9L79.2 552.7Z"/>
<path d="M77.2 549.0L79.6 546.2L82.0 549.0L79.6 551.8Z"/>
<path d="M77.6 548.1L80.1 545.3L82.5 548.1L80.1 550.9Z"/>
<path d="M78.1 547.2L80.5 544.4L82.9 547.2L80.5 550.0Z"/>
<path d="M78.5 546.3L80.9 543.5L83.4 546.3L80.9 549.1Z"/>
<path d="M79.0 545.4L81.4 542.6L83.8 545.4L81.4 548.2Z"/>
<path d="M79.4 544.5L81.8 541.7L84.2 544.5L81.8 547.3Z"/>
<path d="M79.8 543.6L82.2 540.8L84.6 543.6L82.2 546.4Z"/>
<path d="M80.2 542.7L82.6 539.9L85.1 542.7L82.6 545.5Z"/>
<path d="M80.6 541.7L83.1 538.9L85.5 541.7L83.1 544.5Z"/>
<path d="M81.1 540.8L83.5 538.0L85.9 540.8L83.5 543.6Z"/>
<path d="M81.5 539.9L83.9 537.1L86.3 539.9L83.9 542.7Z"/>
<path d="M81.9 539.0L84.3 536.2L86.7 539.0L84.3 541.8Z"/>
<path d="M82.3 538.1L84.7 535.3L87.1 538.1L84.7 540.9Z"/>
<path d="M82.7 537.2L85.1 534.4L87.5 537.2L85.1 540.0Z"/>
<path d="M83.1 536.3L85.5 533.5L87.9 536.3L85.5 539.1Z"/>
<path d="M83.4 535.3L85.9 532.5L88.3 535.3L85.9 538.1Z"/>
<path d="M83.8 534.4L86.2 531.6L88.7 534.4L86.2 537.2Z"/>
<path d="M84.2 533.5L86.6 530.7L89.0 533.5L86.6 536.3Z"/>
<path d="M84.6 532.6L87.0 529.8L89.4 532.6L87.0 535.4Z"/>
<path d="M85.0 531.6L87.4 528.8L89.8 531.6L87.4 534.4Z"/>
<path d="M85.3 530.7L87.7 527.9L90.2 530.7L87.7 533.5Z"/>
<path d="M85.7 529.8L88.1 527.0L90.5 529.8L88.1 532.6Z"/>
<path d="M86.1 528.8L88.5 526.0L90.9 528.8L88.5 531.6Z"/>
<path d="M86.4 527.9L88.8 525.1L91.2 527.9L88.8 530.7Z"/>
<path d="M86.8 527.0L89.2 524.2L91.6 527.0L89.2 529.8Z"/>
<path d="M87.1 526.0L89.5 523.2L91.9 526.0L89.5 528.8Z"/>
<path d="M87.5 525.1L89.9 522.3L92.3 525.1L89.9 527.9Z"/>
<path d="M87.8 524.2L90.2 521.4L92.6 524.2L90.2 527.0Z"/>
<path d="M88.2 523.2L90.6 520.4L93.0 523.2L90.6 526.0Z"/>
<path d="M88.5 522.3L90.9 519.5L93.3 522.3L90.9 525.1Z"/>
<path d="M88.8 521.3L91.2 518.5L93.6 521.3L91.2 524.1Z"/>
<path d="M89.2 520.4L91.6 517.6L94.0 520.4L91.6 523.2Z"/>
<path d="M89.5 519.4L91.9 516.6L94.3 519.4L91.9 522.2Z"/>
<path d="M89.8 518.5L92.2 515.7L94.6 518.5L92.2 521.3Z"/>
<path d="M90.1 517.5L92.5 514.7L94.9 517.5L92.5 520.3Z"/>
<path d="M90.5 516.6L92.9 513.8L95.3 516.6L92.9 519.4Z"/>
<path d="M90.8 515.7L93.2 512.9L95.6 515.7L93.2 518.5Z"/>
<path d="M91.1 514.7L93.5 511.9L95.9 514.7L93.5 517.5Z"/>
<path d="M91.4 513.8L93.8 511.0L96.2 513.8L93.8 516.6Z"/>
<path d="M91.7 512.8L94.1 510.0L96.5 512.8L94.1 515.6Z"/>
<path d="M92.0 511.8L94.4 509.0L96.8 511.8L94.4 514.6Z"/>
<path d="M92.3 510.9L94.7 508.1L97.1 510.9L94.7 513.7Z"/>
<path d="M92.6 509.9L95.0 507.1L97.4 509.9L95.0 512.7Z"/>
<path d="M92.9 509.0L95.3 506.2L97.7 509.0L95.3 511.8Z"/>
<path d="M93.2 508.0L95.6 505.2L98.0 508.0L95.6 510.8Z"/>
<path d="M93.5 507.1L95.9 504.3L98.3 507.1L95.9 509.9Z"/>
<path d="M93.8 506.1L96.2 503.3L98.6 506.1L96.2 508.9Z"/>
<path d="M94.1 505.2L96.5 502.4L98.9 505.2L96.5 508.0Z"/>
<path d="M94.4 504.2L96.8 501.4L99.2 504.2L96.8 507.0Z"/>
<path d="M94.7 503.3L97.1 500.5L99.5 503.3L97.1 506.1Z"/>
<path d="M95.0 502.3L97.4 499.5L99.8 502.3L97.4 505.1Z"/>
<path d="M95.3 501.3L97.7 498.5L100.1 501.3L97.7 504.1Z"/>
<path d="M95.6 500.4L98.0 497.6L100.4 500.4L98.0 503.2Z"/>
<path d="M95.9 499.4L98.3 496.6L100.7 499.4L98.3 502.2Z"/>
<path d="M96.2 498.5L98.6 495.7L101.0 498.5L98.6 501.3Z"/>
<path d="M96.5 497.5L98.9 494.7L101.3 497.5L98.9 500.3Z"/>
<path d="M96.7 496.6L99.1 493.8L101.5 496.6L99.1 499.4Z"/>
<path d="M97.0 495.6L99.4 492.8L101.8 495.6L99.4 498.4Z"/>
<path d="M97.3 494.6L99.7 491.8L102.1 494.6L99.7 497.4Z"/>
<path d="M97.6 493.7L100.0 490.9L102.4 493.7L100.0 496.5Z"/>
<path d="M97.9 492.7L100.3 489.9L102.7 492.7L100.3 495.5Z"/>
<path d="M98.2 491.8L100.6 489.0L103.0 491.8L100.6 494.6Z"/>
<path d="M98.5 490.8L100.9 488.0L103.3 490.8L100.9 493.6Z"/>
<path d="M98.7 489.9L101.1 487.0L103.6 489.9L101.1 492.7Z"/>
<path d="M99.0 488.9L101.4 486.1L103.8 488.9L101.4 491.7Z"/>
<path d="M99.3 487.9L101.7 485.1L104.1 487.9L101.7 490.8Z"/>
<path d="M99.6 487.0L102.0 484.1L104.4 487.0L102.0 489.8Z"/>
<path d="M99.9 486.0L102.3 483.2L104.7 486.0L102.3 488.9Z"/>
<path d="M100.1 485.1L102.6 482.2L105.0 485.1L102.6 487.9Z"/>
<path d="M100.4 484.1L102.9 481.2L105.3 484.1L102.9 487.0Z"/>
<path d="M100.7 483.1L103.1 480.3L105.6 483.1L103.1 486.0Z"/>
<path d="M101.0 482.2L103.4 479.3L105.9 482.2L103.4 485.1Z"/>
<path d="M101.3 481.2L103.7 478.3L106.1 481.2L103.7 484.1Z"/>
<path d="M101.5 480.3L104.0 477.4L106.4 480.3L104.0 483.2Z"/>
<path d="M101.8 479.3L104.3 476.4L106.7 479.3L104.3 482.2Z"/>
<path d="M102.1 478.3L104.6 475.4L107.0 478.3L104.6 481.3Z"/>
<path d="M102.4 477.4L104.8 474.5L107.3 477.4L104.8 480.3Z"/>
<path d="M102.7 476.4L105.1 473.5L107.6 476.4L105.1 479.4Z"/>
<path d="M102.9 475.5L105.4 472.5L107.8 475.5L105.4 478.4Z"/>
<path d="M103.2 474.5L105.7 471.6L108.1 474.5L105.7 477.4Z"/>
<path d="M103.5 473.5L105.9 470.6L108.4 473.5L105.9 476.5Z"/>
<path d="M103.8 472.6L106.2 469.6L108.7 472.6L106.2 475.5Z"/>
<path d="M104.0 471.6L106.5 468.7L109.0 471.6L106.5 474.6Z"/>
<path d="M104.3 470.7L106.8 467.7L109.2 470.7L106.8 473.6Z"/>
<path d="M104.6 469.7L107.1 466.7L109.5 469.7L107.1 472.7Z"/>
<path d="M104.9 468.7L107.3 465.8L109.8 468.7L107.3 471.7Z"/>
<path d="M105.1 467.8L107.6 464.8L110.1 467.8L107.6 470.8Z"/>
<path d="M105.4 466.8L107.9 463.8L110.4 466.8L107.9 469.8Z"/>
<path d="M105.7 465.9L108.2 462.9L110.7 465.9L108.2 468.9Z"/>
<path d="M106.0 464.9L108.5 461.9L110.9 464.9L108.5 467.9Z"/>
<path d="M106.2 463.9L108.7 460.9L111.2 463.9L108.7 467.0Z"/>
<path d="M106.5 463.0L109.0 460.0L111.5 463.0L109.0 466.0Z"/>
<path d="M106.8 462.0L109.3 459.0L111.8 462.0L109.3 465.0Z"/>
<path d="M107.1 461.1L109.6 458.0L112.1 461.1L109.6 464.1Z"/>
<path d="M107.4 460.1L109.9 457.1L112.4 460.1L109.9 463.1Z"/>
<path d="M107.7 459.2L110.2 456.1L112.7 459.2L110.2 462.2Z"/>
<path d="M107.9 458.2L110.4 455.1L112.9 458.2L110.4 461.2Z"/>
<path d="M108.2 457.2L110.7 454.2L113.2 457.2L110.7 460.3Z"/>
<path d="M108.5 456.3L111.0 453.2L113.5 456.3L111.0 459.3Z"/>
<path d="M108.8 455.3L111.3 452.2L113.8 455.3L111.3 458.4Z"/>
<path d="M109.1 454.3L111.6 451.2L114.1 454.3L111.6 457.4Z"/>
<path d="M109.4 453.3L111.9 450.2L114.4 453.3L111.9 456.4Z"/>
<path d="M109.6 452.3L112.2 449.2L114.7 452.3L112.2 455.4Z"/>
<path d="M109.9 451.3L112.5 448.2L115.0 451.3L112.5 454.4Z"/>
<path d="M110.2 450.3L112.7 447.2L115.3 450.3L112.7 453.5Z"/>
<path d="M110.5 449.3L113.0 446.2L115.6 449.3L113.0 452.5Z"/>
<path d="M110.8 448.3L113.3 445.2L115.9 448.3L113.3 451.5Z"/>
<path d="M111.1 447.3L113.6 444.2L116.2 447.3L113.6 450.5Z"/>
<path d="M111.4 446.3L114.0 443.2L116.5 446.3L114.0 449.5Z"/>
<path d="M111.7 445.3L114.3 442.2L116.8 445.3L114.3 448.5Z"/>
<path d="M112.1 444.3L114.6 441.2L117.1 444.3L114.6 447.5Z"/>
<path d="M112.4 443.3L114.9 440.1L117.5 443.3L114.9 446.5Z"/>
<path d="M112.7 442.3L115.3 439.1L117.8 442.3L115.3 445.4Z"/>
<path d="M113.1 441.3L115.6 438.1L118.2 441.3L115.6 444.4Z"/>
<path d="M113.4 440.2L116.0 437.1L118.6 440.2L116.0 443.4Z"/>
<path d="M113.8 439.2L116.4 436.0L118.9 439.2L116.4 442.4Z"/>
<path d="M114.2 438.2L116.8 435.0L119.3 438.2L116.8 441.4Z"/>
<path d="M114.6 437.2L117.2 434.0L119.7 437.2L117.2 440.4Z"/>
<path d="M115.0 436.1L117.6 432.9L120.2 436.1L117.6 439.4Z"/>
<path d="M115.4 435.1L118.0 431.9L120.6 435.1L118.0 438.3Z"/>
<path d="M115.9 434.1L118.5 430.8L121.0 434.1L118.5 437.3Z"/>
<path d="M116.3 433.0L118.9 429.8L121.5 433.0L118.9 436.3Z"/>
<path d="M116.8 432.0L119.4 428.7L122.0 432.0L119.4 435.3Z"/>
<path d="M117.2 431.0L119.8 427.7L122.4 431.0L119.8 434.2Z"/>
<path d="M117.7 429.9L120.3 426.6L122.9 429.9L120.3 433.2Z"/>
<path d="M118.2 428.9L120.8 425.6L123.4 428.9L120.8 432.2Z"/>
<path d="M118.7 427.8L121.3 424.5L123.9 427.8L121.3 431.1Z"/>
<path d="M119.1 426.8L121.8 423.4L124.4 426.8L121.8 430.1Z"/>
<path d="M119.6 425.7L122.3 422.4L124.9 425.7L122.3 429.0Z"/>
<path d="M120.1 424.6L122.8 421.3L125.4 424.6L122.8 428.0Z"/>
<path d="M120.6 423.5L123.3 420.2L125.9 423.5L123.3 426.9Z"/>
<path d="M121.1 422.5L123.8 419.1L126.4 422.5L123.8 425.8Z"/>
<path d="M121.7 421.4L124.3 418.0L126.9 421.4L124.3 424.8Z"/>
<path d="M122.2 420.3L124.8 416.9L127.5 420.3L124.8 423.7Z"/>
<path d="M122.7 419.2L125.4 415.8L128.0 419.2L125.4 422.6Z"/>
<path d="M123.3 418.1L125.9 414.7L128.6 418.1L125.9 421.5Z"/>
<path d="M123.8 417.0L126.5 413.5L129.1 417.0L126.5 420.4Z"/>
<path d="M124.4 415.9L127.0 412.4L129.7 415.9L127.0 419.3Z"/>
<path d="M124.9 414.7L127.6 411.3L130.3 414.7L127.6 418.2Z"/>
<path d="M125.5 413.6L128.2 410.1L130.8 413.6L128.2 417.1Z"/>
<path d="M126.1 412.5L128.7 409.0L131.4 412.5L128.7 416.0Z"/>
<path d="M126.6 411.3L129.3 407.8L132.0 411.3L129.3 414.8Z"/>
<path d="M127.2 410.2L129.9 406.7L132.6 410.2L129.9 413.7Z"/>
<path d="M127.8 409.0L130.5 405.5L133.2 409.0L130.5 412.6Z"/>
<path d="M128.4 407.9L131.1 404.3L133.8 407.9L131.1 411.4Z"/>
<path d="M129.0 406.7L131.7 403.1L134.4 406.7L131.7 410.3Z"/>
<path d="M129.6 405.5L132.3 401.9L135.0 405.5L132.3 409.1Z"/>
<path d="M130.2 404.3L132.9 400.7L135.7 404.3L132.9 407.9Z"/>
<path d="M130.8 403.1L133.6 399.5L136.3 403.1L133.6 406.7Z"/>
<path d="M131.4 401.9L134.2 398.3L136.9 401.9L134.2 405.6Z"/>
<path d="M132.1 400.7L134.8 397.1L137.6 400.7L134.8 404.4Z"/>
<path d="M132.7 399.5L135.5 395.9L138.2 399.5L135.5 403.2Z"/>
<path d="M133.4 398.3L136.1 394.6L138.9 398.3L136.1 402.0Z"/>
<path d="M134.0 397.1L136.8 393.4L139.5 397.1L136.8 400.8Z"/>
<path d="M134.7 395.9L137.4 392.2L140.2 395.9L137.4 399.6Z"/>
<path d="M135.3 394.6L138.1 390.9L140.9 394.6L138.1 398.3Z"/>
<path d="M136.0 393.4L138.8 389.6L141.6 393.4L138.8 397.1Z"/>
<path d="M136.7 392.1L139.5 388.4L142.3 392.1L139.5 395.9Z"/>
<path d="M137.4 390.9L140.2 387.1L143.0 390.9L140.2 394.6Z"/>
<path d="M138.1 389.6L140.9 385.8L143.7 389.6L140.9 393.4Z"/>
<path d="M138.8 388.3L141.7 384.5L144.5 388.3L141.7 392.1Z"/>
<path d="M139.6 387.0L142.4 383.2L145.2 387.0L142.4 390.9Z"/>
<path d="M140.3 385.8L143.1 381.9L146.0 385.8L143.1 389.6Z"/>
<path d="M141.0 384.5L143.9 380.6L146.7 384.5L143.9 388.3Z"/>
<path d="M141.8 383.2L144.6 379.3L147.5 383.2L144.6 387.0Z"/>
<path d="M142.6 381.9L145.4 378.0L148.3 381.9L145.4 385.7Z"/>
<path d="M143.3 380.5L146.2 376.6L149.1 380.5L146.2 384.4Z"/>
<path d="M144.1 379.2L147.0 375.3L149.9 379.2L147.0 383.1Z"/>
<path d="M144.9 377.9L147.8 373.9L150.7 377.9L147.8 381.8Z"/>
<path d="M145.7 376.6L148.6 372.6L151.5 376.6L148.6 380.5Z"/>
<path d="M146.6 375.2L149.5 371.2L152.3 375.2L149.5 379.2Z"/>
<path d="M147.4 373.9L150.3 369.9L153.2 373.9L150.3 377.9Z"/>
<path d="M148.2 372.5L151.1 368.5L154.0 372.5L151.1 376.5Z"/>
<path d="M149.1 371.1L152.0 367.1L154.9 371.1L152.0 375.2Z"/>
<path d="M150.0 369.8L152.9 365.8L155.8 369.8L152.9 373.8Z"/>
<path d="M150.8 368.5L153.7 364.4L156.6 368.5L153.7 372.5Z"/>
<path d="M151.7 367.1L154.6 363.1L157.5 367.1L154.6 371.1Z"/>
<path d="M152.6 365.8L155.5 361.8L158.4 365.8L155.5 369.8Z"/>
<path d="M153.5 364.5L156.4 360.4L159.3 364.5L156.4 368.5Z"/>
<path d="M154.4 363.1L157.3 359.1L160.2 363.1L157.3 367.2Z"/>
<path d="M155.3 361.8L158.2 357.8L161.1 361.8L158.2 365.8Z"/>
<path d="M156.2 360.5L159.1 356.4L162.0 360.5L159.1 364.5Z"/>
<path d="M157.1 359.2L160.0 355.1L162.9 359.2L160.0 363.2Z"/>
<path d="M158.0 357.9L160.9 353.8L163.8 357.9L160.9 361.9Z"/>
<path d="M159.0 356.6L161.9 352.5L164.8 356.6L161.9 360.6Z"/>
<path d="M159.9 355.3L162.8 351.2L165.7 355.3L162.8 359.3Z"/>
<path d="M160.8 354.0L163.7 349.9L166.6 354.0L163.7 358.0Z"/>
<path d="M161.8 352.7L164.7 348.6L167.6 352.7L164.7 356.8Z"/>
<path d="M162.7 351.4L165.6 347.3L168.5 351.4L165.6 355.5Z"/>
<path d="M163.7 350.1L166.6 346.1L169.5 350.1L166.6 354.2Z"/>
<path d="M164.7 348.9L167.6 344.8L170.5 348.9L167.6 353.0Z"/>
<path d="M165.7 347.6L168.6 343.5L171.5 347.6L168.6 351.7Z"/>
<path d="M166.6 346.3L169.5 342.2L172.4 346.3L169.5 350.4Z"/>
<path d="M167.6 345.1L170.5 341.0L173.4 345.1L170.5 349.2Z"/>
<path d="M168.6 343.8L171.5 339.7L174.4 343.8L171.5 347.9Z"/>
<path d="M169.7 342.6L172.6 338.5L175.5 342.6L172.6 346.7Z"/>
<path d="M170.7 341.4L173.6 337.3L176.5 341.4L173.6 345.5Z"/>
<path d="M171.7 340.1L174.6 336.0L177.5 340.1L174.6 344.3Z"/>
<path d="M172.8 338.9L175.7 334.8L178.6 338.9L175.7 343.1Z"/>
<path d="M173.8 337.7L176.7 333.6L179.6 337.7L176.7 341.9Z"/>
<path d="M174.9 336.5L177.8 332.4L180.7 336.5L177.8 340.7Z"/>
<path d="M175.9 335.3L178.8 331.2L181.7 335.3L178.8 339.5Z"/>
<path d="M177.0 334.1L179.9 330.0L182.8 334.1L179.9 338.3Z"/>
<path d="M178.1 333.0L181.0 328.8L183.9 333.0L181.0 337.1Z"/>
<path d="M179.2 331.8L182.1 327.6L185.0 331.8L182.1 336.0Z"/>
<path d="M180.3 330.6L183.2 326.5L186.1 330.6L183.2 334.8Z"/>
<path d="M181.4 329.5L184.3 325.3L187.2 329.5L184.3 333.6Z"/>
<path d="M182.5 328.3L185.4 324.2L188.3 328.3L185.4 332.5Z"/>
<path d="M183.6 327.2L186.5 323.0L189.4 327.2L186.5 331.4Z"/>
<path d="M184.7 326.1L187.6 321.9L190.5 326.1L187.6 330.2Z"/>
<path d="M185.9 324.9L188.8 320.7L191.7 324.9L188.8 329.1Z"/>
<path d="M187.0 323.8L189.9 319.6L192.8 323.8L189.9 328.0Z"/>
<path d="M188.2 322.7L191.1 318.5L194.0 322.7L191.1 326.9Z"/>
<path d="M189.3 321.6L192.2 317.4L195.1 321.6L192.2 325.8Z"/>
<path d="M190.5 320.5L193.4 316.3L196.3 320.5L193.4 324.7Z"/>
<path d="M191.6 319.4L194.5 315.2L197.4 319.4L194.5 323.6Z"/>
<path d="M192.8 318.3L195.7 314.1L198.6 318.3L195.7 322.5Z"/>
<path d="M194.0 317.2L196.9 313.0L199.8 317.2L196.9 321.4Z"/>
<path d="M195.2 316.1L198.1 311.9L201.0 316.1L198.1 320.4Z"/>
<path d="M196.3 315.0L199.2 310.8L202.1 315.0L199.2 319.3Z"/>
<path d="M197.5 314.0L200.4 309.7L203.3 314.0L200.4 318.2Z"/>
<path d="M198.7 312.9L201.6 308.6L204.5 312.9L201.6 317.1Z"/>
<path d="M199.9 311.8L202.8 307.5L205.7 311.8L202.8 316.1Z"/>
<path d="M201.1 310.7L204.0 306.5L206.9 310.7L204.0 315.0Z"/>
<path d="M202.3 309.6L205.2 305.4L208.1 309.6L205.2 313.9Z"/>
<path d="M203.4 308.6L206.3 304.3L209.2 308.6L206.3 312.9Z"/>
<path d="M204.6 307.5L207.5 303.2L210.4 307.5L207.5 311.8Z"/>
<path d="M205.8 306.4L208.7 302.1L211.6 306.4L208.7 310.7Z"/>
<path d="M207.0 305.4L209.9 301.1L212.8 305.4L209.9 309.7Z"/>
<path d="M208.2 304.3L211.1 300.0L214.0 304.3L211.1 308.6Z"/>
<path d="M209.4 303.2L212.3 298.9L215.2 303.2L212.3 307.5Z"/>
<path d="M210.6 302.1L213.5 297.8L216.4 302.1L213.5 306.4Z"/>
<path d="M211.7 301.0L214.6 296.7L217.5 301.0L214.6 305.4Z"/>
<path d="M212.9 300.0L215.8 295.6L218.7 300.0L215.8 304.3Z"/>
<path d="M214.1 298.9L217.0 294.5L219.9 298.9L217.0 303.2Z"/>
<path d="M215.2 297.8L218.1 293.4L221.0 297.8L218.1 302.1Z"/>
<path d="M216.4 296.7L219.3 292.3L222.2 296.7L219.3 301.0Z"/>
<path d="M217.6 295.6L220.5 291.2L223.4 295.6L220.5 299.9Z"/>
<path d="M218.7 294.5L221.6 290.1L224.5 294.5L221.6 298.8Z"/>
<path d="M219.9 293.4L222.8 289.0L225.7 293.4L222.8 297.7Z"/>
<path d="M221.1 292.3L224.0 287.9L226.9 292.3L224.0 296.6Z"/>
<path d="M222.2 291.2L225.1 286.8L228.0 291.2L225.1 295.5Z"/>
<path d="M223.4 290.1L226.3 285.7L229.2 290.1L226.3 294.4Z"/>
<path d="M224.5 289.0L227.4 284.6L230.3 289.0L227.4 293.3Z"/>
<path d="M225.7 287.8L228.6 283.5L231.5 287.8L228.6 292.2Z"/>
<path d="M226.8 286.7L229.7 282.3L232.6 286.7L229.7 291.1Z"/>
<path d="M228.0 285.6L230.9 281.2L233.8 285.6L230.9 290.0Z"/>
<path d="M229.1 284.5L232.0 280.1L234.9 284.5L232.0 288.9Z"/>
<path d="M230.3 283.4L233.2 279.0L236.1 283.4L233.2 287.8Z"/>
<path d="M231.4 282.3L234.3 277.9L237.2 282.3L234.3 286.7Z"/>
<path d="M232.6 281.2L235.5 276.8L238.4 281.2L235.5 285.6Z"/>
<path d="M233.7 280.1L236.6 275.7L239.5 280.1L236.6 284.5Z"/>
<path d="M234.9 279.0L237.8 274.6L240.7 279.0L237.8 283.4Z"/>
<path d="M236.0 277.9L238.9 273.5L241.8 277.9L238.9 282.3Z"/>
<path d="M237.2 276.7L240.1 272.3L243.0 276.7L240.1 281.1Z"/>
<path d="M238.4 275.6L241.3 271.2L244.2 275.6L241.3 280.0Z"/>
<path d="M239.5 274.5L242.4 270.1L245.3 274.5L242.4 278.9Z"/>
<path d="M240.7 273.4L243.6 269.0L246.5 273.4L243.6 277.8Z"/>
<path d="M241.8 272.3L244.7 267.9L247.6 272.3L244.7 276.7Z"/>
<path d="M243.0 271.2L245.9 266.8L248.8 271.2L245.9 275.6Z"/>
<path d="M244.2 270.1L247.1 265.7L250.0 270.1L247.1 274.5Z"/>
<path d="M245.3 269.1L248.2 264.7L251.1 269.1L248.2 273.5Z"/>
<path d="M246.5 268.0L249.4 263.6L252.3 268.0L249.4 272.4Z"/>
<path d="M247.7 266.9L250.6 262.5L253.5 266.9L250.6 271.3Z"/>
<path d="M248.9 265.8L251.8 261.4L254.7 265.8L251.8 270.2Z"/>
<path d="M250.0 264.7L252.9 260.3L255.8 264.7L252.9 269.1Z"/>
<path d="M251.2 263.6L254.1 259.2L257.0 263.6L254.1 268.0Z"/>
<path d="M252.4 262.6L255.3 258.2L258.2 262.6L255.3 267.0Z"/>
<path d="M253.6 261.5L256.5 257.1L259.4 261.5L256.5 265.9Z"/>
<path d="M254.8 260.5L257.7 256.1L260.6 260.5L257.7 264.9Z"/>
<path d="M256.0 259.4L258.9 255.0L261.8 259.4L258.9 263.8Z"/>
<path d="M257.2 258.4L260.1 254.0L263.0 258.4L260.1 262.8Z"/>
<path d="M258.5 257.3L261.4 252.9L264.3 257.3L261.4 261.7Z"/>
<path d="M259.7 256.3L262.6 251.9L265.5 256.3L262.6 260.7Z"/>
<path d="M260.9 255.3L263.8 250.9L266.7 255.3L263.8 259.7Z"/>
<path d="M262.1 254.2L265.0 249.8L267.9 254.2L265.0 258.6Z"/>
<path d="M263.4 253.2L266.3 248.8L269.2 253.2L266.3 257.6Z"/>
<path d="M264.6 252.2L267.5 247.8L270.4 252.2L267.5 256.6Z"/>
<path d="M265.9 251.3L268.8 246.9L271.7 251.3L268.8 255.7Z"/>
<path d="M267.2 250.3L270.1 245.9L273.0 250.3L270.1 254.7Z"/>
<path d="M268.4 249.3L271.3 244.9L274.2 249.3L271.3 253.7Z"/>
<path d="M269.7 248.3L272.6 243.9L275.5 248.3L272.6 252.7Z"/>
<path d="M271.0 247.4L273.9 243.0L276.8 247.4L273.9 251.8Z"/>
<path d="M272.3 246.4L275.2 242.0L278.1 246.4L275.2 250.8Z"/>
<path d="M273.6 245.5L276.5 241.1L279.4 245.5L276.5 249.9Z"/>
<path d="M274.9 244.6L277.8 240.2L280.7 244.6L277.8 249.0Z"/>
<path d="M276.2 243.7L279.1 239.3L282.0 243.7L279.1 248.1Z"/>
<path d="M277.6 242.8L280.5 238.4L283.4 242.8L280.5 247.2Z"/>
<path d="M278.9 242.0L281.8 237.6L284.7 242.0L281.8 246.4Z"/>
<path d="M280.3 241.1L283.2 236.7L286.1 241.1L283.2 245.5Z"/>
<path d="M281.7 240.3L284.6 235.9L287.5 240.3L284.6 244.7Z"/>
<path d="M283.0 239.5L285.9 235.1L288.8 239.5L285.9 243.9Z"/>
<path d="M284.4 238.7L287.3 234.3L290.2 238.7L287.3 243.1Z"/>
<path d="M285.8 238.0L288.7 233.6L291.6 238.0L288.7 242.4Z"/>
<path d="M287.1 237.3L290.0 232.9L292.9 237.3L290.0 241.7Z"/>
</g></g>
<g stroke="#ff0080" fill="none">
<path d="M49.5 588.2L51.5 584.6L53.5 581.4L55.5 578.6L57.5 576.1L59.5 573.6L61.5 571.2L63.5 568.8L65.5 566.3L67.5 563.3L69.6 560.1L71.6 556.2L73.6 551.5" stroke-width="2.20" stroke-opacity="0.50" stroke-linejoin="round"/>
<path d="M73.6 551.5L75.6 545.7L77.6 538.9" stroke-width="2.34" stroke-opacity="0.50" stroke-linejoin="round"/>
<path d="M77.6 538.9L79.6 531.0L81.6 522.8" stroke-width="2.50" stroke-opacity="0.50" stroke-linejoin="round"/>
<path d="M81.6 522.8L83.6 514.9L85.6 507.1L87.6 499.5L89.6 492.2L91.6 484.9" stroke-width="2.66" stroke-opacity="0.50" stroke-linejoin="round"/>
<path d="M91.6 484.9L93.6 477.6L95.6 470.2" stroke-width="2.54" stroke-opacity="0.50" stroke-linejoin="round"/>
<path d="M95.6 470.2L97.6 463.0L99.6 456.0" stroke-width="2.37" stroke-opacity="0.50" stroke-linejoin="round"/>
<path d="M99.6 456.0L101.6 449.1L103.6 442.7L105.7 436.7L107.7 431.0L109.7 425.7L111.7 420.8" stroke-width="2.21" stroke-opacity="0.50" stroke-linejoin="round"/>
<path d="M111.7 420.8L113.7 416.1L115.7 411.7L117.7 407.6" stroke-width="2.36" stroke-opacity="0.50" stroke-linejoin="round"/>
<path d="M117.7 407.6L119.7 403.6L121.7 399.9" stroke-width="2.53" stroke-opacity="0.53" stroke-linejoin="round"/>
<path d="M121.7 399.9L123.7 396.3L125.7 392.8" stroke-width="2.73" stroke-opacity="0.58" stroke-linejoin="round"/>
<path d="M125.7 392.8L127.7 389.4L129.7 386.1" stroke-width="2.94" stroke-opacity="0.63" stroke-linejoin="round"/>
<path d="M129.7 386.1L131.7 383.0L133.7 379.9" stroke-width="3.14" stroke-opacity="0.68" stroke-linejoin="round"/>
<path d="M133.7 379.9L135.7 376.9L137.7 374.0L139.7 371.2L141.8 368.4L143.8 365.8L145.8 363.2L147.8 360.7L149.8 358.2L151.8 355.8L153.8 353.5L155.8 351.2L157.8 349.0L159.8 346.9L161.8 344.7L163.8 342.7L165.8 340.6L167.8 338.6L169.8 336.7L171.8 334.7L173.8 332.8L175.8 330.9L177.9 329.0L179.9 327.2L181.9 325.4L183.9 323.5L185.9 321.7L187.9 319.9L189.9 318.1L191.9 316.3L193.9 314.5L195.9 312.7L197.9 310.9L199.9 309.1L201.9 307.3L203.9 305.6L205.9 303.8L207.9 302.0L209.9 300.3L211.9 298.5L214.0 296.7L216.0 295.0L218.0 293.2L220.0 291.5L222.0 289.7L224.0 288.0L226.0 286.2L228.0 284.4L230.0 282.7L232.0 280.9L234.0 279.2L236.0 277.4L238.0 275.6L240.0 273.9L242.0 272.1L244.0 270.3L246.0 268.5L248.0 266.8" stroke-width="3.34" stroke-opacity="0.73" stroke-linejoin="round"/>
<path d="M49.5 588.2L50.7 585.9L52.1 583.7L53.5 581.5L55.0 579.3L56.6 577.3L58.2 575.3L59.8 573.3L61.5 571.2L63.2 569.3L64.8 567.2L66.3 565.1L67.8 563.0L69.1 560.8L70.4 558.5L71.6 556.2L72.7 553.8L73.6 551.4L74.5 548.9L75.3 546.5L76.1 544.0L76.9 541.5L77.6 539.0L78.2 536.5L78.8 534.0L79.5 531.4L80.1 528.9L80.7 526.4L81.3 523.9L82.0 521.3L82.6 518.8L83.2 516.3L83.9 513.8L84.5 511.3L85.2 508.8L85.8 506.2L86.5 503.7L87.2 501.2L87.8 498.7L88.5 496.2L89.2 493.7L89.9 491.2L90.6 488.7L91.3 486.2L92.0 483.7L92.6 481.1L93.3 478.6L94.0 476.1L94.7 473.6L95.4 471.1L96.1 468.6L96.8 466.1L97.5 463.6L98.2 461.1L98.9 458.6L99.6 456.1L100.3 453.6L101.0 451.1L101.8 448.6L102.6 446.1L103.3 443.6L104.2 441.2L105.0 438.7L105.8 436.2L106.7 433.8L107.5 431.3L108.4 428.9L109.4 426.5L110.3 424.1L111.3 421.6L112.3 419.2L113.3 416.9L114.4 414.5L115.5 412.1L116.6 409.8L117.7 407.4L118.9 405.1L120.1 402.8L121.4 400.5L122.6 398.2L123.9 396.0L125.2 393.7L126.5 391.5L127.8 389.2L129.2 387.0L130.5 384.8L132.0 382.6L133.5 380.3L135.1 377.9L136.8 375.4L138.5 372.9L140.4 370.2L142.4 367.5L144.5 364.7L146.8 361.9L149.2 358.9L151.8 355.9L154.4 352.8L157.0 349.8L159.8 346.9L162.5 344.0L165.3 341.1L168.1 338.3L171.0 335.5L173.9 332.8L176.8 330.0L179.7 327.3L182.7 324.6L185.6 321.9L188.6 319.2L191.6 316.6L193.1 315.2L196.1 312.6L199.0 309.9L202.0 307.2L205.0 304.6L208.0 301.9L211.0 299.3L214.0 296.7L217.1 294.0L220.1 291.4L221.6 290.1L224.6 287.4L227.6 284.8L230.6 282.2L233.6 279.5L236.6 276.9L239.6 274.2L242.6 271.6L245.6 268.9L248.6 266.3L250.0 265.0" stroke-width="0.70" stroke-linejoin="round"/>
<g fill="#fff" fill-opacity="0.5" stroke-width="0.60">
<path d="M47.9 589.8L49.5 586.2L51.1 589.8Z"/>
<path d="M48.5 588.6L50.1 585.0L51.7 588.6Z"/>
<path d="M49.1 587.5L50.7 583.9L52.3 587.5Z"/>
<path d="M49.8 586.4L51.4 582.8L53.0 586.4Z"/>
<path d="M50.5 585.3L52.1 581.7L53.7 585.3Z"/>
<path d="M51.2 584.2L52.8 580.6L54.4 584.2Z"/>
<path d="M51.9 583.1L53.5 579.5L55.1 583.1Z"/>
<path d="M52.6 582.0L54.2 578.4L55.8 582.0Z"/>
<path d="M53.4 580.9L55.0 577.3L56.6 580.9Z"/>
<path d="M54.2 579.9L55.8 576.3L57.4 579.9Z"/>
<path d="M55.0 578.9L56.6 575.3L58.2 578.9Z"/>
<path d="M55.8 577.9L57.4 574.3L59.0 577.9Z"/>
<path d="M56.6 576.9L58.2 573.3L59.8 576.9Z"/>
<path d="M57.4 575.9L59.0 572.3L60.6 575.9Z"/>
<path d="M58.2 574.9L59.8 571.3L61.4 574.9Z"/>
<path d="M59.1 573.8L60.7 570.2L62.3 573.8Z"/>
<path d="M59.9 572.8L61.5 569.2L63.1 572.8Z"/>
<path d="M60.7 571.9L62.3 568.3L63.9 571.9Z"/>
<path d="M61.6 570.9L63.2 567.3L64.8 570.9Z"/>
<path d="M62.4 569.9L64.0 566.3L65.6 569.9Z"/>
<path d="M63.2 568.8L64.8 565.2L66.4 568.8Z"/>
<path d="M64.0 567.8L65.6 564.2L67.2 567.8Z"/>
<path d="M64.7 566.7L66.3 563.1L67.9 566.7Z"/>
<path d="M65.5 565.7L67.1 562.1L68.7 565.7Z"/>
<path d="M66.2 564.6L67.8 561.0L69.4 564.6Z"/>
<path d="M66.9 563.5L68.5 559.9L70.1 563.5Z"/>
<path d="M67.5 562.4L69.1 558.8L70.7 562.4Z"/>
<path d="M68.2 561.2L69.8 557.6L71.4 561.2Z"/>
<path d="M68.8 560.1L70.4 556.5L72.0 560.1Z"/>
<path d="M69.4 558.9L71.0 555.3L72.6 558.9Z"/>
<path d="M70.0 557.8L71.6 554.2L73.2 557.8Z"/>
<path d="M70.5 556.6L72.1 553.0L73.7 556.6Z"/>
<path d="M71.1 555.4L72.7 551.8L74.3 555.4Z"/>
<path d="M71.5 554.2L73.1 550.6L74.7 554.2Z"/>
<path d="M72.0 553.0L73.6 549.4L75.2 553.0Z"/>
<path d="M72.5 551.8L74.1 548.2L75.7 551.8Z"/>
<path d="M72.9 550.5L74.5 546.9L76.1 550.5Z"/>
<path d="M73.3 549.3L74.9 545.7L76.5 549.3Z"/>
<path d="M73.7 548.1L75.3 544.5L76.9 548.1Z"/>
<path d="M74.1 546.8L75.7 543.2L77.3 546.8Z"/>
<path d="M74.5 545.6L76.1 542.0L77.7 545.6Z"/>
<path d="M74.9 544.4L76.5 540.8L78.1 544.4Z"/>
<path d="M75.3 543.1L76.9 539.5L78.5 543.1Z"/>
<path d="M75.6 541.9L77.2 538.3L78.8 541.9Z"/>
<path d="M76.0 540.6L77.6 537.0L79.2 540.6Z"/>
<path d="M76.3 539.4L77.9 535.8L79.5 539.4Z"/>
<path d="M76.6 538.1L78.2 534.5L79.8 538.1Z"/>
<path d="M76.9 536.8L78.5 533.2L80.1 536.8Z"/>
<path d="M77.2 535.6L78.8 532.0L80.4 535.6Z"/>
<path d="M77.6 534.3L79.2 530.7L80.8 534.3Z"/>
<path d="M77.9 533.0L79.5 529.4L81.1 533.0Z"/>
<path d="M78.2 531.8L79.8 528.2L81.4 531.8Z"/>
<path d="M78.5 530.5L80.1 526.9L81.7 530.5Z"/>
<path d="M78.8 529.3L80.4 525.7L82.0 529.3Z"/>
<path d="M79.1 528.0L80.7 524.4L82.3 528.0Z"/>
<path d="M79.4 526.7L81.0 523.1L82.6 526.7Z"/>
<path d="M79.7 525.5L81.3 521.9L82.9 525.5Z"/>
<path d="M80.0 524.2L81.6 520.6L83.2 524.2Z"/>
<path d="M80.4 522.9L82.0 519.3L83.6 522.9Z"/>
<path d="M80.7 521.7L82.3 518.1L83.9 521.7Z"/>
<path d="M81.0 520.4L82.6 516.8L84.2 520.4Z"/>
<path d="M81.3 519.2L82.9 515.6L84.5 519.2Z"/>
<path d="M81.6 517.9L83.2 514.3L84.8 517.9Z"/>
<path d="M82.0 516.6L83.6 513.0L85.2 516.6Z"/>
<path d="M82.3 515.4L83.9 511.8L85.5 515.4Z"/>
<path d="M82.6 514.1L84.2 510.5L85.8 514.1Z"/>
<path d="M82.9 512.9L84.5 509.3L86.1 512.9Z"/>
<path d="M83.2 511.6L84.8 508.0L86.4 511.6Z"/>
<path d="M83.6 510.4L85.2 506.8L86.8 510.4Z"/>
<path d="M83.9 509.1L85.5 505.5L87.1 509.1Z"/>
<path d="M84.2 507.8L85.8 504.2L87.4 507.8Z"/>
<path d="M84.6 506.6L86.2 503.0L87.8 506.6Z"/>
<path d="M84.9 505.3L86.5 501.7L88.1 505.3Z"/>
<path d="M85.2 504.1L86.8 500.5L88.4 504.1Z"/>
<path d="M85.6 502.8L87.2 499.2L88.8 502.8Z"/>
<path d="M85.9 501.6L87.5 498.0L89.1 501.6Z"/>
<path d="M86.2 500.3L87.8 496.7L89.4 500.3Z"/>
<path d="M86.6 499.0L88.2 495.4L89.8 499.0Z"/>
<path d="M86.9 497.8L88.5 494.2L90.1 497.8Z"/>
<path d="M87.3 496.5L88.9 492.9L90.5 496.5Z"/>
<path d="M87.6 495.3L89.2 491.7L90.8 495.3Z"/>
<path d="M87.9 494.0L89.5 490.4L91.1 494.0Z"/>
<path d="M88.3 492.8L89.9 489.2L91.5 492.8Z"/>
<path d="M88.6 491.5L90.2 487.9L91.8 491.5Z"/>
<path d="M89.0 490.3L90.6 486.7L92.2 490.3Z"/>
<path d="M89.3 489.0L90.9 485.4L92.5 489.0Z"/>
<path d="M89.7 487.8L91.3 484.2L92.9 487.8Z"/>
<path d="M90.0 486.5L91.6 482.9L93.2 486.5Z"/>
<path d="M90.4 485.3L92.0 481.7L93.6 485.3Z"/>
<path d="M90.7 484.0L92.3 480.4L93.9 484.0Z"/>
<path d="M91.0 482.7L92.6 479.1L94.2 482.7Z"/>
<path d="M91.4 481.5L93.0 477.9L94.6 481.5Z"/>
<path d="M91.7 480.2L93.3 476.6L94.9 480.2Z"/>
<path d="M92.1 479.0L93.7 475.4L95.3 479.0Z"/>
<path d="M92.4 477.7L94.0 474.1L95.6 477.7Z"/>
<path d="M92.8 476.5L94.4 472.9L96.0 476.5Z"/>
<path d="M93.1 475.2L94.7 471.6L96.3 475.2Z"/>
<path d="M93.4 474.0L95.0 470.4L96.6 474.0Z"/>
<path d="M93.8 472.7L95.4 469.1L97.0 472.7Z"/>
<path d="M94.1 471.5L95.7 467.9L97.3 471.5Z"/>
<path d="M94.5 470.2L96.1 466.6L97.7 470.2Z"/>
<path d="M94.8 469.0L96.4 465.4L98.0 469.0Z"/>
<path d="M95.2 467.7L96.8 464.1L98.4 467.7Z"/>
<path d="M95.5 466.4L97.1 462.8L98.7 466.4Z"/>
<path d="M95.9 465.2L97.5 461.6L99.1 465.2Z"/>
<path d="M96.2 463.9L97.8 460.3L99.4 463.9Z"/>
<path d="M96.6 462.7L98.2 459.1L99.8 462.7Z"/>
<path d="M96.9 461.4L98.5 457.8L100.1 461.4Z"/>
<path d="M97.3 460.2L98.9 456.6L100.5 460.2Z"/>
<path d="M97.6 458.9L99.2 455.3L100.8 458.9Z"/>
<path d="M98.0 457.7L99.6 454.1L101.2 457.7Z"/>
<path d="M98.4 456.4L100.0 452.8L101.6 456.4Z"/>
<path d="M98.7 455.2L100.3 451.6L101.9 455.2Z"/>
<path d="M99.1 453.9L100.7 450.3L102.3 453.9Z"/>
<path d="M99.4 452.7L101.0 449.1L102.6 452.7Z"/>
<path d="M99.8 451.5L101.4 447.9L103.0 451.5Z"/>
<path d="M100.2 450.2L101.8 446.6L103.4 450.2Z"/>
<path d="M100.6 449.0L102.2 445.4L103.8 449.0Z"/>
<path d="M101.0 447.7L102.6 444.1L104.2 447.7Z"/>
<path d="M101.4 446.5L103.0 442.9L104.6 446.5Z"/>
<path d="M101.7 445.2L103.3 441.6L104.9 445.2Z"/>
<path d="M102.1 444.0L103.7 440.4L105.3 444.0Z"/>
<path d="M102.6 442.8L104.2 439.2L105.8 442.8Z"/>
<path d="M103.0 441.5L104.6 437.9L106.2 441.5Z"/>
<path d="M103.4 440.3L105.0 436.7L106.6 440.3Z"/>
<path d="M103.8 439.1L105.4 435.5L107.0 439.1Z"/>
<path d="M104.2 437.8L105.8 434.2L107.4 437.8Z"/>
<path d="M104.6 436.6L106.2 433.0L107.8 436.6Z"/>
<path d="M105.1 435.4L106.7 431.8L108.3 435.4Z"/>
<path d="M105.5 434.2L107.1 430.6L108.7 434.2Z"/>
<path d="M105.9 432.9L107.5 429.3L109.1 432.9Z"/>
<path d="M106.4 431.7L108.0 428.1L109.6 431.7Z"/>
<path d="M106.8 430.5L108.4 426.9L110.0 430.5Z"/>
<path d="M107.3 429.3L108.9 425.7L110.5 429.3Z"/>
<path d="M107.8 428.1L109.4 424.5L111.0 428.1Z"/>
<path d="M108.2 426.9L109.8 423.3L111.4 426.9Z"/>
<path d="M108.7 425.7L110.3 422.1L111.9 425.7Z"/>
<path d="M109.2 424.5L110.8 420.9L112.4 424.5Z"/>
<path d="M109.7 423.2L111.3 419.6L112.9 423.2Z"/>
<path d="M110.2 422.0L111.8 418.4L113.4 422.0Z"/>
<path d="M110.7 420.8L112.3 417.2L113.9 420.8Z"/>
<path d="M111.2 419.7L112.8 416.1L114.4 419.7Z"/>
<path d="M111.7 418.5L113.3 414.9L114.9 418.5Z"/>
<path d="M112.3 417.3L113.9 413.7L115.5 417.3Z"/>
<path d="M112.8 416.1L114.4 412.5L116.0 416.1Z"/>
<path d="M113.3 414.9L114.9 411.3L116.5 414.9Z"/>
<path d="M113.9 413.7L115.5 410.1L117.1 413.7Z"/>
<path d="M114.4 412.5L116.0 408.9L117.6 412.5Z"/>
<path d="M115.0 411.4L116.6 407.8L118.2 411.4Z"/>
<path d="M115.6 410.2L117.2 406.6L118.8 410.2Z"/>
<path d="M116.1 409.0L117.7 405.4L119.3 409.0Z"/>
<path d="M116.7 407.9L118.3 404.3L119.9 407.9Z"/>
<path d="M117.3 406.7L118.9 403.1L120.5 406.7Z"/>
<path d="M117.9 405.6L119.5 402.0L121.1 405.6Z"/>
<path d="M118.5 404.4L120.1 400.8L121.7 404.4Z"/>
<path d="M119.1 403.3L120.7 399.7L122.3 403.3Z"/>
<path d="M119.8 402.1L121.4 398.5L123.0 402.1Z"/>
<path d="M120.4 401.0L122.0 397.4L123.6 401.0Z"/>
<path d="M121.0 399.8L122.6 396.2L124.2 399.8Z"/>
<path d="M121.6 398.7L123.2 395.1L124.8 398.7Z"/>
<path d="M122.3 397.6L123.9 394.0L125.5 397.6Z"/>
<path d="M122.9 396.4L124.5 392.8L126.1 396.4Z"/>
<path d="M123.6 395.3L125.2 391.7L126.8 395.3Z"/>
<path d="M124.2 394.2L125.8 390.6L127.4 394.2Z"/>
<path d="M124.9 393.1L126.5 389.5L128.1 393.1Z"/>
<path d="M125.5 392.0L127.1 388.4L128.7 392.0Z"/>
<path d="M126.2 390.8L127.8 387.2L129.4 390.8Z"/>
<path d="M126.9 389.7L128.5 386.1L130.1 389.7Z"/>
<path d="M127.6 388.6L129.2 385.0L130.8 388.6Z"/>
<path d="M128.3 387.5L129.9 383.9L131.5 387.5Z"/>
<path d="M128.9 386.4L130.5 382.8L132.1 386.4Z"/>
<path d="M129.7 385.3L131.3 381.7L132.9 385.3Z"/>
<path d="M130.4 384.2L132.0 380.6L133.6 384.2Z"/>
<path d="M131.1 383.0L132.7 379.4L134.3 383.0Z"/>
<path d="M131.9 381.9L133.5 378.3L135.1 381.9Z"/>
<path d="M132.7 380.7L134.3 377.1L135.9 380.7Z"/>
<path d="M133.5 379.5L135.1 375.9L136.7 379.5Z"/>
<path d="M134.3 378.2L135.9 374.6L137.5 378.2Z"/>
<path d="M135.2 377.0L136.8 373.4L138.4 377.0Z"/>
<path d="M136.0 375.7L137.6 372.1L139.2 375.7Z"/>
<path d="M136.9 374.5L138.5 370.9L140.1 374.5Z"/>
<path d="M137.9 373.2L139.5 369.6L141.1 373.2Z"/>
<path d="M138.8 371.8L140.4 368.2L142.0 371.8Z"/>
<path d="M139.8 370.5L141.4 366.9L143.0 370.5Z"/>
<path d="M140.8 369.1L142.4 365.5L144.0 369.1Z"/>
<path d="M141.9 367.7L143.5 364.1L145.1 367.7Z"/>
<path d="M142.9 366.3L144.5 362.7L146.1 366.3Z"/>
<path d="M144.1 364.9L145.7 361.3L147.3 364.9Z"/>
<path d="M145.2 363.5L146.8 359.9L148.4 363.5Z"/>
<path d="M146.4 362.0L148.0 358.4L149.6 362.0Z"/>
<path d="M147.6 360.5L149.2 356.9L150.8 360.5Z"/>
<path d="M148.9 359.0L150.5 355.4L152.1 359.0Z"/>
<path d="M150.2 357.5L151.8 353.9L153.4 357.5Z"/>
<path d="M151.5 355.9L153.1 352.3L154.7 355.9Z"/>
<path d="M152.8 354.4L154.4 350.8L156.0 354.4Z"/>
<path d="M154.1 352.9L155.7 349.3L157.3 352.9Z"/>
<path d="M155.4 351.4L157.0 347.8L158.6 351.4Z"/>
<path d="M156.8 350.0L158.4 346.4L160.0 350.0Z"/>
<path d="M158.2 348.5L159.8 344.9L161.4 348.5Z"/>
<path d="M159.5 347.1L161.1 343.5L162.7 347.1Z"/>
<path d="M160.9 345.6L162.5 342.0L164.1 345.6Z"/>
<path d="M162.3 344.2L163.9 340.6L165.5 344.2Z"/>
<path d="M163.7 342.7L165.3 339.1L166.9 342.7Z"/>
<path d="M165.1 341.3L166.7 337.7L168.3 341.3Z"/>
<path d="M166.5 339.9L168.1 336.3L169.7 339.9Z"/>
<path d="M168.0 338.5L169.6 334.9L171.2 338.5Z"/>
<path d="M169.4 337.1L171.0 333.5L172.6 337.1Z"/>
<path d="M170.8 335.7L172.4 332.1L174.0 335.7Z"/>
<path d="M172.3 334.4L173.9 330.8L175.5 334.4Z"/>
<path d="M173.7 333.0L175.3 329.4L176.9 333.0Z"/>
<path d="M175.2 331.6L176.8 328.0L178.4 331.6Z"/>
<path d="M176.7 330.3L178.3 326.7L179.9 330.3Z"/>
<path d="M178.1 328.9L179.7 325.3L181.3 328.9Z"/>
<path d="M179.6 327.6L181.2 324.0L182.8 327.6Z"/>
<path d="M181.1 326.2L182.7 322.6L184.3 326.2Z"/>
<path d="M182.6 324.9L184.2 321.3L185.8 324.9Z"/>
<path d="M184.0 323.5L185.6 319.9L187.2 323.5Z"/>
<path d="M185.5 322.2L187.1 318.6L188.7 322.2Z"/>
<path d="M187.0 320.8L188.6 317.2L190.2 320.8Z"/>
<path d="M188.5 319.5L190.1 315.9L191.7 319.5Z"/>
<path d="M190.0 318.2L191.6 314.6L193.2 318.2Z"/>
<path d="M191.5 316.8L193.1 313.2L194.7 316.8Z"/>
<path d="M193.0 315.5L194.6 311.9L196.2 315.5Z"/>
<path d="M194.5 314.2L196.1 310.6L197.7 314.2Z"/>
<path d="M196.0 312.8L197.6 309.2L199.2 312.8Z"/>
<path d="M197.4 311.5L199.0 307.9L200.6 311.5Z"/>
<path d="M198.9 310.2L200.5 306.6L202.1 310.2Z"/>
<path d="M200.4 308.8L202.0 305.2L203.6 308.8Z"/>
<path d="M201.9 307.5L203.5 303.9L205.1 307.5Z"/>
<path d="M203.4 306.2L205.0 302.6L206.6 306.2Z"/>
<path d="M204.9 304.9L206.5 301.3L208.1 304.9Z"/>
<path d="M206.4 303.5L208.0 299.9L209.6 303.5Z"/>
<path d="M207.9 302.2L209.5 298.6L211.1 302.2Z"/>
<path d="M209.4 300.9L211.0 297.3L212.6 300.9Z"/>
<path d="M210.9 299.6L212.5 296.0L214.1 299.6Z"/>
<path d="M212.4 298.3L214.0 294.7L215.6 298.3Z"/>
<path d="M214.0 296.9L215.6 293.3L217.2 296.9Z"/>
<path d="M215.5 295.6L217.1 292.0L218.7 295.6Z"/>
<path d="M217.0 294.3L218.6 290.7L220.2 294.3Z"/>
<path d="M218.5 293.0L220.1 289.4L221.7 293.0Z"/>
<path d="M220.0 291.7L221.6 288.1L223.2 291.7Z"/>
<path d="M221.5 290.4L223.1 286.8L224.7 290.4Z"/>
<path d="M223.0 289.0L224.6 285.4L226.2 289.0Z"/>
<path d="M224.5 287.7L226.1 284.1L227.7 287.7Z"/>
<path d="M226.0 286.4L227.6 282.8L229.2 286.4Z"/>
<path d="M227.5 285.1L229.1 281.5L230.7 285.1Z"/>
<path d="M229.0 283.8L230.6 280.2L232.2 283.8Z"/>
<path d="M230.5 282.4L232.1 278.8L233.7 282.4Z"/>
<path d="M232.0 281.1L233.6 277.5L235.2 281.1Z"/>
<path d="M233.5 279.8L235.1 276.2L236.7 279.8Z"/>
<path d="M235.0 278.5L236.6 274.9L238.2 278.5Z"/>
<path d="M236.5 277.2L238.1 273.6L239.7 277.2Z"/>
<path d="M238.0 275.8L239.6 272.2L241.2 275.8Z"/>
<path d="M239.5 274.5L241.1 270.9L242.7 274.5Z"/>
<path d="M241.0 273.2L242.6 269.6L244.2 273.2Z"/>
<path d="M242.5 271.9L244.1 268.3L245.7 271.9Z"/>
<path d="M244.0 270.5L245.6 266.9L247.2 270.5Z"/>
<path d="M245.5 269.2L247.1 265.6L248.7 269.2Z"/>
<path d="M247.0 267.9L248.6 264.3L250.2 267.9Z"/>
<path d="M248.4 266.6L250.0 263.0L251.6 266.6Z"/>
</g></g>
<g stroke="#800000" fill="none">
<path d="M50.0 588.0L54.0 583.0L58.8 576.3L61.5 571.0L63.8 565.4L65.8 559.7L67.8 554.0L69.6 548.2L71.3 542.4L73.0 536.6L74.7 530.8L76.6 525.0L78.4 519.1L80.0 513.2L81.5 507.3L83.0 501.4L84.4 495.4L85.8 489.4L87.2 483.4L88.6 477.4L90.0 471.4L91.4 465.3L92.9 459.3L94.4 453.3L96.0 447.3L97.7 441.3L99.7 435.4L101.8 429.6L104.2 423.8L106.8 418.1L109.6 412.4L112.5 406.9L115.6 401.3L118.8 395.9L122.1 390.4L125.6 385.1L129.3 379.7" stroke-width="1.40" stroke-linejoin="round"/>
<path d="M129.3 379.7L133.9 373.4" stroke-width="1.62" stroke-linejoin="round"/>
<path d="M133.9 373.4L139.6 366.2" stroke-width="1.74" stroke-linejoin="round"/>
<path d="M139.6 366.2L146.5 358.0L154.0 349.5L161.5 341.0L168.8 332.9L175.9 325.1L182.9 317.6L189.9 310.6L196.9 303.8L204.1 297.2L211.4 290.8L218.7 284.5L226.2 278.3L233.7 272.3L241.3 266.5L248.9 260.7L255.0 256.0" stroke-width="1.89" stroke-linejoin="round"/>
<g fill="#fff" fill-opacity="0.85" stroke-width="1.20">
<rect x="57.3" y="574.4" width="2.9" height="3.8"/>
<rect x="60.1" y="569.1" width="2.9" height="3.8"/>
<rect x="62.3" y="563.5" width="2.9" height="3.8"/>
<rect x="64.4" y="557.8" width="2.9" height="3.8"/>
<rect x="66.3" y="552.1" width="2.9" height="3.8"/>
<rect x="68.1" y="546.3" width="2.9" height="3.8"/>
<rect x="69.8" y="540.5" width="2.9" height="3.8"/>
<rect x="71.5" y="534.7" width="2.9" height="3.8"/>
<rect x="73.3" y="528.9" width="2.9" height="3.8"/>
<rect x="75.1" y="523.1" width="2.9" height="3.8"/>
<rect x="76.9" y="517.2" width="2.9" height="3.8"/>
<rect x="78.5" y="511.3" width="2.9" height="3.8"/>
<rect x="80.1" y="505.4" width="2.9" height="3.8"/>
<rect x="81.6" y="499.5" width="2.9" height="3.8"/>
<rect x="83.0" y="493.5" width="2.9" height="3.8"/>
<rect x="84.4" y="487.5" width="2.9" height="3.8"/>
<rect x="85.8" y="481.5" width="2.9" height="3.8"/>
<rect x="87.2" y="475.5" width="2.9" height="3.8"/>
<rect x="88.5" y="469.5" width="2.9" height="3.8"/>
<rect x="89.9" y="463.4" width="2.9" height="3.8"/>
<rect x="91.4" y="457.4" width="2.9" height="3.8"/>
<rect x="92.9" y="451.4" width="2.9" height="3.8"/>
<rect x="94.5" y="445.4" width="2.9" height="3.8"/>
<rect x="96.3" y="439.4" width="2.9" height="3.8"/>
<rect x="98.2" y="433.5" width="2.9" height="3.8"/>
<rect x="100.3" y="427.7" width="2.9" height="3.8"/>
<rect x="102.7" y="421.9" width="2.9" height="3.8"/>
<rect x="105.3" y="416.2" width="2.9" height="3.8"/>
<rect x="108.1" y="410.5" width="2.9" height="3.8"/>
<rect x="111.1" y="405.0" width="2.9" height="3.8"/>
<rect x="114.2" y="399.4" width="2.9" height="3.8"/>
<rect x="117.3" y="394.0" width="2.9" height="3.8"/>
<rect x="120.7" y="388.5" width="2.9" height="3.8"/>
<rect x="124.2" y="383.2" width="2.9" height="3.8"/>
<rect x="127.9" y="377.7" width="2.8" height="3.9"/>
<rect x="132.6" y="371.4" width="2.7" height="4.0"/>
<rect x="138.3" y="364.1" width="2.6" height="4.2"/>
<rect x="145.2" y="355.9" width="2.6" height="4.2"/>
<rect x="152.7" y="347.4" width="2.6" height="4.2"/>
<rect x="160.2" y="338.9" width="2.6" height="4.2"/>
<rect x="167.5" y="330.8" width="2.6" height="4.2"/>
<rect x="174.6" y="323.0" width="2.6" height="4.2"/>
<rect x="181.6" y="315.5" width="2.6" height="4.2"/>
<rect x="188.6" y="308.5" width="2.6" height="4.2"/>
<rect x="195.6" y="301.7" width="2.6" height="4.2"/>
<rect x="202.8" y="295.1" width="2.6" height="4.2"/>
<rect x="210.1" y="288.7" width="2.6" height="4.2"/>
<rect x="217.4" y="282.4" width="2.6" height="4.2"/>
<rect x="224.9" y="276.2" width="2.6" height="4.2"/>
<rect x="232.4" y="270.2" width="2.6" height="4.2"/>
<rect x="240.0" y="264.4" width="2.6" height="4.2"/>
<rect x="247.6" y="258.6" width="2.6" height="4.2"/>
<rect x="253.7" y="253.9" width="2.6" height="4.2"/>
</g></g></g>
<g id="ref"><line x1="102.00" y1="372.60" x2="386.70" y2="372.60" stroke="#000" stroke-width="1.6"/><line x1="180.00" y1="159.30" x2="234.00" y2="159.30" stroke="#000" stroke-width="1.6"/><line x1="277.40" y1="159.30" x2="371.00" y2="159.30" stroke="#000" stroke-width="1.6"/></g>
<g id="text" filter="url(#bx)"><text xml:space="preserve" transform="translate(23.80,596.80) scale(0.4879,1)" font-family="'Liberation Sans', sans-serif" font-style="normal" font-size="29.5" fill="#000">0.0</text>
<text xml:space="preserve" transform="translate(23.79,489.20) scale(0.4898,1)" font-family="'Liberation Sans', sans-serif" font-style="normal" font-size="29.5" fill="#000">0.5</text>
<text xml:space="preserve" transform="translate(23.19,381.60) scale(0.5032,1)" font-family="'Liberation Sans', sans-serif" font-style="normal" font-size="29.5" fill="#000">1.0</text>
<text xml:space="preserve" transform="translate(23.18,274.00) scale(0.5052,1)" font-family="'Liberation Sans', sans-serif" font-style="normal" font-size="29.5" fill="#000">1.5</text>
<text xml:space="preserve" transform="translate(23.57,166.40) scale(0.4935,1)" font-family="'Liberation Sans', sans-serif" font-style="normal" font-size="29.5" fill="#000">2.0</text>
<text xml:space="preserve" transform="translate(23.57,58.80) scale(0.4954,1)" font-family="'Liberation Sans', sans-serif" font-style="normal" font-size="29.5" fill="#000">2.5</text>
<text xml:space="preserve" transform="translate(45.22,621.60) scale(0.4775,1)" font-family="'Liberation Sans', sans-serif" font-style="normal" font-size="28.5" fill="#000">0</text>
<text xml:space="preserve" transform="translate(110.73,621.60) scale(0.4842,1)" font-family="'Liberation Sans', sans-serif" font-style="normal" font-size="28.5" fill="#000">10</text>
<text xml:space="preserve" transform="translate(180.77,621.60) scale(0.4724,1)" font-family="'Liberation Sans', sans-serif" font-style="normal" font-size="28.5" fill="#000">20</text>
<text xml:space="preserve" transform="translate(250.65,621.60) scale(0.4656,1)" font-family="'Liberation Sans', sans-serif" font-style="normal" font-size="28.5" fill="#000">30</text>
<text xml:space="preserve" transform="translate(320.52,621.60) scale(0.4590,1)" font-family="'Liberation Sans', sans-serif" font-style="normal" font-size="28.5" fill="#000">40</text>
<text xml:space="preserve" transform="translate(389.92,621.60) scale(0.4678,1)" font-family="'Liberation Sans', sans-serif" font-style="normal" font-size="28.5" fill="#000">50</text>
<text xml:space="preserve" transform="translate(215.21,664.60) scale(0.4868,1)" font-family="'Liberation Sans', sans-serif" font-style="normal" font-size="40" fill="#000">T</text>
<text xml:space="preserve" transform="translate(238.26,664.60) scale(0.4793,1)" font-family="'Liberation Sans', sans-serif" font-style="normal" font-size="40" fill="#000"><tspan dy="1.5">[</tspan><tspan dy="-1.5">K</tspan><tspan dy="1.5">]</tspan></text>
<rect x="222" y="15" width="43" height="28" fill="#fff"/>
<text xml:space="preserve" transform="translate(226.31,39.70) scale(0.4940,1)" font-family="'Liberation Serif', serif" font-style="normal" font-size="31.5" fill="#000">R<tspan font-family="'Liberation Serif', serif" font-style="italic">ln</tspan> 6</text>
<text xml:space="preserve" transform="translate(239.62,164.00) scale(0.4862,1)" font-family="'Liberation Serif', serif" font-style="normal" font-size="31.5" fill="#000">R<tspan font-family="'Liberation Serif', serif" font-style="italic">ln</tspan> 4</text>
<text xml:space="preserve" transform="translate(63.62,379.70) scale(0.4804,1)" font-family="'Liberation Serif', serif" font-style="normal" font-size="31.5" fill="#000">R<tspan font-family="'Liberation Serif', serif" font-style="italic">ln</tspan> 2</text>
<text xml:space="preserve" transform="translate(290.23,101.20) scale(0.4816,1)" font-family="'Liberation Serif', serif" font-style="normal" font-size="40" fill="#000">CeTi</text>
<text xml:space="preserve" transform="translate(328.35,117.00) scale(0.4671,1)" font-family="'Liberation Serif', serif" font-style="normal" font-size="24" fill="#000">1-x</text>
<text xml:space="preserve" transform="translate(346.71,101.20) scale(0.4972,1)" font-family="'Liberation Serif', serif" font-style="normal" font-size="40" fill="#000">Sc</text>
<text xml:space="preserve" transform="translate(366.44,117.00) scale(0.4983,1)" font-family="'Liberation Serif', serif" font-style="normal" font-size="24" fill="#000">x</text>
<text xml:space="preserve" transform="translate(374.57,101.20) scale(0.5183,1)" font-family="'Liberation Serif', serif" font-style="normal" font-size="40" fill="#000">Ge</text>
<text xml:space="preserve" transform="translate(112.72,93.90) scale(0.4852,1)" font-family="'Liberation Serif', serif" font-style="normal" font-size="31" fill="#800000">x= 0.25</text>
<text xml:space="preserve" transform="translate(112.73,132.40) scale(0.4816,1)" font-family="'Liberation Serif', serif" font-style="normal" font-size="31" fill="#ff0080">x= 0.3</text>
<text xml:space="preserve" transform="translate(112.73,170.90) scale(0.4779,1)" font-family="'Liberation Serif', serif" font-style="normal" font-size="31" fill="#8000ff">x= 0.4</text>
<text xml:space="preserve" transform="translate(113.23,209.20) scale(0.4778,1)" font-family="'Liberation Serif', serif" font-style="normal" font-size="31" fill="#ff8000">x= 0.5</text>
<text xml:space="preserve" transform="translate(113.23,248.10) scale(0.4769,1)" font-family="'Liberation Serif', serif" font-style="normal" font-size="31" fill="#008080">x= 0.6</text>
<text xml:space="preserve" transform="translate(113.23,287.10) scale(0.4759,1)" font-family="'Liberation Serif', serif" font-style="normal" font-size="31" fill="#800080">x= 0.7</text>
<text xml:space="preserve" transform="translate(349.63,425.90) scale(0.4765,1)" font-family="'Liberation Serif', serif" font-style="normal" font-size="31" fill="#ff00ff">x= 0.8</text>
<text xml:space="preserve" transform="translate(349.63,464.60) scale(0.4775,1)" font-family="'Liberation Serif', serif" font-style="normal" font-size="31" fill="#0000ff">x= 0.9</text>
<text xml:space="preserve" transform="translate(349.63,503.00) scale(0.4756,1)" font-family="'Liberation Serif', serif" font-style="normal" font-size="31" fill="#ff0000">x= 0.95</text>
<text xml:space="preserve" transform="translate(351.38,541.40) scale(0.5002,1)" font-family="'Liberation Serif', serif" font-style="normal" font-size="31" fill="#000000">CeScGe</text></g>
<g id="legend"><line x1="69.50" y1="83.50" x2="109.00" y2="83.50" stroke="#800000" stroke-width="2.7"/>
<g stroke="#800000" fill="#fff" stroke-width="1.05"><rect x="87.7" y="80.8" width="2.7" height="5.4"/></g>
<line x1="69.50" y1="122.00" x2="109.00" y2="122.00" stroke="#ff0080" stroke-width="2.7"/>
<g stroke="#ff0080" fill="#fff" stroke-width="1.05"><path d="M87.6 124.0L89.0 118.2L90.5 124.0Z"/></g>
<line x1="69.50" y1="160.50" x2="109.00" y2="160.50" stroke="#8000ff" stroke-width="2.7"/>
<g stroke="#8000ff" fill="#fff" stroke-width="1.05"><path d="M86.8 160.5L89.0 156.3L91.2 160.5L89.0 164.7Z"/><path d="M86.8 160.5H91.2M89.0 156.3V164.7" fill="none"/></g>
<line x1="69.50" y1="198.80" x2="109.00" y2="198.80" stroke="#ff8000" stroke-width="2.7"/>
<g stroke="#ff8000" fill="#fff" stroke-width="1.05"><path d="M90.6 195.5L87.1 198.8L90.6 202.1Z"/></g>
<line x1="69.50" y1="237.70" x2="109.00" y2="237.70" stroke="#008080" stroke-width="2.7"/>
<g stroke="#008080" fill="#fff" stroke-width="1.05"><path d="M87.5 234.4L91.0 237.7L87.5 241.0Z"/></g>
<line x1="69.50" y1="276.70" x2="109.00" y2="276.70" stroke="#800000" stroke-width="2.7"/>
<g stroke="#800000" fill="#fff" stroke-width="1.05"><path d="M90.6 273.4L87.1 276.7L90.6 280.0Z"/></g>
<line x1="306.00" y1="415.50" x2="345.80" y2="415.50" stroke="#ff00ff" stroke-width="2.7"/>
<g stroke="#ff00ff" fill="#fff" stroke-width="1.05"><path d="M327.2 412.2L323.8 415.5L327.2 418.8Z"/></g>
<line x1="306.00" y1="454.20" x2="345.80" y2="454.20" stroke="#0000ff" stroke-width="2.7"/>
<g stroke="#0000ff" fill="#fff" stroke-width="1.05"><path d="M324.2 456.2L325.7 450.4L327.1 456.2Z"/></g>
<line x1="306.00" y1="492.60" x2="345.80" y2="492.60" stroke="#ff0000" stroke-width="4.3"/>
<g stroke="#ff0000" fill="#fff" stroke-width="1.05"><ellipse cx="325.7" cy="492.6" rx="2.1" ry="3.4"/></g>
<line x1="306.00" y1="531.00" x2="345.80" y2="531.00" stroke="#000000" stroke-width="2.7"/>
<g stroke="#000000" fill="#fff" stroke-width="1.05"><rect x="324.3" y="528.3" width="2.7" height="5.4"/></g></g>
<g id="ylabel" opacity="0.999"><text transform="translate(17.80,433.96) rotate(-90) scale(1,0.5549)" font-family="'Liberation Sans', sans-serif" font-style="normal" font-size="37.50" fill="#000" stroke="#000" stroke-width="0.25" vector-effect="non-scaling-stroke">S</text><text transform="translate(24.80,407.52) rotate(-90) scale(1,0.5539)" font-family="'Liberation Sans', sans-serif" font-style="normal" font-size="24.00" fill="#000" stroke="#000" stroke-width="0.25" vector-effect="non-scaling-stroke">m</text><text transform="translate(17.80,376.75) rotate(-90) scale(1,0.5549)" font-family="'Liberation Sans', sans-serif" font-style="normal" font-size="37.50" fill="#000" stroke="#000" stroke-width="0.25" vector-effect="non-scaling-stroke">/</text><text transform="translate(17.80,352.71) rotate(-90) scale(1,0.5549)" font-family="'Liberation Sans', sans-serif" font-style="normal" font-size="37.50" fill="#000" stroke="#000" stroke-width="0.25" vector-effect="non-scaling-stroke">R</text><text transform="translate(17.80,321.77) rotate(-90) scale(1,0.5549)" font-family="'Liberation Sans', sans-serif" font-style="italic" font-size="37.50" fill="#000" stroke="#000" stroke-width="0.25" vector-effect="non-scaling-stroke">ln</text><text transform="translate(17.80,280.33) rotate(-90) scale(1,0.5549)" font-family="'Liberation Sans', sans-serif" font-style="italic" font-size="37.50" fill="#000" stroke="#000" stroke-width="0.25" vector-effect="non-scaling-stroke">2</text></g></svg></body></html>
